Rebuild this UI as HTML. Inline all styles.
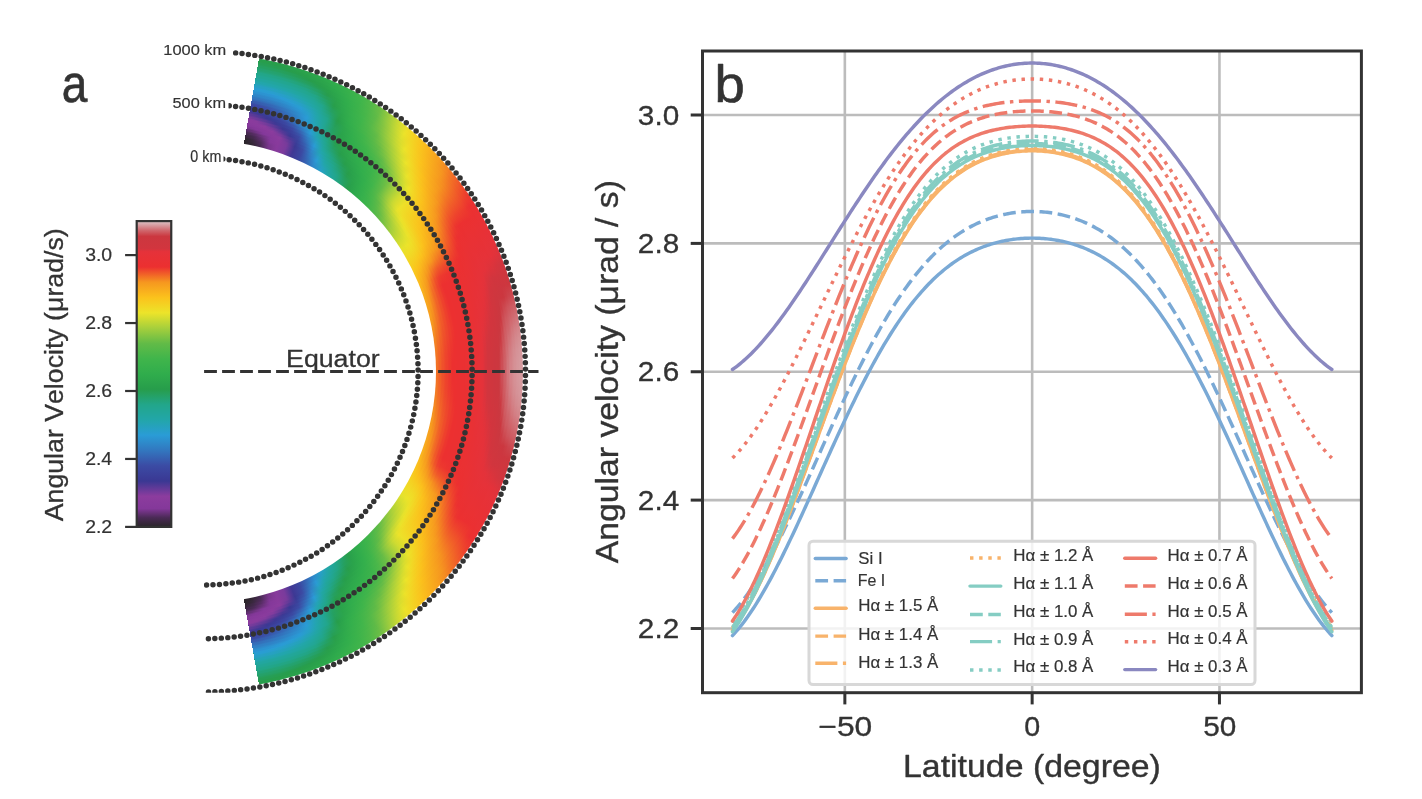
<!DOCTYPE html>
<html><head><meta charset="utf-8"><title>Figure</title>
<style>
html,body{margin:0;padding:0;background:#fff;}
body{width:1422px;height:799px;position:relative;overflow:hidden;font-family:"Liberation Sans", sans-serif;}
.r{position:absolute;border-radius:50%;}
svg text{font-family:"Liberation Sans", sans-serif;font-kerning:none;stroke:#333;stroke-width:0.012em;stroke-linejoin:round;}
</style></head><body>
<div style="position:absolute;left:0;top:0;width:1422px;height:799px;transform-origin:0 371.6px;transform:scaleY(0.9945)"><div class="r" style="left:-116.1px;top:52px;width:639.2px;height:639.2px;background:conic-gradient(#0000 10deg,#289e4b 10deg,#289f4b 12deg,#29a04b 14deg,#29a14b 16deg,#2aa34b 18deg,#2ca54c 20deg,#2da84c 22deg,#30ac4c 24deg,#34af4c 26deg,#3bb24b 28deg,#43b64b 30deg,#55b949 32deg,#73c044 34deg,#a2ce3d 36deg,#d2dc31 38deg,#efdd27 40deg,#f6cd20 42deg,#fabd1c 44deg,#f8ab1e 46deg,#f79c1f 48deg,#f48223 50deg,#f16627 52deg,#ef4e2b 54deg,#ed392f 56deg,#eb3031 58deg,#ea3134 60deg,#e83136 62deg,#e73238 64deg,#e5323a 66deg,#dc333c 68deg,#d2353e 70deg,#cf363e 72deg,#cc373f 74deg,#cd484f 76deg,#cf5f65 78deg,#d17278 80deg,#d48489 82deg,#d59094 84deg,#d6979b 86deg,#d69b9f 88deg,#d79ca0 90deg,#d69b9f 92deg,#d6979b 94deg,#d59094 96deg,#d48489 98deg,#d17278 100deg,#cf5f65 102deg,#cd484f 104deg,#cc373f 106deg,#cf363e 108deg,#d2353e 110deg,#dc333c 112deg,#e5323a 114deg,#e73238 116deg,#e83136 118deg,#ea3134 120deg,#eb3031 122deg,#ed392f 124deg,#ef4e2b 126deg,#f16627 128deg,#f48223 130deg,#f79c1f 132deg,#f8ab1e 134deg,#fabd1c 136deg,#f6cd20 138deg,#efdd27 140deg,#d2dc31 142deg,#a2ce3d 144deg,#73c044 146deg,#55b949 148deg,#43b64b 150deg,#3bb24b 152deg,#34af4c 154deg,#30ac4c 156deg,#2da84c 158deg,#2ca54c 160deg,#2aa34b 162deg,#29a14b 164deg,#29a04b 166deg,#289f4b 168deg,#289e4b 170deg,#0000 170deg)"></div>
<div class="r" style="left:-114.65px;top:53.45px;width:636.31px;height:636.31px;background:conic-gradient(#0000 10deg,#279d4b 10deg,#279e4b 12deg,#289e4b 14deg,#29a04b 16deg,#2aa14b 18deg,#2ba44b 20deg,#2ca74c 22deg,#2fab4c 24deg,#33af4c 26deg,#3ab24b 28deg,#41b54b 30deg,#53b849 32deg,#70bf45 34deg,#a0cd3d 36deg,#cfdb31 38deg,#eede28 40deg,#f6ce21 42deg,#fbbe1c 44deg,#f9ad1d 46deg,#f79d1f 48deg,#f48522 50deg,#f26927 52deg,#ef522a 54deg,#ed3c2e 56deg,#eb3031 58deg,#ea3133 60deg,#e83135 62deg,#e73137 64deg,#e63239 66deg,#dd333c 68deg,#d2353e 70deg,#cf363e 72deg,#cc373f 74deg,#cd474e 76deg,#cf5e64 78deg,#d17177 80deg,#d38388 82deg,#d58f93 84deg,#d6969b 86deg,#d69a9e 88deg,#d79ba0 90deg,#d69a9e 92deg,#d6969b 94deg,#d58f93 96deg,#d38388 98deg,#d17177 100deg,#cf5e64 102deg,#cd474e 104deg,#cc373f 106deg,#cf363e 108deg,#d2353e 110deg,#dd333c 112deg,#e63239 114deg,#e73137 116deg,#e83135 118deg,#ea3133 120deg,#eb3031 122deg,#ed3c2e 124deg,#ef522a 126deg,#f26927 128deg,#f48522 130deg,#f79d1f 132deg,#f9ad1d 134deg,#fbbe1c 136deg,#f6ce21 138deg,#eede28 140deg,#cfdb31 142deg,#a0cd3d 144deg,#70bf45 146deg,#53b849 148deg,#41b54b 150deg,#3ab24b 152deg,#33af4c 154deg,#2fab4c 156deg,#2ca74c 158deg,#2ba44b 160deg,#2aa14b 162deg,#29a04b 164deg,#289e4b 166deg,#279e4b 168deg,#279d4b 170deg,#0000 170deg)"></div>
<div class="r" style="left:-113.21px;top:54.89px;width:633.41px;height:633.41px;background:conic-gradient(#0000 10deg,#279e50 10deg,#279d4e 12deg,#279d4b 14deg,#289e4b 16deg,#29a04b 18deg,#2aa24b 20deg,#2ba54b 22deg,#2ea94c 24deg,#32ae4c 26deg,#39b14b 28deg,#40b54b 30deg,#52b849 32deg,#6dbe45 34deg,#9dcc3e 36deg,#ccda32 38deg,#eee028 40deg,#f5d022 42deg,#fbc01c 44deg,#f9ae1d 46deg,#f79f1e 48deg,#f58921 50deg,#f26d26 52deg,#f0552a 54deg,#ed3f2d 56deg,#ec3031 58deg,#ea3133 60deg,#e83135 62deg,#e73137 64deg,#e63239 66deg,#df333b 68deg,#d2353e 70deg,#cf363e 72deg,#cc373f 74deg,#cc454d 76deg,#cf5c63 78deg,#d16e74 80deg,#d38086 82deg,#d58d91 84deg,#d69499 86deg,#d6999d 88deg,#d69a9e 90deg,#d6999d 92deg,#d69499 94deg,#d58d91 96deg,#d38086 98deg,#d16e74 100deg,#cf5c63 102deg,#cc454d 104deg,#cc373f 106deg,#cf363e 108deg,#d2353e 110deg,#df333b 112deg,#e63239 114deg,#e73137 116deg,#e83135 118deg,#ea3133 120deg,#ec3031 122deg,#ed3f2d 124deg,#f0552a 126deg,#f26d26 128deg,#f58921 130deg,#f79f1e 132deg,#f9ae1d 134deg,#fbc01c 136deg,#f5d022 138deg,#eee028 140deg,#ccda32 142deg,#9dcc3e 144deg,#6dbe45 146deg,#52b849 148deg,#40b54b 150deg,#39b14b 152deg,#32ae4c 154deg,#2ea94c 156deg,#2ba54b 158deg,#2aa24b 160deg,#29a04b 162deg,#289e4b 164deg,#279d4b 166deg,#279d4e 168deg,#279e50 170deg,#0000 170deg)"></div>
<div class="r" style="left:-111.76px;top:56.34px;width:630.52px;height:630.52px;background:conic-gradient(#0000 10deg,#269e55 10deg,#269e54 12deg,#279e51 14deg,#279d4c 16deg,#289e4b 18deg,#29a04b 20deg,#2ba34b 22deg,#2da84c 24deg,#31ad4c 26deg,#38b14c 28deg,#3fb54b 30deg,#50b849 32deg,#6abd46 34deg,#9acb3e 36deg,#c9d933 38deg,#ede129 40deg,#f4d122 42deg,#fbc21c 44deg,#f9b01d 46deg,#f7a01e 48deg,#f58c21 50deg,#f27025 52deg,#f05829 54deg,#ee422d 56deg,#ec3030 58deg,#ea3133 60deg,#e93135 62deg,#e73137 64deg,#e63239 66deg,#e1333b 68deg,#d3353e 70deg,#d0363e 72deg,#cd373f 74deg,#cc434b 76deg,#cf5a61 78deg,#d06b71 80deg,#d37d83 82deg,#d48a8f 84deg,#d59297 86deg,#d6969b 88deg,#d6989c 90deg,#d6969b 92deg,#d59297 94deg,#d48a8f 96deg,#d37d83 98deg,#d06b71 100deg,#cf5a61 102deg,#cc434b 104deg,#cd373f 106deg,#d0363e 108deg,#d3353e 110deg,#e1333b 112deg,#e63239 114deg,#e73137 116deg,#e93135 118deg,#ea3133 120deg,#ec3030 122deg,#ee422d 124deg,#f05829 126deg,#f27025 128deg,#f58c21 130deg,#f7a01e 132deg,#f9b01d 134deg,#fbc21c 136deg,#f4d122 138deg,#ede129 140deg,#c9d933 142deg,#9acb3e 144deg,#6abd46 146deg,#50b849 148deg,#3fb54b 150deg,#38b14c 152deg,#31ad4c 154deg,#2da84c 156deg,#2ba34b 158deg,#29a04b 160deg,#289e4b 162deg,#279d4c 164deg,#279e51 166deg,#269e54 168deg,#269e55 170deg,#0000 170deg)"></div>
<div class="r" style="left:-110.31px;top:57.79px;width:627.63px;height:627.63px;background:conic-gradient(#0000 10deg,#269f5b 10deg,#269f5a 12deg,#269f57 14deg,#269e53 16deg,#279d4d 18deg,#289f4b 20deg,#2aa14b 22deg,#2ca64c 24deg,#30ac4c 26deg,#37b04c 28deg,#3eb44b 30deg,#4fb849 32deg,#68bd46 34deg,#97cb3e 36deg,#c5d834 38deg,#ece32a 40deg,#f4d323 42deg,#fac31d 44deg,#f9b21d 46deg,#f7a21e 48deg,#f59020 50deg,#f37425 52deg,#f05b29 54deg,#ee452c 56deg,#ec3030 58deg,#ea3032 60deg,#e93134 62deg,#e83136 64deg,#e63238 66deg,#e2323b 68deg,#d4353d 70deg,#d0363e 72deg,#cd363f 74deg,#cc4048 76deg,#ce575e 78deg,#d0676d 80deg,#d2797f 82deg,#d4868b 84deg,#d58f94 86deg,#d69398 88deg,#d6959a 90deg,#d69398 92deg,#d58f94 94deg,#d4868b 96deg,#d2797f 98deg,#d0676d 100deg,#ce575e 102deg,#cc4048 104deg,#cd363f 106deg,#d0363e 108deg,#d4353d 110deg,#e2323b 112deg,#e63238 114deg,#e83136 116deg,#e93134 118deg,#ea3032 120deg,#ec3030 122deg,#ee452c 124deg,#f05b29 126deg,#f37425 128deg,#f59020 130deg,#f7a21e 132deg,#f9b21d 134deg,#fac31d 136deg,#f4d323 138deg,#ece32a 140deg,#c5d834 142deg,#97cb3e 144deg,#68bd46 146deg,#4fb849 148deg,#3eb44b 150deg,#37b04c 152deg,#30ac4c 154deg,#2ca64c 156deg,#2aa14b 158deg,#289f4b 160deg,#279d4d 162deg,#269e53 164deg,#269f57 166deg,#269f5a 168deg,#269f5b 170deg,#0000 170deg)"></div>
<div class="r" style="left:-108.87px;top:59.23px;width:624.73px;height:624.73px;background:conic-gradient(#0000 10deg,#25a062 10deg,#25a061 12deg,#25a05e 14deg,#269f5a 16deg,#269e54 18deg,#279d4c 20deg,#29a04b 22deg,#2ba54b 24deg,#2fab4c 26deg,#36b04c 28deg,#3db44b 30deg,#4db749 32deg,#65bc47 34deg,#94ca3f 36deg,#c2d735 38deg,#eae32a 40deg,#f3d424 42deg,#fac51d 44deg,#f9b41d 46deg,#f7a41e 48deg,#f69420 50deg,#f37724 52deg,#f15e28 54deg,#ee482c 56deg,#ec3330 58deg,#eb3032 60deg,#e93134 62deg,#e83136 64deg,#e63238 66deg,#e4323a 68deg,#d6343d 70deg,#d0363e 72deg,#cd363f 74deg,#cc3d45 76deg,#ce545b 78deg,#d0646a 80deg,#d2757a 82deg,#d38287 84deg,#d48b90 86deg,#d59095 88deg,#d59296 90deg,#d59095 92deg,#d48b90 94deg,#d38287 96deg,#d2757a 98deg,#d0646a 100deg,#ce545b 102deg,#cc3d45 104deg,#cd363f 106deg,#d0363e 108deg,#d6343d 110deg,#e4323a 112deg,#e63238 114deg,#e83136 116deg,#e93134 118deg,#eb3032 120deg,#ec3330 122deg,#ee482c 124deg,#f15e28 126deg,#f37724 128deg,#f69420 130deg,#f7a41e 132deg,#f9b41d 134deg,#fac51d 136deg,#f3d424 138deg,#eae32a 140deg,#c2d735 142deg,#94ca3f 144deg,#65bc47 146deg,#4db749 148deg,#3db44b 150deg,#36b04c 152deg,#2fab4c 154deg,#2ba54b 156deg,#29a04b 158deg,#279d4c 160deg,#269e54 162deg,#269f5a 164deg,#25a05e 166deg,#25a061 168deg,#25a062 170deg,#0000 170deg)"></div>
<div class="r" style="left:-107.42px;top:60.68px;width:621.84px;height:621.84px;background:conic-gradient(#0000 10deg,#25a169 10deg,#25a168 12deg,#25a166 14deg,#25a061 16deg,#269f5b 18deg,#269e54 20deg,#289e4b 22deg,#2aa34b 24deg,#2eaa4c 26deg,#34af4c 28deg,#3db34b 30deg,#4cb74a 32deg,#62bb47 34deg,#90c940 36deg,#bed636 38deg,#e6e22b 40deg,#f2d624 42deg,#f9c61e 44deg,#fab61d 46deg,#f8a61e 48deg,#f6971f 50deg,#f37b24 52deg,#f16228 54deg,#ef4b2c 56deg,#ed352f 58deg,#eb3032 60deg,#e93134 62deg,#e83136 64deg,#e73238 66deg,#e5323a 68deg,#d8343d 70deg,#d0353e 72deg,#cd363f 74deg,#cb3941 76deg,#ce5158 78deg,#cf6167 80deg,#d16f75 82deg,#d37d83 84deg,#d4878c 86deg,#d58c91 88deg,#d58e93 90deg,#d58c91 92deg,#d4878c 94deg,#d37d83 96deg,#d16f75 98deg,#cf6167 100deg,#ce5158 102deg,#cb3941 104deg,#cd363f 106deg,#d0353e 108deg,#d8343d 110deg,#e5323a 112deg,#e73238 114deg,#e83136 116deg,#e93134 118deg,#eb3032 120deg,#ed352f 122deg,#ef4b2c 124deg,#f16228 126deg,#f37b24 128deg,#f6971f 130deg,#f8a61e 132deg,#fab61d 134deg,#f9c61e 136deg,#f2d624 138deg,#e6e22b 140deg,#bed636 142deg,#90c940 144deg,#62bb47 146deg,#4cb74a 148deg,#3db34b 150deg,#34af4c 152deg,#2eaa4c 154deg,#2aa34b 156deg,#289e4b 158deg,#269e54 160deg,#269f5b 162deg,#25a061 164deg,#25a166 166deg,#25a168 168deg,#25a169 170deg,#0000 170deg)"></div>
<div class="r" style="left:-105.97px;top:62.13px;width:618.95px;height:618.95px;background:conic-gradient(#0000 10deg,#24a270 10deg,#24a270 12deg,#24a26d 14deg,#25a169 16deg,#25a063 18deg,#269f5b 20deg,#279e4f 22deg,#29a14b 24deg,#2da84c 26deg,#33af4c 28deg,#3cb34b 30deg,#4ab74a 32deg,#60bb47 34deg,#8dc840 36deg,#bad537 38deg,#e3e12c 40deg,#f1d825 42deg,#f8c81f 44deg,#fab81d 46deg,#f8a71e 48deg,#f6991f 50deg,#f47e23 52deg,#f16527 54deg,#ef4e2b 56deg,#ed382f 58deg,#eb3032 60deg,#e93134 62deg,#e83136 64deg,#e73238 66deg,#e5323a 68deg,#d9343c 70deg,#d1353e 72deg,#ce363f 74deg,#cb373f 76deg,#cd4d54 78deg,#cf5d64 80deg,#d0696f 82deg,#d2787e 84deg,#d38287 86deg,#d4888d 88deg,#d48a8f 90deg,#d4888d 92deg,#d38287 94deg,#d2787e 96deg,#d0696f 98deg,#cf5d64 100deg,#cd4d54 102deg,#cb373f 104deg,#ce363f 106deg,#d1353e 108deg,#d9343c 110deg,#e5323a 112deg,#e73238 114deg,#e83136 116deg,#e93134 118deg,#eb3032 120deg,#ed382f 122deg,#ef4e2b 124deg,#f16527 126deg,#f47e23 128deg,#f6991f 130deg,#f8a71e 132deg,#fab81d 134deg,#f8c81f 136deg,#f1d825 138deg,#e3e12c 140deg,#bad537 142deg,#8dc840 144deg,#60bb47 146deg,#4ab74a 148deg,#3cb34b 150deg,#33af4c 152deg,#2da84c 154deg,#29a14b 156deg,#279e4f 158deg,#269f5b 160deg,#25a063 162deg,#25a169 164deg,#24a26d 166deg,#24a270 168deg,#24a270 170deg,#0000 170deg)"></div>
<div class="r" style="left:-104.53px;top:63.57px;width:616.05px;height:616.05px;background:conic-gradient(#0000 10deg,#23a378 10deg,#23a377 12deg,#24a375 14deg,#24a271 16deg,#24a26b 18deg,#25a063 20deg,#269f56 22deg,#29a04b 24deg,#2da74c 26deg,#32ae4c 28deg,#3bb34b 30deg,#49b74a 32deg,#5fba47 34deg,#89c741 36deg,#b6d438 38deg,#dfe02d 40deg,#f1da26 42deg,#f7ca1f 44deg,#faba1d 46deg,#f8a91e 48deg,#f69b1f 50deg,#f48222 52deg,#f16827 54deg,#ef502b 56deg,#ed3a2e 58deg,#eb3031 60deg,#ea3134 62deg,#e83135 64deg,#e73137 66deg,#e53239 68deg,#db343c 70deg,#d1353e 72deg,#ce363f 74deg,#cc373f 76deg,#cd4950 78deg,#cf5a60 80deg,#d0656b 82deg,#d17378 84deg,#d37d83 86deg,#d48389 88deg,#d4858b 90deg,#d48389 92deg,#d37d83 94deg,#d17378 96deg,#d0656b 98deg,#cf5a60 100deg,#cd4950 102deg,#cc373f 104deg,#ce363f 106deg,#d1353e 108deg,#db343c 110deg,#e53239 112deg,#e73137 114deg,#e83135 116deg,#ea3134 118deg,#eb3031 120deg,#ed3a2e 122deg,#ef502b 124deg,#f16827 126deg,#f48222 128deg,#f69b1f 130deg,#f8a91e 132deg,#faba1d 134deg,#f7ca1f 136deg,#f1da26 138deg,#dfe02d 140deg,#b6d438 142deg,#89c741 144deg,#5fba47 146deg,#49b74a 148deg,#3bb34b 150deg,#32ae4c 152deg,#2da74c 154deg,#29a04b 156deg,#269f56 158deg,#25a063 160deg,#24a26b 162deg,#24a271 164deg,#24a375 166deg,#23a377 168deg,#23a378 170deg,#0000 170deg)"></div>
<div class="r" style="left:-103.08px;top:65.02px;width:613.16px;height:613.16px;background:conic-gradient(#0000 10deg,#23a580 10deg,#23a580 12deg,#23a47d 14deg,#23a479 16deg,#24a373 18deg,#24a26b 20deg,#26a05e 22deg,#289e4b 24deg,#2ca64c 26deg,#31ae4c 28deg,#3ab24b 30deg,#47b64a 32deg,#5dba48 34deg,#86c641 36deg,#b2d339 38deg,#dadf2f 40deg,#f0dc27 42deg,#f7cc20 44deg,#fabc1c 46deg,#f8ab1e 48deg,#f79d1f 50deg,#f48622 52deg,#f26b26 54deg,#ef532a 56deg,#ed3c2e 58deg,#eb3031 60deg,#ea3133 62deg,#e83135 64deg,#e73137 66deg,#e63239 68deg,#dd333c 70deg,#d1353e 72deg,#ce363f 74deg,#cc373f 76deg,#cc444c 78deg,#ce555c 80deg,#cf6168 82deg,#d16c72 84deg,#d2777d 86deg,#d37e83 88deg,#d38085 90deg,#d37e83 92deg,#d2777d 94deg,#d16c72 96deg,#cf6168 98deg,#ce555c 100deg,#cc444c 102deg,#cc373f 104deg,#ce363f 106deg,#d1353e 108deg,#dd333c 110deg,#e63239 112deg,#e73137 114deg,#e83135 116deg,#ea3133 118deg,#eb3031 120deg,#ed3c2e 122deg,#ef532a 124deg,#f26b26 126deg,#f48622 128deg,#f79d1f 130deg,#f8ab1e 132deg,#fabc1c 134deg,#f7cc20 136deg,#f0dc27 138deg,#dadf2f 140deg,#b2d339 142deg,#86c641 144deg,#5dba48 146deg,#47b64a 148deg,#3ab24b 150deg,#31ae4c 152deg,#2ca64c 154deg,#289e4b 156deg,#26a05e 158deg,#24a26b 160deg,#24a373 162deg,#23a479 164deg,#23a47d 166deg,#23a580 168deg,#23a580 170deg,#0000 170deg)"></div>
<div class="r" style="left:-101.63px;top:66.47px;width:610.27px;height:610.27px;background:conic-gradient(#0000 10deg,#22a689 10deg,#22a689 12deg,#22a586 14deg,#23a582 16deg,#23a47c 18deg,#24a374 20deg,#25a166 22deg,#279d4e 24deg,#2ba44b 26deg,#30ad4c 28deg,#3ab24b 30deg,#46b64a 32deg,#5cba48 34deg,#82c442 36deg,#aed13a 38deg,#d6dd30 40deg,#efde27 42deg,#f6ce21 44deg,#fbbe1c 46deg,#f9ae1d 48deg,#f79f1e 50deg,#f58a21 52deg,#f26e26 54deg,#f0552a 56deg,#ed3d2e 58deg,#eb3031 60deg,#ea3133 62deg,#e83135 64deg,#e73137 66deg,#e63239 68deg,#de333b 70deg,#d1353e 72deg,#cf363e 74deg,#cd373f 76deg,#cc3d45 78deg,#cd4e55 80deg,#cf5b61 82deg,#d0646a 84deg,#d16d73 86deg,#d2757a 88deg,#d2777d 90deg,#d2757a 92deg,#d16d73 94deg,#d0646a 96deg,#cf5b61 98deg,#cd4e55 100deg,#cc3d45 102deg,#cd373f 104deg,#cf363e 106deg,#d1353e 108deg,#de333b 110deg,#e63239 112deg,#e73137 114deg,#e83135 116deg,#ea3133 118deg,#eb3031 120deg,#ed3d2e 122deg,#f0552a 124deg,#f26e26 126deg,#f58a21 128deg,#f79f1e 130deg,#f9ae1d 132deg,#fbbe1c 134deg,#f6ce21 136deg,#efde27 138deg,#d6dd30 140deg,#aed13a 142deg,#82c442 144deg,#5cba48 146deg,#46b64a 148deg,#3ab24b 150deg,#30ad4c 152deg,#2ba44b 154deg,#279d4e 156deg,#25a166 158deg,#24a374 160deg,#23a47c 162deg,#23a582 164deg,#22a586 166deg,#22a689 168deg,#22a689 170deg,#0000 170deg)"></div>
<div class="r" style="left:-100.19px;top:67.91px;width:607.37px;height:607.37px;background:conic-gradient(#0000 10deg,#22a68f 10deg,#22a68e 12deg,#22a68d 14deg,#22a68b 16deg,#22a585 18deg,#23a47d 20deg,#24a26e 22deg,#269e55 24deg,#2aa34b 26deg,#30ac4c 28deg,#39b14b 30deg,#44b64a 32deg,#5aba48 34deg,#7fc342 36deg,#aad03b 38deg,#d1dc31 40deg,#eee028 42deg,#f5d022 44deg,#fbc11c 46deg,#f9b01d 48deg,#f7a01e 50deg,#f58e21 52deg,#f27125 54deg,#f0572a 56deg,#ed3f2e 58deg,#eb3031 60deg,#ea3133 62deg,#e93135 64deg,#e73137 66deg,#e63239 68deg,#e0333b 70deg,#d2353e 72deg,#d0363e 74deg,#cd363f 76deg,#cb373f 78deg,#cc444b 80deg,#ce5158 82deg,#cf5c62 84deg,#d0646a 86deg,#d0686e 88deg,#d06b71 90deg,#d0686e 92deg,#d0646a 94deg,#cf5c62 96deg,#ce5158 98deg,#cc444b 100deg,#cb373f 102deg,#cd363f 104deg,#d0363e 106deg,#d2353e 108deg,#e0333b 110deg,#e63239 112deg,#e73137 114deg,#e93135 116deg,#ea3133 118deg,#eb3031 120deg,#ed3f2e 122deg,#f0572a 124deg,#f27125 126deg,#f58e21 128deg,#f7a01e 130deg,#f9b01d 132deg,#fbc11c 134deg,#f5d022 136deg,#eee028 138deg,#d1dc31 140deg,#aad03b 142deg,#7fc342 144deg,#5aba48 146deg,#44b64a 148deg,#39b14b 150deg,#30ac4c 152deg,#2aa34b 154deg,#269e55 156deg,#24a26e 158deg,#23a47d 160deg,#22a585 162deg,#22a68b 164deg,#22a68d 166deg,#22a68e 168deg,#22a68f 170deg,#0000 170deg)"></div>
<div class="r" style="left:-98.74px;top:69.36px;width:604.48px;height:604.48px;background:conic-gradient(#0000 10deg,#22a694 10deg,#22a694 12deg,#22a692 14deg,#22a690 16deg,#22a68c 18deg,#22a586 20deg,#24a376 22deg,#269f5c 24deg,#2aa14b 26deg,#2fab4c 28deg,#38b14b 30deg,#43b64b 32deg,#58b948 34deg,#7bc243 36deg,#a5cf3c 38deg,#ccda32 40deg,#ede229 42deg,#f4d223 44deg,#fbc31c 46deg,#f9b21d 48deg,#f7a21e 50deg,#f59120 52deg,#f37425 54deg,#f05929 56deg,#ee402d 58deg,#eb3031 60deg,#ea3133 62deg,#e93135 64deg,#e73137 66deg,#e63239 68deg,#e2333b 70deg,#d4353e 72deg,#d0363e 74deg,#ce363f 76deg,#cc373f 78deg,#cb3840 80deg,#cd464d 82deg,#ce5259 84deg,#cf5b61 86deg,#cf6066 88deg,#cf6168 90deg,#cf6066 92deg,#cf5b61 94deg,#ce5259 96deg,#cd464d 98deg,#cb3840 100deg,#cc373f 102deg,#ce363f 104deg,#d0363e 106deg,#d4353e 108deg,#e2333b 110deg,#e63239 112deg,#e73137 114deg,#e93135 116deg,#ea3133 118deg,#eb3031 120deg,#ee402d 122deg,#f05929 124deg,#f37425 126deg,#f59120 128deg,#f7a21e 130deg,#f9b21d 132deg,#fbc31c 134deg,#f4d223 136deg,#ede229 138deg,#ccda32 140deg,#a5cf3c 142deg,#7bc243 144deg,#58b948 146deg,#43b64b 148deg,#38b14b 150deg,#2fab4c 152deg,#2aa14b 154deg,#269f5c 156deg,#24a376 158deg,#22a586 160deg,#22a68c 162deg,#22a690 164deg,#22a692 166deg,#22a694 168deg,#22a694 170deg,#0000 170deg)"></div>
<div class="r" style="left:-97.29px;top:70.81px;width:601.59px;height:601.59px;background:conic-gradient(#0000 10deg,#22a69a 10deg,#22a699 12deg,#22a698 14deg,#22a695 16deg,#22a692 18deg,#22a68d 20deg,#23a47f 22deg,#25a063 24deg,#29a04b 26deg,#2faa4c 28deg,#37b14c 30deg,#42b54b 32deg,#57b948 34deg,#77c144 36deg,#a0cd3d 38deg,#c7d933 40deg,#ebe42a 42deg,#f3d424 44deg,#fac51d 46deg,#f9b41d 48deg,#f8a51e 50deg,#f6951f 52deg,#f37724 54deg,#f05b29 56deg,#ee412d 58deg,#ec3031 60deg,#ea3133 62deg,#e93135 64deg,#e73136 66deg,#e63238 68deg,#e4323a 70deg,#d7343d 72deg,#d1353e 74deg,#cf363e 76deg,#cd363f 78deg,#cc373f 80deg,#cb3a42 82deg,#cd474e 84deg,#ce5158 86deg,#ce565d 88deg,#ce585f 90deg,#ce565d 92deg,#ce5158 94deg,#cd474e 96deg,#cb3a42 98deg,#cc373f 100deg,#cd363f 102deg,#cf363e 104deg,#d1353e 106deg,#d7343d 108deg,#e4323a 110deg,#e63238 112deg,#e73136 114deg,#e93135 116deg,#ea3133 118deg,#ec3031 120deg,#ee412d 122deg,#f05b29 124deg,#f37724 126deg,#f6951f 128deg,#f8a51e 130deg,#f9b41d 132deg,#fac51d 134deg,#f3d424 136deg,#ebe42a 138deg,#c7d933 140deg,#a0cd3d 142deg,#77c144 144deg,#57b948 146deg,#42b54b 148deg,#37b14c 150deg,#2faa4c 152deg,#29a04b 154deg,#25a063 156deg,#23a47f 158deg,#22a68d 160deg,#22a692 162deg,#22a695 164deg,#22a698 166deg,#22a699 168deg,#22a69a 170deg,#0000 170deg)"></div>
<div class="r" style="left:-95.85px;top:72.25px;width:598.69px;height:598.69px;background:conic-gradient(#0000 10deg,#22a69f 10deg,#22a69f 12deg,#22a69e 14deg,#22a69b 16deg,#22a697 18deg,#22a691 20deg,#22a688 22deg,#24a26b 24deg,#289f4b 26deg,#2ea94c 28deg,#37b04c 30deg,#40b54b 32deg,#55b949 34deg,#72c044 36deg,#9bcc3e 38deg,#c2d735 40deg,#e5e22c 42deg,#f2d725 44deg,#f9c71e 46deg,#fab71d 48deg,#f8a71e 50deg,#f6981f 52deg,#f37a24 54deg,#f05d29 56deg,#ee432d 58deg,#ec3031 60deg,#ea3133 62deg,#e93135 64deg,#e83136 66deg,#e63238 68deg,#e5323a 70deg,#da343c 72deg,#d2353e 74deg,#d0363e 76deg,#cf363e 78deg,#cd363f 80deg,#cc373f 82deg,#cb3b43 84deg,#cd464d 86deg,#cd4c54 88deg,#cd4f56 90deg,#cd4c54 92deg,#cd464d 94deg,#cb3b43 96deg,#cc373f 98deg,#cd363f 100deg,#cf363e 102deg,#d0363e 104deg,#d2353e 106deg,#da343c 108deg,#e5323a 110deg,#e63238 112deg,#e83136 114deg,#e93135 116deg,#ea3133 118deg,#ec3031 120deg,#ee432d 122deg,#f05d29 124deg,#f37a24 126deg,#f6981f 128deg,#f8a71e 130deg,#fab71d 132deg,#f9c71e 134deg,#f2d725 136deg,#e5e22c 138deg,#c2d735 140deg,#9bcc3e 142deg,#72c044 144deg,#55b949 146deg,#40b54b 148deg,#37b04c 150deg,#2ea94c 152deg,#289f4b 154deg,#24a26b 156deg,#22a688 158deg,#22a691 160deg,#22a697 162deg,#22a69b 164deg,#22a69e 166deg,#22a69f 168deg,#22a69f 170deg,#0000 170deg)"></div>
<div class="r" style="left:-94.4px;top:73.7px;width:595.8px;height:595.8px;background:conic-gradient(#0000 10deg,#22a6a5 10deg,#22a6a5 12deg,#22a6a3 14deg,#22a6a0 16deg,#22a69c 18deg,#22a696 20deg,#22a68d 22deg,#24a372 24deg,#279d4b 26deg,#2da84c 28deg,#36b04c 30deg,#3fb54b 32deg,#53b849 34deg,#6ebf45 36deg,#96ca3f 38deg,#bcd636 40deg,#e0e02d 42deg,#f1d926 44deg,#f8ca1f 46deg,#fab91d 48deg,#f8a91e 50deg,#f69a1f 52deg,#f37d23 54deg,#f15f28 56deg,#ee442d 58deg,#ec3030 60deg,#ea3133 62deg,#e93134 64deg,#e83136 66deg,#e73238 68deg,#e5323a 70deg,#dd333c 72deg,#d4353e 74deg,#d1353e 76deg,#d0363e 78deg,#ce363f 80deg,#cd363f 82deg,#cc373f 84deg,#cb3b43 86deg,#cc424a 88deg,#cc444c 90deg,#cc424a 92deg,#cb3b43 94deg,#cc373f 96deg,#cd363f 98deg,#ce363f 100deg,#d0363e 102deg,#d1353e 104deg,#d4353e 106deg,#dd333c 108deg,#e5323a 110deg,#e73238 112deg,#e83136 114deg,#e93134 116deg,#ea3133 118deg,#ec3030 120deg,#ee442d 122deg,#f15f28 124deg,#f37d23 126deg,#f69a1f 128deg,#f8a91e 130deg,#fab91d 132deg,#f8ca1f 134deg,#f1d926 136deg,#e0e02d 138deg,#bcd636 140deg,#96ca3f 142deg,#6ebf45 144deg,#53b849 146deg,#3fb54b 148deg,#36b04c 150deg,#2da84c 152deg,#279d4b 154deg,#24a372 156deg,#22a68d 158deg,#22a696 160deg,#22a69c 162deg,#22a6a0 164deg,#22a6a3 166deg,#22a6a5 168deg,#22a6a5 170deg,#0000 170deg)"></div>
<div class="r" style="left:-92.95px;top:75.15px;width:592.91px;height:592.91px;background:conic-gradient(#0000 10deg,#23a5ac 10deg,#22a6ab 12deg,#22a6a9 14deg,#22a6a6 16deg,#22a6a1 18deg,#22a69b 20deg,#22a692 22deg,#23a479 24deg,#279e50 26deg,#2da74c 28deg,#35af4c 30deg,#3eb44b 32deg,#51b849 34deg,#69bd46 36deg,#91c93f 38deg,#b7d438 40deg,#dbdf2e 42deg,#f0dc27 44deg,#f7cc20 46deg,#fabc1c 48deg,#f8ab1e 50deg,#f79c1f 52deg,#f48023 54deg,#f16128 56deg,#ee462c 58deg,#ec3030 60deg,#ea3032 62deg,#e93134 64deg,#e83136 66deg,#e73238 68deg,#e63239 70deg,#e1333b 72deg,#d9343d 74deg,#d2353e 76deg,#d1353e 78deg,#d0363e 80deg,#ce363f 82deg,#cd373f 84deg,#cc373f 86deg,#cb3840 88deg,#cb3a42 90deg,#cb3840 92deg,#cc373f 94deg,#cd373f 96deg,#ce363f 98deg,#d0363e 100deg,#d1353e 102deg,#d2353e 104deg,#d9343d 106deg,#e1333b 108deg,#e63239 110deg,#e73238 112deg,#e83136 114deg,#e93134 116deg,#ea3032 118deg,#ec3030 120deg,#ee462c 122deg,#f16128 124deg,#f48023 126deg,#f79c1f 128deg,#f8ab1e 130deg,#fabc1c 132deg,#f7cc20 134deg,#f0dc27 136deg,#dbdf2e 138deg,#b7d438 140deg,#91c93f 142deg,#69bd46 144deg,#51b849 146deg,#3eb44b 148deg,#35af4c 150deg,#2da74c 152deg,#279e50 154deg,#23a479 156deg,#22a692 158deg,#22a69b 160deg,#22a6a1 162deg,#22a6a6 164deg,#22a6a9 166deg,#22a6ab 168deg,#23a5ac 170deg,#0000 170deg)"></div>
<div class="r" style="left:-91.51px;top:76.59px;width:590.01px;height:590.01px;background:conic-gradient(#0000 10deg,#24a4b4 10deg,#24a4b3 12deg,#23a4b1 14deg,#22a5ac 16deg,#22a6a6 18deg,#22a6a0 20deg,#22a696 22deg,#23a581 24deg,#269f56 26deg,#2ca64c 28deg,#34af4c 30deg,#3eb44b 32deg,#4fb849 34deg,#65bc47 36deg,#8cc740 38deg,#b1d239 40deg,#d5dd30 42deg,#efde28 44deg,#f6ce21 46deg,#fbbf1c 48deg,#f9ae1d 50deg,#f79e1f 52deg,#f48422 54deg,#f16427 56deg,#ee472c 58deg,#ec3030 60deg,#ea3032 62deg,#e93134 64deg,#e83136 66deg,#e73137 68deg,#e63239 70deg,#e4323a 72deg,#dd333c 74deg,#d6343d 76deg,#d2353e 78deg,#d0353e 80deg,#cf363e 82deg,#ce363f 84deg,#cc373f 86deg,#cc373f 88deg,#cc373f 90deg,#cc373f 92deg,#cc373f 94deg,#ce363f 96deg,#cf363e 98deg,#d0353e 100deg,#d2353e 102deg,#d6343d 104deg,#dd333c 106deg,#e4323a 108deg,#e63239 110deg,#e73137 112deg,#e83136 114deg,#e93134 116deg,#ea3032 118deg,#ec3030 120deg,#ee472c 122deg,#f16427 124deg,#f48422 126deg,#f79e1f 128deg,#f9ae1d 130deg,#fbbf1c 132deg,#f6ce21 134deg,#efde28 136deg,#d5dd30 138deg,#b1d239 140deg,#8cc740 142deg,#65bc47 144deg,#4fb849 146deg,#3eb44b 148deg,#34af4c 150deg,#2ca64c 152deg,#269f56 154deg,#23a581 156deg,#22a696 158deg,#22a6a0 160deg,#22a6a6 162deg,#22a5ac 164deg,#23a4b1 166deg,#24a4b3 168deg,#24a4b4 170deg,#0000 170deg)"></div>
<div class="r" style="left:-90.06px;top:78.04px;width:587.12px;height:587.12px;background:conic-gradient(#0000 10deg,#25a2bc 10deg,#25a2bb 12deg,#25a3b8 14deg,#24a4b3 16deg,#22a5ac 18deg,#22a6a4 20deg,#22a69a 22deg,#22a688 24deg,#269f5c 26deg,#2ba54b 28deg,#33af4c 30deg,#3db34b 32deg,#4db749 34deg,#61bb47 36deg,#86c641 38deg,#abd03b 40deg,#cfdb31 42deg,#ede129 44deg,#f4d122 46deg,#fbc21c 48deg,#f9b01d 50deg,#f7a01e 52deg,#f58821 54deg,#f16727 56deg,#ef4a2c 58deg,#ec3130 60deg,#eb3032 62deg,#e93134 64deg,#e83135 66deg,#e73137 68deg,#e63238 70deg,#e5323a 72deg,#e1333b 74deg,#da343c 76deg,#d3353e 78deg,#d1353e 80deg,#d0363e 82deg,#ce363f 84deg,#cd363f 86deg,#cd373f 88deg,#cc373f 90deg,#cd373f 92deg,#cd363f 94deg,#ce363f 96deg,#d0363e 98deg,#d1353e 100deg,#d3353e 102deg,#da343c 104deg,#e1333b 106deg,#e5323a 108deg,#e63238 110deg,#e73137 112deg,#e83135 114deg,#e93134 116deg,#eb3032 118deg,#ec3130 120deg,#ef4a2c 122deg,#f16727 124deg,#f58821 126deg,#f7a01e 128deg,#f9b01d 130deg,#fbc21c 132deg,#f4d122 134deg,#ede129 136deg,#cfdb31 138deg,#abd03b 140deg,#86c641 142deg,#61bb47 144deg,#4db749 146deg,#3db34b 148deg,#33af4c 150deg,#2ba54b 152deg,#269f5c 154deg,#22a688 156deg,#22a69a 158deg,#22a6a4 160deg,#22a5ac 162deg,#24a4b3 164deg,#25a3b8 166deg,#25a2bb 168deg,#25a2bc 170deg,#0000 170deg)"></div>
<div class="r" style="left:-88.61px;top:79.49px;width:584.23px;height:584.23px;background:conic-gradient(#0000 10deg,#27a0c3 10deg,#27a0c3 12deg,#26a1c0 14deg,#25a2ba 16deg,#24a4b3 18deg,#22a6a9 20deg,#22a69e 22deg,#22a68d 24deg,#25a062 26deg,#2ba44b 28deg,#32ae4c 30deg,#3cb34b 32deg,#4bb74a 34deg,#5eba47 36deg,#80c442 38deg,#a5cf3c 40deg,#c9da33 42deg,#ece42a 44deg,#f3d323 46deg,#fac41d 48deg,#f9b31d 50deg,#f7a31e 52deg,#f58d21 54deg,#f26b26 56deg,#ef4d2b 58deg,#ec342f 60deg,#eb3032 62deg,#ea3133 64deg,#e83135 66deg,#e73136 68deg,#e63238 70deg,#e63239 72deg,#e4323a 74deg,#de333b 76deg,#d8343d 78deg,#d2353e 80deg,#d1353e 82deg,#cf363e 84deg,#ce363f 86deg,#cd363f 88deg,#cd363f 90deg,#cd363f 92deg,#ce363f 94deg,#cf363e 96deg,#d1353e 98deg,#d2353e 100deg,#d8343d 102deg,#de333b 104deg,#e4323a 106deg,#e63239 108deg,#e63238 110deg,#e73136 112deg,#e83135 114deg,#ea3133 116deg,#eb3032 118deg,#ec342f 120deg,#ef4d2b 122deg,#f26b26 124deg,#f58d21 126deg,#f7a31e 128deg,#f9b31d 130deg,#fac41d 132deg,#f3d323 134deg,#ece42a 136deg,#c9da33 138deg,#a5cf3c 140deg,#80c442 142deg,#5eba47 144deg,#4bb74a 146deg,#3cb34b 148deg,#32ae4c 150deg,#2ba44b 152deg,#25a062 154deg,#22a68d 156deg,#22a69e 158deg,#22a6a9 160deg,#24a4b3 162deg,#25a2ba 164deg,#26a1c0 166deg,#27a0c3 168deg,#27a0c3 170deg,#0000 170deg)"></div>
<div class="r" style="left:-87.17px;top:80.93px;width:581.33px;height:581.33px;background:conic-gradient(#0000 10deg,#289ecb 10deg,#289fca 12deg,#279fc7 14deg,#26a1c2 16deg,#25a2ba 18deg,#23a4b0 20deg,#22a6a3 22deg,#22a691 24deg,#25a169 26deg,#2aa24b 28deg,#31ad4c 30deg,#3bb24b 32deg,#48b64a 34deg,#5bba48 36deg,#7ac243 38deg,#9ecd3d 40deg,#c3d835 42deg,#e6e22b 44deg,#f2d624 46deg,#f9c71e 48deg,#fab61d 50deg,#f8a51e 52deg,#f69320 54deg,#f27025 56deg,#ef522a 58deg,#ed382f 60deg,#eb3031 62deg,#ea3133 64deg,#e93135 66deg,#e83136 68deg,#e73137 70deg,#e63239 72deg,#e5323a 74deg,#e2323b 76deg,#dc333c 78deg,#d5353d 80deg,#d1353e 82deg,#d0363e 84deg,#cf363e 86deg,#ce363f 88deg,#ce363f 90deg,#ce363f 92deg,#cf363e 94deg,#d0363e 96deg,#d1353e 98deg,#d5353d 100deg,#dc333c 102deg,#e2323b 104deg,#e5323a 106deg,#e63239 108deg,#e73137 110deg,#e83136 112deg,#e93135 114deg,#ea3133 116deg,#eb3031 118deg,#ed382f 120deg,#ef522a 122deg,#f27025 124deg,#f69320 126deg,#f8a51e 128deg,#fab61d 130deg,#f9c71e 132deg,#f2d624 134deg,#e6e22b 136deg,#c3d835 138deg,#9ecd3d 140deg,#7ac243 142deg,#5bba48 144deg,#48b64a 146deg,#3bb24b 148deg,#31ad4c 150deg,#2aa24b 152deg,#25a169 154deg,#22a691 156deg,#22a6a3 158deg,#23a4b0 160deg,#25a2ba 162deg,#26a1c2 164deg,#279fc7 166deg,#289fca 168deg,#289ecb 170deg,#0000 170deg)"></div>
<div class="r" style="left:-85.72px;top:82.38px;width:578.44px;height:578.44px;background:conic-gradient(#0000 10deg,#299dd2 10deg,#299dd2 12deg,#299ece 14deg,#289fc9 16deg,#26a1c1 18deg,#25a3b7 20deg,#22a6a7 22deg,#22a695 24deg,#24a270 26deg,#29a14b 28deg,#30ad4c 30deg,#39b24b 32deg,#46b64a 34deg,#58b948 36deg,#74c044 38deg,#98cb3e 40deg,#bcd636 42deg,#e0e02d 44deg,#f1d926 46deg,#f8ca1f 48deg,#fab91d 50deg,#f8a81e 52deg,#f6981f 54deg,#f37625 56deg,#f0562a 58deg,#ed3d2e 60deg,#eb3031 62deg,#ea3133 64deg,#e93134 66deg,#e83135 68deg,#e73137 70deg,#e63238 72deg,#e63239 74deg,#e5323a 76deg,#df333b 78deg,#d9343d 80deg,#d2353e 82deg,#d1353e 84deg,#d0363e 86deg,#cf363e 88deg,#cf363e 90deg,#cf363e 92deg,#d0363e 94deg,#d1353e 96deg,#d2353e 98deg,#d9343d 100deg,#df333b 102deg,#e5323a 104deg,#e63239 106deg,#e63238 108deg,#e73137 110deg,#e83135 112deg,#e93134 114deg,#ea3133 116deg,#eb3031 118deg,#ed3d2e 120deg,#f0562a 122deg,#f37625 124deg,#f6981f 126deg,#f8a81e 128deg,#fab91d 130deg,#f8ca1f 132deg,#f1d926 134deg,#e0e02d 136deg,#bcd636 138deg,#98cb3e 140deg,#74c044 142deg,#58b948 144deg,#46b64a 146deg,#39b24b 148deg,#30ad4c 150deg,#29a14b 152deg,#24a270 154deg,#22a695 156deg,#22a6a7 158deg,#25a3b7 160deg,#26a1c1 162deg,#289fc9 164deg,#299ece 166deg,#299dd2 168deg,#299dd2 170deg,#0000 170deg)"></div>
<div class="r" style="left:-84.27px;top:83.83px;width:575.55px;height:575.55px;background:conic-gradient(#0000 10deg,#2b99d4 10deg,#2b9ad4 12deg,#2a9cd6 14deg,#299dd0 16deg,#289fc8 18deg,#26a1be 20deg,#23a5ad 22deg,#22a699 24deg,#24a377 26deg,#289f4b 28deg,#2fab4c 30deg,#38b14c 32deg,#43b54b 34deg,#55b948 36deg,#6dbe45 38deg,#91c93f 40deg,#b6d438 42deg,#dade2f 44deg,#efdc27 46deg,#f6cc20 48deg,#fabd1c 50deg,#f8ab1e 52deg,#f69b1f 54deg,#f37c24 56deg,#f05c29 58deg,#ee422d 60deg,#ec3030 62deg,#eb3032 64deg,#ea3133 66deg,#e93135 68deg,#e83136 70deg,#e73137 72deg,#e63238 74deg,#e53239 76deg,#e3323a 78deg,#dc333c 80deg,#d5353d 82deg,#d1353e 84deg,#d1353e 86deg,#d0363e 88deg,#d0363e 90deg,#d0363e 92deg,#d1353e 94deg,#d1353e 96deg,#d5353d 98deg,#dc333c 100deg,#e3323a 102deg,#e53239 104deg,#e63238 106deg,#e73137 108deg,#e83136 110deg,#e93135 112deg,#ea3133 114deg,#eb3032 116deg,#ec3030 118deg,#ee422d 120deg,#f05c29 122deg,#f37c24 124deg,#f69b1f 126deg,#f8ab1e 128deg,#fabd1c 130deg,#f6cc20 132deg,#efdc27 134deg,#dade2f 136deg,#b6d438 138deg,#91c93f 140deg,#6dbe45 142deg,#55b948 144deg,#43b54b 146deg,#38b14c 148deg,#2fab4c 150deg,#289f4b 152deg,#24a377 154deg,#22a699 156deg,#23a5ad 158deg,#26a1be 160deg,#289fc8 162deg,#299dd0 164deg,#2a9cd6 166deg,#2b9ad4 168deg,#2b99d4 170deg,#0000 170deg)"></div>
<div class="r" style="left:-82.83px;top:85.27px;width:572.65px;height:572.65px;background:conic-gradient(#0000 10deg,#2c93d0 10deg,#2c93d1 12deg,#2b96d2 14deg,#2a9bd5 16deg,#299dcf 18deg,#27a0c5 20deg,#24a4b4 22deg,#22a69d 24deg,#23a47e 26deg,#279e4b 28deg,#2eaa4c 30deg,#37b04c 32deg,#40b54b 34deg,#52b849 36deg,#66bc46 38deg,#8ac740 40deg,#afd23a 42deg,#d3dc30 44deg,#eedf28 46deg,#f5cf22 48deg,#fbc01c 50deg,#f9af1d 52deg,#f79e1f 54deg,#f48222 56deg,#f16228 58deg,#ee482c 60deg,#ec342f 62deg,#eb3031 64deg,#ea3133 66deg,#e93134 68deg,#e83135 70deg,#e73137 72deg,#e73238 74deg,#e63239 76deg,#e5323a 78deg,#e0333b 80deg,#d9343c 82deg,#d3353e 84deg,#d1353e 86deg,#d1353e 88deg,#d1353e 90deg,#d1353e 92deg,#d1353e 94deg,#d3353e 96deg,#d9343c 98deg,#e0333b 100deg,#e5323a 102deg,#e63239 104deg,#e73238 106deg,#e73137 108deg,#e83135 110deg,#e93134 112deg,#ea3133 114deg,#eb3031 116deg,#ec342f 118deg,#ee482c 120deg,#f16228 122deg,#f48222 124deg,#f79e1f 126deg,#f9af1d 128deg,#fbc01c 130deg,#f5cf22 132deg,#eedf28 134deg,#d3dc30 136deg,#afd23a 138deg,#8ac740 140deg,#66bc46 142deg,#52b849 144deg,#40b54b 146deg,#37b04c 148deg,#2eaa4c 150deg,#279e4b 152deg,#23a47e 154deg,#22a69d 156deg,#24a4b4 158deg,#27a0c5 160deg,#299dcf 162deg,#2a9bd5 164deg,#2b96d2 166deg,#2c93d1 168deg,#2c93d0 170deg,#0000 170deg)"></div>
<div class="r" style="left:-81.38px;top:86.72px;width:569.76px;height:569.76px;background:conic-gradient(#0000 10deg,#2d8ccc 10deg,#2d8dcd 12deg,#2d90ce 14deg,#2c95d1 16deg,#2a9cd6 18deg,#289ecc 20deg,#25a2ba 22deg,#22a6a1 24deg,#22a584 26deg,#279d4d 28deg,#2ea94c 30deg,#35b04c 32deg,#3eb44b 34deg,#4fb849 36deg,#61bb47 38deg,#83c542 40deg,#a8cf3c 42deg,#ccda32 44deg,#ede229 46deg,#f4d223 48deg,#fac31d 50deg,#f9b21d 52deg,#f7a11e 54deg,#f58921 56deg,#f16827 58deg,#ef4e2b 60deg,#ed3a2e 62deg,#ec3031 64deg,#ea3032 66deg,#ea3134 68deg,#e93135 70deg,#e83136 72deg,#e73137 74deg,#e63238 76deg,#e63239 78deg,#e4323a 80deg,#de333c 82deg,#d8343d 84deg,#d4353e 86deg,#d2353e 88deg,#d2353e 90deg,#d2353e 92deg,#d4353e 94deg,#d8343d 96deg,#de333c 98deg,#e4323a 100deg,#e63239 102deg,#e63238 104deg,#e73137 106deg,#e83136 108deg,#e93135 110deg,#ea3134 112deg,#ea3032 114deg,#ec3031 116deg,#ed3a2e 118deg,#ef4e2b 120deg,#f16827 122deg,#f58921 124deg,#f7a11e 126deg,#f9b21d 128deg,#fac31d 130deg,#f4d223 132deg,#ede229 134deg,#ccda32 136deg,#a8cf3c 138deg,#83c542 140deg,#61bb47 142deg,#4fb849 144deg,#3eb44b 146deg,#35b04c 148deg,#2ea94c 150deg,#279d4d 152deg,#22a584 154deg,#22a6a1 156deg,#25a2ba 158deg,#289ecc 160deg,#2a9cd6 162deg,#2c95d1 164deg,#2d90ce 166deg,#2d8dcd 168deg,#2d8ccc 170deg,#0000 170deg)"></div>
<div class="r" style="left:-79.93px;top:88.17px;width:566.87px;height:566.87px;background:conic-gradient(#0000 10deg,#2f86c8 10deg,#2f87c9 12deg,#2e8acb 14deg,#2d8fce 16deg,#2b96d2 18deg,#299dd2 20deg,#26a1c0 22deg,#22a6a4 24deg,#22a68a 26deg,#269e52 28deg,#2da74c 30deg,#34af4c 32deg,#3db44b 34deg,#4cb74a 36deg,#5dba48 38deg,#7cc343 40deg,#a0cd3d 42deg,#c5d834 44deg,#e9e32b 46deg,#f3d524 48deg,#f9c61e 50deg,#f9b51d 52deg,#f7a41e 54deg,#f58f20 56deg,#f26f26 58deg,#f0542a 60deg,#ee402d 62deg,#ec3030 64deg,#eb3032 66deg,#ea3133 68deg,#e93134 70deg,#e83136 72deg,#e73137 74deg,#e73238 76deg,#e63239 78deg,#e5323a 80deg,#e2333b 82deg,#dd333c 84deg,#d9343c 86deg,#d7343d 88deg,#d6343d 90deg,#d7343d 92deg,#d9343c 94deg,#dd333c 96deg,#e2333b 98deg,#e5323a 100deg,#e63239 102deg,#e73238 104deg,#e73137 106deg,#e83136 108deg,#e93134 110deg,#ea3133 112deg,#eb3032 114deg,#ec3030 116deg,#ee402d 118deg,#f0542a 120deg,#f26f26 122deg,#f58f20 124deg,#f7a41e 126deg,#f9b51d 128deg,#f9c61e 130deg,#f3d524 132deg,#e9e32b 134deg,#c5d834 136deg,#a0cd3d 138deg,#7cc343 140deg,#5dba48 142deg,#4cb74a 144deg,#3db44b 146deg,#34af4c 148deg,#2da74c 150deg,#269e52 152deg,#22a68a 154deg,#22a6a4 156deg,#26a1c0 158deg,#299dd2 160deg,#2b96d2 162deg,#2d8fce 164deg,#2e8acb 166deg,#2f87c9 168deg,#2f86c8 170deg,#0000 170deg)"></div>
<div class="r" style="left:-78.49px;top:89.61px;width:563.97px;height:563.97px;background:conic-gradient(#0000 10deg,#307fc4 10deg,#3080c5 12deg,#2f83c7 14deg,#2e89ca 16deg,#2c91cf 18deg,#2a9ad5 20deg,#27a0c5 22deg,#22a6a7 24deg,#22a68d 26deg,#269f56 28deg,#2ca64c 30deg,#33ae4c 32deg,#3cb34b 34deg,#49b74a 36deg,#5aba48 38deg,#75c144 40deg,#99cb3e 42deg,#bed636 44deg,#e3e12c 46deg,#f1d825 48deg,#f8c81f 50deg,#fab81d 52deg,#f8a61e 54deg,#f6961f 56deg,#f37525 58deg,#f05b29 60deg,#ee462c 62deg,#ec352f 64deg,#eb3031 66deg,#ea3133 68deg,#e93134 70deg,#e83135 72deg,#e83136 74deg,#e73137 76deg,#e63238 78deg,#e63239 80deg,#e5323a 82deg,#e2333b 84deg,#df333b 86deg,#dd333c 88deg,#dc333c 90deg,#dd333c 92deg,#df333b 94deg,#e2333b 96deg,#e5323a 98deg,#e63239 100deg,#e63238 102deg,#e73137 104deg,#e83136 106deg,#e83135 108deg,#e93134 110deg,#ea3133 112deg,#eb3031 114deg,#ec352f 116deg,#ee462c 118deg,#f05b29 120deg,#f37525 122deg,#f6961f 124deg,#f8a61e 126deg,#fab81d 128deg,#f8c81f 130deg,#f1d825 132deg,#e3e12c 134deg,#bed636 136deg,#99cb3e 138deg,#75c144 140deg,#5aba48 142deg,#49b74a 144deg,#3cb34b 146deg,#33ae4c 148deg,#2ca64c 150deg,#269f56 152deg,#22a68d 154deg,#22a6a7 156deg,#27a0c5 158deg,#2a9ad5 160deg,#2c91cf 162deg,#2e89ca 164deg,#2f83c7 166deg,#3080c5 168deg,#307fc4 170deg,#0000 170deg)"></div>
<div class="r" style="left:-77.04px;top:91.06px;width:561.08px;height:561.08px;background:conic-gradient(#0000 10deg,#3277bf 10deg,#3279c0 12deg,#317dc3 14deg,#2f83c6 16deg,#2e8bcc 18deg,#2b96d2 20deg,#289fca 22deg,#22a6aa 24deg,#22a68f 26deg,#269f5a 28deg,#2ca54c 30deg,#32ae4c 32deg,#3bb24b 34deg,#45b64a 36deg,#56b948 38deg,#6dbe45 40deg,#92c93f 42deg,#b7d438 44deg,#dddf2e 46deg,#f0da26 48deg,#f7cb20 50deg,#fabb1d 52deg,#f8a91e 54deg,#f6991f 56deg,#f37c23 58deg,#f16128 60deg,#ef4b2b 62deg,#ed392e 64deg,#ec3031 66deg,#ea3032 68deg,#ea3134 70deg,#e93135 72deg,#e83136 74deg,#e73137 76deg,#e73137 78deg,#e63238 80deg,#e63239 82deg,#e5323a 84deg,#e4323a 86deg,#e2323b 88deg,#e1333b 90deg,#e2323b 92deg,#e4323a 94deg,#e5323a 96deg,#e63239 98deg,#e63238 100deg,#e73137 102deg,#e73137 104deg,#e83136 106deg,#e93135 108deg,#ea3134 110deg,#ea3032 112deg,#ec3031 114deg,#ed392e 116deg,#ef4b2b 118deg,#f16128 120deg,#f37c23 122deg,#f6991f 124deg,#f8a91e 126deg,#fabb1d 128deg,#f7cb20 130deg,#f0da26 132deg,#dddf2e 134deg,#b7d438 136deg,#92c93f 138deg,#6dbe45 140deg,#56b948 142deg,#45b64a 144deg,#3bb24b 146deg,#32ae4c 148deg,#2ca54c 150deg,#269f5a 152deg,#22a68f 154deg,#22a6aa 156deg,#289fca 158deg,#2b96d2 160deg,#2e8bcc 162deg,#2f83c6 164deg,#317dc3 166deg,#3279c0 168deg,#3277bf 170deg,#0000 170deg)"></div>
<div class="r" style="left:-75.59px;top:92.51px;width:558.19px;height:558.19px;background:conic-gradient(#0000 10deg,#346eba 10deg,#3371bb 12deg,#3276be 14deg,#317dc3 16deg,#2f86c8 18deg,#2c91cf 20deg,#299ece 22deg,#23a5ad 24deg,#22a690 26deg,#26a05d 28deg,#2ba54b 30deg,#31ad4c 32deg,#39b24b 34deg,#42b54b 36deg,#52b849 38deg,#65bc47 40deg,#8ac741 42deg,#b0d239 44deg,#d6dd30 46deg,#efdd27 48deg,#f6cd21 50deg,#fabe1c 52deg,#f8ac1e 54deg,#f79c1f 56deg,#f48322 58deg,#f16827 60deg,#ef512b 62deg,#ed3e2e 64deg,#ec3030 66deg,#eb3032 68deg,#ea3133 70deg,#e93134 72deg,#e83135 74deg,#e83136 76deg,#e73137 78deg,#e73238 80deg,#e63238 82deg,#e63239 84deg,#e53239 86deg,#e5323a 88deg,#e5323a 90deg,#e5323a 92deg,#e53239 94deg,#e63239 96deg,#e63238 98deg,#e73238 100deg,#e73137 102deg,#e83136 104deg,#e83135 106deg,#e93134 108deg,#ea3133 110deg,#eb3032 112deg,#ec3030 114deg,#ed3e2e 116deg,#ef512b 118deg,#f16827 120deg,#f48322 122deg,#f79c1f 124deg,#f8ac1e 126deg,#fabe1c 128deg,#f6cd21 130deg,#efdd27 132deg,#d6dd30 134deg,#b0d239 136deg,#8ac741 138deg,#65bc47 140deg,#52b849 142deg,#42b54b 144deg,#39b24b 146deg,#31ad4c 148deg,#2ba54b 150deg,#26a05d 152deg,#22a690 154deg,#23a5ad 156deg,#299ece 158deg,#2c91cf 160deg,#2f86c8 162deg,#317dc3 164deg,#3276be 166deg,#3371bb 168deg,#346eba 170deg,#0000 170deg)"></div>
<div class="r" style="left:-74.15px;top:93.95px;width:555.29px;height:555.29px;background:conic-gradient(#0000 10deg,#3664b3 10deg,#3568b6 12deg,#346eba 14deg,#3277bf 16deg,#3081c5 18deg,#2d8dcd 20deg,#299dd1 22deg,#23a4b0 24deg,#22a692 26deg,#25a060 28deg,#2ba44b 30deg,#30ad4c 32deg,#38b14c 34deg,#3fb54b 36deg,#4eb849 38deg,#5fba47 40deg,#81c442 42deg,#a8d03c 44deg,#cfdb31 46deg,#eee028 48deg,#f5d022 50deg,#fbc11c 52deg,#f9af1d 54deg,#f7a01e 56deg,#f58a21 58deg,#f26f26 60deg,#f0572a 62deg,#ee432d 64deg,#ec3130 66deg,#eb3032 68deg,#ea3133 70deg,#e93134 72deg,#e93135 74deg,#e83135 76deg,#e83136 78deg,#e73137 80deg,#e73137 82deg,#e63238 84deg,#e63238 86deg,#e63239 88deg,#e63239 90deg,#e63239 92deg,#e63238 94deg,#e63238 96deg,#e73137 98deg,#e73137 100deg,#e83136 102deg,#e83135 104deg,#e93135 106deg,#e93134 108deg,#ea3133 110deg,#eb3032 112deg,#ec3130 114deg,#ee432d 116deg,#f0572a 118deg,#f26f26 120deg,#f58a21 122deg,#f7a01e 124deg,#f9af1d 126deg,#fbc11c 128deg,#f5d022 130deg,#eee028 132deg,#cfdb31 134deg,#a8d03c 136deg,#81c442 138deg,#5fba47 140deg,#4eb849 142deg,#3fb54b 144deg,#38b14c 146deg,#30ad4c 148deg,#2ba44b 150deg,#25a060 152deg,#22a692 154deg,#23a4b0 156deg,#299dd1 158deg,#2d8dcd 160deg,#3081c5 162deg,#3277bf 164deg,#346eba 166deg,#3568b6 168deg,#3664b3 170deg,#0000 170deg)"></div>
<div class="r" style="left:-72.7px;top:95.4px;width:552.4px;height:552.4px;background:conic-gradient(#0000 10deg,#385aad 10deg,#375fb0 12deg,#3566b5 14deg,#3370bb 16deg,#317cc2 18deg,#2e8acb 20deg,#2a9cd5 22deg,#24a4b2 24deg,#22a693 26deg,#25a062 28deg,#2aa34b 30deg,#2fac4c 32deg,#37b04c 34deg,#3eb44b 36deg,#4ab74a 38deg,#5bba48 40deg,#78c243 42deg,#a0cd3d 44deg,#c8d933 46deg,#ede329 48deg,#f4d223 50deg,#fac31c 52deg,#f9b21d 54deg,#f7a31e 56deg,#f69220 58deg,#f37624 60deg,#f05d29 62deg,#ee472c 64deg,#ec342f 66deg,#eb3031 68deg,#ea3133 70deg,#ea3133 72deg,#e93134 74deg,#e93135 76deg,#e83135 78deg,#e83136 80deg,#e73137 82deg,#e73137 84deg,#e73137 86deg,#e73238 88deg,#e73238 90deg,#e73238 92deg,#e73137 94deg,#e73137 96deg,#e73137 98deg,#e83136 100deg,#e83135 102deg,#e93135 104deg,#e93134 106deg,#ea3133 108deg,#ea3133 110deg,#eb3031 112deg,#ec342f 114deg,#ee472c 116deg,#f05d29 118deg,#f37624 120deg,#f69220 122deg,#f7a31e 124deg,#f9b21d 126deg,#fac31c 128deg,#f4d223 130deg,#ede329 132deg,#c8d933 134deg,#a0cd3d 136deg,#78c243 138deg,#5bba48 140deg,#4ab74a 142deg,#3eb44b 144deg,#37b04c 146deg,#2fac4c 148deg,#2aa34b 150deg,#25a062 152deg,#22a693 154deg,#24a4b2 156deg,#2a9cd5 158deg,#2e8acb 160deg,#317cc2 162deg,#3370bb 164deg,#3566b5 166deg,#375fb0 168deg,#385aad 170deg,#0000 170deg)"></div>
<div class="r" style="left:-71.25px;top:96.85px;width:549.51px;height:549.51px;background:conic-gradient(#0000 10deg,#3a4fa7 10deg,#3956aa 12deg,#375eb0 14deg,#3569b7 16deg,#3277bf 18deg,#2f86c8 20deg,#2a9ad5 22deg,#24a3b5 24deg,#22a694 26deg,#25a165 28deg,#2aa24b 30deg,#2fab4c 32deg,#35b04c 34deg,#3cb34b 36deg,#46b64a 38deg,#56b948 40deg,#6fbf45 42deg,#98cb3e 44deg,#c1d735 46deg,#e9e32b 48deg,#f3d424 50deg,#f9c51d 52deg,#fab51d 54deg,#f8a61e 56deg,#f6981f 58deg,#f47e23 60deg,#f16427 62deg,#ef4b2b 64deg,#ed372f 66deg,#eb3031 68deg,#ea3032 70deg,#ea3133 72deg,#e93134 74deg,#e93134 76deg,#e93135 78deg,#e83135 80deg,#e83136 82deg,#e83136 84deg,#e73137 86deg,#e73137 88deg,#e73137 90deg,#e73137 92deg,#e73137 94deg,#e83136 96deg,#e83136 98deg,#e83135 100deg,#e93135 102deg,#e93134 104deg,#e93134 106deg,#ea3133 108deg,#ea3032 110deg,#eb3031 112deg,#ed372f 114deg,#ef4b2b 116deg,#f16427 118deg,#f47e23 120deg,#f6981f 122deg,#f8a61e 124deg,#fab51d 126deg,#f9c51d 128deg,#f3d424 130deg,#e9e32b 132deg,#c1d735 134deg,#98cb3e 136deg,#6fbf45 138deg,#56b948 140deg,#46b64a 142deg,#3cb34b 144deg,#35b04c 146deg,#2fab4c 148deg,#2aa24b 150deg,#25a165 152deg,#22a694 154deg,#24a3b5 156deg,#2a9ad5 158deg,#2f86c8 160deg,#3277bf 162deg,#3569b7 164deg,#375eb0 166deg,#3956aa 168deg,#3a4fa7 170deg,#0000 170deg)"></div>
<div class="r" style="left:-69.81px;top:98.29px;width:546.61px;height:546.61px;background:conic-gradient(#0000 10deg,#3b48a2 10deg,#3b4ca5 12deg,#3956ab 14deg,#3662b2 16deg,#3372bc 18deg,#3082c6 20deg,#2b98d3 22deg,#25a3b7 24deg,#22a696 26deg,#25a167 28deg,#2aa24b 30deg,#2eaa4c 32deg,#34af4c 34deg,#3bb24b 36deg,#42b54b 38deg,#51b849 40deg,#66bc46 42deg,#90c840 44deg,#bbd537 46deg,#e4e22c 48deg,#f2d624 50deg,#f8c81e 52deg,#fab91d 54deg,#f8a91e 56deg,#f79c1f 58deg,#f48622 60deg,#f26a26 62deg,#ef502b 64deg,#ed392e 66deg,#eb3031 68deg,#eb3032 70deg,#ea3133 72deg,#ea3133 74deg,#e93134 76deg,#e93134 78deg,#e93134 80deg,#e93135 82deg,#e83135 84deg,#e83136 86deg,#e83136 88deg,#e83136 90deg,#e83136 92deg,#e83136 94deg,#e83135 96deg,#e93135 98deg,#e93134 100deg,#e93134 102deg,#e93134 104deg,#ea3133 106deg,#ea3133 108deg,#eb3032 110deg,#eb3031 112deg,#ed392e 114deg,#ef502b 116deg,#f26a26 118deg,#f48622 120deg,#f79c1f 122deg,#f8a91e 124deg,#fab91d 126deg,#f8c81e 128deg,#f2d624 130deg,#e4e22c 132deg,#bbd537 134deg,#90c840 136deg,#66bc46 138deg,#51b849 140deg,#42b54b 142deg,#3bb24b 144deg,#34af4c 146deg,#2eaa4c 148deg,#2aa24b 150deg,#25a167 152deg,#22a696 154deg,#25a3b7 156deg,#2b98d3 158deg,#3082c6 160deg,#3372bc 162deg,#3662b2 164deg,#3956ab 166deg,#3b4ca5 168deg,#3b48a2 170deg,#0000 170deg)"></div>
<div class="r" style="left:-68.36px;top:99.74px;width:543.72px;height:543.72px;background:conic-gradient(#0000 10deg,#3b449e 10deg,#3b48a1 12deg,#3a4ea6 14deg,#385bae 16deg,#346cb8 18deg,#307ec3 20deg,#2c95d1 22deg,#25a2ba 24deg,#22a697 26deg,#25a16a 28deg,#29a14b 30deg,#2ea94c 32deg,#33ae4c 34deg,#39b14b 36deg,#3fb54b 38deg,#4db749 40deg,#60bb47 42deg,#88c641 44deg,#b5d338 46deg,#dfe02d 48deg,#f1d825 50deg,#f8ca1f 52deg,#fabc1c 54deg,#f9ad1d 56deg,#f79f1e 58deg,#f58e21 60deg,#f27125 62deg,#f0552a 64deg,#ed3c2e 66deg,#ec3031 68deg,#eb3032 70deg,#ea3032 72deg,#ea3133 74deg,#ea3133 76deg,#ea3133 78deg,#e93134 80deg,#e93134 82deg,#e93135 84deg,#e93135 86deg,#e83135 88deg,#e83135 90deg,#e83135 92deg,#e93135 94deg,#e93135 96deg,#e93134 98deg,#e93134 100deg,#ea3133 102deg,#ea3133 104deg,#ea3133 106deg,#ea3032 108deg,#eb3032 110deg,#ec3031 112deg,#ed3c2e 114deg,#f0552a 116deg,#f27125 118deg,#f58e21 120deg,#f79f1e 122deg,#f9ad1d 124deg,#fabc1c 126deg,#f8ca1f 128deg,#f1d825 130deg,#dfe02d 132deg,#b5d338 134deg,#88c641 136deg,#60bb47 138deg,#4db749 140deg,#3fb54b 142deg,#39b14b 144deg,#33ae4c 146deg,#2ea94c 148deg,#29a14b 150deg,#25a16a 152deg,#22a697 154deg,#25a2ba 156deg,#2c95d1 158deg,#307ec3 160deg,#346cb8 162deg,#385bae 164deg,#3a4ea6 166deg,#3b48a1 168deg,#3b449e 170deg,#0000 170deg)"></div>
<div class="r" style="left:-66.91px;top:101.19px;width:540.83px;height:540.83px;background:conic-gradient(#0000 10deg,#3a409a 10deg,#3b449e 12deg,#3b49a2 14deg,#3954aa 16deg,#3666b4 18deg,#317ac1 20deg,#2c92cf 22deg,#26a2bd 24deg,#22a699 26deg,#24a26d 28deg,#29a04b 30deg,#2da84c 32deg,#32ae4c 34deg,#37b14c 36deg,#3db44b 38deg,#49b74a 40deg,#5cba48 42deg,#82c442 44deg,#afd23a 46deg,#dbdf2e 48deg,#f0da26 50deg,#f7cc20 52deg,#fbbe1c 54deg,#f9b01d 56deg,#f7a31e 58deg,#f6961f 60deg,#f37724 62deg,#f05929 64deg,#ed3f2d 66deg,#ec3030 68deg,#eb3032 70deg,#eb3032 72deg,#ea3032 74deg,#ea3133 76deg,#ea3133 78deg,#ea3133 80deg,#e93134 82deg,#e93134 84deg,#e93134 86deg,#e93134 88deg,#e93134 90deg,#e93134 92deg,#e93134 94deg,#e93134 96deg,#e93134 98deg,#ea3133 100deg,#ea3133 102deg,#ea3133 104deg,#ea3032 106deg,#eb3032 108deg,#eb3032 110deg,#ec3030 112deg,#ed3f2d 114deg,#f05929 116deg,#f37724 118deg,#f6961f 120deg,#f7a31e 122deg,#f9b01d 124deg,#fbbe1c 126deg,#f7cc20 128deg,#f0da26 130deg,#dbdf2e 132deg,#afd23a 134deg,#82c442 136deg,#5cba48 138deg,#49b74a 140deg,#3db44b 142deg,#37b14c 144deg,#32ae4c 146deg,#2da84c 148deg,#29a04b 150deg,#24a26d 152deg,#22a699 154deg,#26a2bd 156deg,#2c92cf 158deg,#317ac1 160deg,#3666b4 162deg,#3954aa 164deg,#3b49a2 166deg,#3b449e 168deg,#3a409a 170deg,#0000 170deg)"></div>
<div class="r" style="left:-65.47px;top:102.63px;width:537.93px;height:537.93px;background:conic-gradient(#0000 10deg,#3a3c97 10deg,#3a409a 12deg,#3b459f 14deg,#3b4da5 16deg,#375fb0 18deg,#3275be 20deg,#2d8ecd 22deg,#26a1c0 24deg,#22a69b 26deg,#24a270 28deg,#289f4b 30deg,#2da74c 32deg,#30ad4c 34deg,#36b04c 36deg,#3cb34b 38deg,#45b64a 40deg,#59b948 42deg,#7cc343 44deg,#abd13b 46deg,#d8de2f 48deg,#f0dc27 50deg,#f6ce21 52deg,#fbc11c 54deg,#f9b31d 56deg,#f8a71e 58deg,#f69a1f 60deg,#f47e23 62deg,#f05e28 64deg,#ee422d 66deg,#ec3030 68deg,#eb3031 70deg,#eb3032 72deg,#eb3032 74deg,#ea3032 76deg,#ea3032 78deg,#ea3133 80deg,#ea3133 82deg,#ea3133 84deg,#e93134 86deg,#e93134 88deg,#e93134 90deg,#e93134 92deg,#e93134 94deg,#ea3133 96deg,#ea3133 98deg,#ea3133 100deg,#ea3032 102deg,#ea3032 104deg,#eb3032 106deg,#eb3032 108deg,#eb3031 110deg,#ec3030 112deg,#ee422d 114deg,#f05e28 116deg,#f47e23 118deg,#f69a1f 120deg,#f8a71e 122deg,#f9b31d 124deg,#fbc11c 126deg,#f6ce21 128deg,#f0dc27 130deg,#d8de2f 132deg,#abd13b 134deg,#7cc343 136deg,#59b948 138deg,#45b64a 140deg,#3cb34b 142deg,#36b04c 144deg,#30ad4c 146deg,#2da74c 148deg,#289f4b 150deg,#24a270 152deg,#22a69b 154deg,#26a1c0 156deg,#2d8ecd 158deg,#3275be 160deg,#375fb0 162deg,#3b4da5 164deg,#3b459f 166deg,#3a409a 168deg,#3a3c97 170deg,#0000 170deg)"></div>
<div class="r" style="left:-64.02px;top:104.08px;width:535.04px;height:535.04px;background:conic-gradient(#0000 10deg,#3a3893 10deg,#3a3d97 12deg,#3b429c 14deg,#3b49a2 16deg,#3858ac 18deg,#346fba 20deg,#2e89ca 22deg,#27a0c4 24deg,#22a69d 26deg,#24a374 28deg,#289e4b 30deg,#2ca64c 32deg,#2fac4c 34deg,#34af4c 36deg,#3ab24b 38deg,#42b54b 40deg,#56b948 42deg,#78c143 44deg,#a8d03c 46deg,#d5dd30 48deg,#efdd27 50deg,#f5cf21 52deg,#fac31d 54deg,#fab71d 56deg,#f8aa1e 58deg,#f79e1f 60deg,#f48522 62deg,#f16328 64deg,#ee452d 66deg,#ec3030 68deg,#eb3031 70deg,#eb3032 72deg,#eb3032 74deg,#eb3032 76deg,#eb3032 78deg,#ea3032 80deg,#ea3133 82deg,#ea3133 84deg,#ea3133 86deg,#ea3133 88deg,#ea3134 90deg,#ea3133 92deg,#ea3133 94deg,#ea3133 96deg,#ea3133 98deg,#ea3032 100deg,#eb3032 102deg,#eb3032 104deg,#eb3032 106deg,#eb3032 108deg,#eb3031 110deg,#ec3030 112deg,#ee452d 114deg,#f16328 116deg,#f48522 118deg,#f79e1f 120deg,#f8aa1e 122deg,#fab71d 124deg,#fac31d 126deg,#f5cf21 128deg,#efdd27 130deg,#d5dd30 132deg,#a8d03c 134deg,#78c143 136deg,#56b948 138deg,#42b54b 140deg,#3ab24b 142deg,#34af4c 144deg,#2fac4c 146deg,#2ca64c 148deg,#289e4b 150deg,#24a374 152deg,#22a69d 154deg,#27a0c4 156deg,#2e89ca 158deg,#346fba 160deg,#3858ac 162deg,#3b49a2 164deg,#3b429c 166deg,#3a3d97 168deg,#3a3893 170deg,#0000 170deg)"></div>
<div class="r" style="left:-62.57px;top:105.53px;width:532.15px;height:532.15px;background:conic-gradient(#0000 10deg,#473995 10deg,#3a3994 12deg,#3a3e99 14deg,#3b459f 16deg,#3a51a7 18deg,#3568b6 20deg,#2f84c7 22deg,#289fca 24deg,#22a6a0 26deg,#23a479 28deg,#279d4b 30deg,#2ba54b 32deg,#2fab4c 34deg,#33af4c 36deg,#39b14b 38deg,#40b54b 40deg,#53b849 42deg,#74c044 44deg,#a5cf3c 46deg,#d4dd30 48deg,#efde28 50deg,#f5d122 52deg,#fac51d 54deg,#fab91d 56deg,#f9ad1d 58deg,#f7a11e 60deg,#f58d21 62deg,#f16827 64deg,#ee482c 66deg,#ec3130 68deg,#eb3031 70deg,#eb3031 72deg,#eb3031 74deg,#eb3032 76deg,#eb3032 78deg,#eb3032 80deg,#ea3032 82deg,#ea3133 84deg,#ea3133 86deg,#ea3133 88deg,#ea3133 90deg,#ea3133 92deg,#ea3133 94deg,#ea3133 96deg,#ea3032 98deg,#eb3032 100deg,#eb3032 102deg,#eb3032 104deg,#eb3031 106deg,#eb3031 108deg,#eb3031 110deg,#ec3130 112deg,#ee482c 114deg,#f16827 116deg,#f58d21 118deg,#f7a11e 120deg,#f9ad1d 122deg,#fab91d 124deg,#fac51d 126deg,#f5d122 128deg,#efde28 130deg,#d4dd30 132deg,#a5cf3c 134deg,#74c044 136deg,#53b849 138deg,#40b54b 140deg,#39b14b 142deg,#33af4c 144deg,#2fab4c 146deg,#2ba54b 148deg,#279d4b 150deg,#23a479 152deg,#22a6a0 154deg,#289fca 156deg,#2f84c7 158deg,#3568b6 160deg,#3a51a7 162deg,#3b459f 164deg,#3a3e99 166deg,#3a3994 168deg,#473995 170deg,#0000 170deg)"></div>
<div class="r" style="left:-61.13px;top:106.97px;width:529.25px;height:529.25px;background:conic-gradient(#0000 10deg,#553997 10deg,#443894 12deg,#3a3b96 14deg,#3b429c 16deg,#3b4aa3 18deg,#375fb1 20deg,#317dc3 22deg,#299dd1 24deg,#22a6a4 26deg,#23a580 28deg,#279e50 30deg,#2ba34b 32deg,#2ea94c 34deg,#32ae4c 36deg,#37b14c 38deg,#3eb44b 40deg,#51b849 42deg,#71bf45 44deg,#a3ce3c 46deg,#d2dc31 48deg,#eedf28 50deg,#f4d223 52deg,#f9c71e 54deg,#fabc1c 56deg,#f9b11d 58deg,#f8a51e 60deg,#f6941f 62deg,#f26d26 64deg,#ef4b2c 66deg,#ec3330 68deg,#eb3031 70deg,#eb3031 72deg,#eb3031 74deg,#eb3031 76deg,#eb3032 78deg,#eb3032 80deg,#eb3032 82deg,#ea3032 84deg,#ea3133 86deg,#ea3133 88deg,#ea3133 90deg,#ea3133 92deg,#ea3133 94deg,#ea3032 96deg,#eb3032 98deg,#eb3032 100deg,#eb3032 102deg,#eb3031 104deg,#eb3031 106deg,#eb3031 108deg,#eb3031 110deg,#ec3330 112deg,#ef4b2c 114deg,#f26d26 116deg,#f6941f 118deg,#f8a51e 120deg,#f9b11d 122deg,#fabc1c 124deg,#f9c71e 126deg,#f4d223 128deg,#eedf28 130deg,#d2dc31 132deg,#a3ce3c 134deg,#71bf45 136deg,#51b849 138deg,#3eb44b 140deg,#37b14c 142deg,#32ae4c 144deg,#2ea94c 146deg,#2ba34b 148deg,#279e50 150deg,#23a580 152deg,#22a6a4 154deg,#299dd1 156deg,#317dc3 158deg,#375fb1 160deg,#3b4aa3 162deg,#3b429c 164deg,#3a3b96 166deg,#443894 168deg,#553997 170deg,#0000 170deg)"></div>
<div class="r" style="left:-59.68px;top:108.42px;width:526.36px;height:526.36px;background:conic-gradient(#0000 10deg,#623a98 10deg,#523996 12deg,#3c3893 14deg,#3a3e98 16deg,#3b46a0 18deg,#3957ab 20deg,#3276be 22deg,#2b9ad5 24deg,#22a6a8 26deg,#22a687 28deg,#269f56 30deg,#2aa24b 32deg,#2da84c 34deg,#30ad4c 36deg,#36b04c 38deg,#3db44b 40deg,#4fb849 42deg,#6ebf45 44deg,#a1ce3d 46deg,#d1dc31 48deg,#eedf28 50deg,#f4d323 52deg,#f8c91f 54deg,#fbbf1c 56deg,#f9b41d 58deg,#f8a81e 60deg,#f6991f 62deg,#f27225 64deg,#ef4d2b 66deg,#ec342f 68deg,#eb3031 70deg,#eb3031 72deg,#eb3031 74deg,#eb3031 76deg,#eb3031 78deg,#eb3031 80deg,#eb3032 82deg,#eb3032 84deg,#ea3032 86deg,#ea3133 88deg,#ea3133 90deg,#ea3133 92deg,#ea3032 94deg,#eb3032 96deg,#eb3032 98deg,#eb3031 100deg,#eb3031 102deg,#eb3031 104deg,#eb3031 106deg,#eb3031 108deg,#eb3031 110deg,#ec342f 112deg,#ef4d2b 114deg,#f27225 116deg,#f6991f 118deg,#f8a81e 120deg,#f9b41d 122deg,#fbbf1c 124deg,#f8c91f 126deg,#f4d323 128deg,#eedf28 130deg,#d1dc31 132deg,#a1ce3d 134deg,#6ebf45 136deg,#4fb849 138deg,#3db44b 140deg,#36b04c 142deg,#30ad4c 144deg,#2da84c 146deg,#2aa24b 148deg,#269f56 150deg,#22a687 152deg,#22a6a8 154deg,#2b9ad5 156deg,#3276be 158deg,#3957ab 160deg,#3b46a0 162deg,#3a3e98 164deg,#3c3893 166deg,#523996 168deg,#623a98 170deg,#0000 170deg)"></div>
<div class="r" style="left:-58.23px;top:109.87px;width:523.47px;height:523.47px;background:conic-gradient(#0000 10deg,#6f3b9a 10deg,#603a98 12deg,#4b3995 14deg,#3a3a95 16deg,#3b429c 18deg,#3a4da6 20deg,#346db9 22deg,#2c93d0 24deg,#23a5af 26deg,#22a68c 28deg,#26a05d 30deg,#29a04b 32deg,#2ca74c 34deg,#2fac4c 36deg,#35af4c 38deg,#3cb34b 40deg,#4db749 42deg,#6bbe45 44deg,#a0cd3d 46deg,#d0dc31 48deg,#eee028 50deg,#f3d423 52deg,#f7ca1f 54deg,#fbc21c 56deg,#fab81d 58deg,#f8ac1e 60deg,#f79c1f 62deg,#f37724 64deg,#ef502b 66deg,#ec352f 68deg,#ec3031 70deg,#eb3031 72deg,#eb3031 74deg,#eb3031 76deg,#eb3031 78deg,#eb3031 80deg,#eb3031 82deg,#eb3032 84deg,#eb3032 86deg,#ea3032 88deg,#ea3032 90deg,#ea3032 92deg,#eb3032 94deg,#eb3032 96deg,#eb3031 98deg,#eb3031 100deg,#eb3031 102deg,#eb3031 104deg,#eb3031 106deg,#eb3031 108deg,#ec3031 110deg,#ec352f 112deg,#ef502b 114deg,#f37724 116deg,#f79c1f 118deg,#f8ac1e 120deg,#fab81d 122deg,#fbc21c 124deg,#f7ca1f 126deg,#f3d423 128deg,#eee028 130deg,#d0dc31 132deg,#a0cd3d 134deg,#6bbe45 136deg,#4db749 138deg,#3cb34b 140deg,#35af4c 142deg,#2fac4c 144deg,#2ca74c 146deg,#29a04b 148deg,#26a05d 150deg,#22a68c 152deg,#23a5af 154deg,#2c93d0 156deg,#346db9 158deg,#3a4da6 160deg,#3b429c 162deg,#3a3a95 164deg,#4b3995 166deg,#603a98 168deg,#6f3b9a 170deg,#0000 170deg)"></div>
<div class="r" style="left:-56.79px;top:111.31px;width:520.57px;height:520.57px;background:conic-gradient(#0000 10deg,#7c3b9c 10deg,#6d3b9a 12deg,#5a3a97 14deg,#3f3894 16deg,#3a3f99 18deg,#3b48a1 20deg,#3664b3 22deg,#2e8ccc 24deg,#24a3b6 26deg,#22a690 28deg,#25a063 30deg,#289f4b 32deg,#2ca54c 34deg,#2fab4c 36deg,#34af4c 38deg,#3bb24b 40deg,#4bb74a 42deg,#69bd46 44deg,#9ecd3d 46deg,#cfdb31 48deg,#ede129 50deg,#f3d524 52deg,#f7cc20 54deg,#fac41d 56deg,#fabb1c 58deg,#f9b01d 60deg,#f7a01e 62deg,#f37d23 64deg,#ef532a 66deg,#ed362f 68deg,#ec3031 70deg,#eb3031 72deg,#eb3031 74deg,#eb3031 76deg,#eb3031 78deg,#eb3031 80deg,#eb3031 82deg,#eb3032 84deg,#eb3032 86deg,#eb3032 88deg,#ea3032 90deg,#eb3032 92deg,#eb3032 94deg,#eb3032 96deg,#eb3031 98deg,#eb3031 100deg,#eb3031 102deg,#eb3031 104deg,#eb3031 106deg,#eb3031 108deg,#ec3031 110deg,#ed362f 112deg,#ef532a 114deg,#f37d23 116deg,#f7a01e 118deg,#f9b01d 120deg,#fabb1c 122deg,#fac41d 124deg,#f7cc20 126deg,#f3d524 128deg,#ede129 130deg,#cfdb31 132deg,#9ecd3d 134deg,#69bd46 136deg,#4bb74a 138deg,#3bb24b 140deg,#34af4c 142deg,#2fab4c 144deg,#2ca54c 146deg,#289f4b 148deg,#25a063 150deg,#22a690 152deg,#24a3b6 154deg,#2e8ccc 156deg,#3664b3 158deg,#3b48a1 160deg,#3a3f99 162deg,#3f3894 164deg,#5a3a97 166deg,#6d3b9a 168deg,#7c3b9c 170deg,#0000 170deg)"></div>
<div class="r" style="left:-55.34px;top:112.76px;width:517.68px;height:517.68px;background:conic-gradient(#0000 10deg,#883c9d 10deg,#7b3b9c 12deg,#683a99 14deg,#4e3996 16deg,#3a3b96 18deg,#3b449e 20deg,#385bae 22deg,#2f85c8 24deg,#26a1bd 26deg,#22a694 28deg,#25a16a 30deg,#279d4b 32deg,#2ba44b 34deg,#2ea94c 36deg,#32ae4c 38deg,#3ab24b 40deg,#49b74a 42deg,#66bc46 44deg,#9ccc3e 46deg,#cedb32 48deg,#ede129 50deg,#f2d624 52deg,#f6ce21 54deg,#f9c71e 56deg,#fbbf1c 58deg,#f9b41d 60deg,#f7a31e 62deg,#f48222 64deg,#f0562a 66deg,#ed382f 68deg,#ec3030 70deg,#ec3031 72deg,#ec3031 74deg,#ec3031 76deg,#ec3031 78deg,#eb3031 80deg,#eb3031 82deg,#eb3031 84deg,#eb3032 86deg,#eb3032 88deg,#eb3032 90deg,#eb3032 92deg,#eb3032 94deg,#eb3031 96deg,#eb3031 98deg,#eb3031 100deg,#ec3031 102deg,#ec3031 104deg,#ec3031 106deg,#ec3031 108deg,#ec3030 110deg,#ed382f 112deg,#f0562a 114deg,#f48222 116deg,#f7a31e 118deg,#f9b41d 120deg,#fbbf1c 122deg,#f9c71e 124deg,#f6ce21 126deg,#f2d624 128deg,#ede129 130deg,#cedb32 132deg,#9ccc3e 134deg,#66bc46 136deg,#49b74a 138deg,#3ab24b 140deg,#32ae4c 142deg,#2ea94c 144deg,#2ba44b 146deg,#279d4b 148deg,#25a16a 150deg,#22a694 152deg,#26a1bd 154deg,#2f85c8 156deg,#385bae 158deg,#3b449e 160deg,#3a3b96 162deg,#4e3996 164deg,#683a99 166deg,#7b3b9c 168deg,#883c9d 170deg,#0000 170deg)"></div>
<div class="r" style="left:-53.89px;top:114.21px;width:514.79px;height:514.79px;background:conic-gradient(#0000 10deg,#8b3b9d 10deg,#883c9d 12deg,#753b9b 14deg,#5c3a98 16deg,#3c3893 18deg,#3a419b 20deg,#3953a9 22deg,#307ec4 24deg,#27a0c5 26deg,#22a698 28deg,#24a271 30deg,#279e50 32deg,#2aa24b 34deg,#2da84c 36deg,#31ae4c 38deg,#39b14b 40deg,#47b64a 42deg,#63bb47 44deg,#9acc3e 46deg,#ccda32 48deg,#ede229 50deg,#f1d825 52deg,#f5d022 54deg,#f8c91f 56deg,#fbc21c 58deg,#fab81d 60deg,#f8a71e 62deg,#f58921 64deg,#f05929 66deg,#ed392e 68deg,#ec3030 70deg,#ec3030 72deg,#ec3030 74deg,#ec3030 76deg,#ec3030 78deg,#ec3030 80deg,#eb3031 82deg,#eb3031 84deg,#eb3031 86deg,#eb3032 88deg,#eb3032 90deg,#eb3032 92deg,#eb3031 94deg,#eb3031 96deg,#eb3031 98deg,#ec3030 100deg,#ec3030 102deg,#ec3030 104deg,#ec3030 106deg,#ec3030 108deg,#ec3030 110deg,#ed392e 112deg,#f05929 114deg,#f58921 116deg,#f8a71e 118deg,#fab81d 120deg,#fbc21c 122deg,#f8c91f 124deg,#f5d022 126deg,#f1d825 128deg,#ede229 130deg,#ccda32 132deg,#9acc3e 134deg,#63bb47 136deg,#47b64a 138deg,#39b14b 140deg,#31ae4c 142deg,#2da84c 144deg,#2aa24b 146deg,#279e50 148deg,#24a271 150deg,#22a698 152deg,#27a0c5 154deg,#307ec4 156deg,#3953a9 158deg,#3a419b 160deg,#3c3893 162deg,#5c3a98 164deg,#753b9b 166deg,#883c9d 168deg,#8b3b9d 170deg,#0000 170deg)"></div>
<div class="r" style="left:-52.45px;top:115.65px;width:511.89px;height:511.89px;background:conic-gradient(#0000 10deg,#893b9d 10deg,#8b3b9d 12deg,#833c9d 14deg,#6a3a99 16deg,#4a3995 18deg,#3a3e98 20deg,#3b4ba4 22deg,#3278c0 24deg,#289ecb 26deg,#22a69c 28deg,#23a378 30deg,#269f57 32deg,#29a14b 34deg,#2da74c 36deg,#30ad4c 38deg,#38b14c 40deg,#45b64a 42deg,#61bb47 44deg,#98cb3e 46deg,#cada33 48deg,#ece32a 50deg,#f1d926 52deg,#f4d223 54deg,#f7cc20 56deg,#fac51d 58deg,#fabb1c 60deg,#f8aa1e 62deg,#f58f20 64deg,#f05e28 66deg,#ed3b2e 68deg,#ec3030 70deg,#ec3030 72deg,#ec3030 74deg,#ec3030 76deg,#ec3030 78deg,#ec3030 80deg,#ec3030 82deg,#eb3031 84deg,#eb3031 86deg,#eb3031 88deg,#eb3031 90deg,#eb3031 92deg,#eb3031 94deg,#eb3031 96deg,#ec3030 98deg,#ec3030 100deg,#ec3030 102deg,#ec3030 104deg,#ec3030 106deg,#ec3030 108deg,#ec3030 110deg,#ed3b2e 112deg,#f05e28 114deg,#f58f20 116deg,#f8aa1e 118deg,#fabb1c 120deg,#fac51d 122deg,#f7cc20 124deg,#f4d223 126deg,#f1d926 128deg,#ece32a 130deg,#cada33 132deg,#98cb3e 134deg,#61bb47 136deg,#45b64a 138deg,#38b14c 140deg,#30ad4c 142deg,#2da74c 144deg,#29a14b 146deg,#269f57 148deg,#23a378 150deg,#22a69c 152deg,#289ecb 154deg,#3278c0 156deg,#3b4ba4 158deg,#3a3e98 160deg,#4a3995 162deg,#6a3a99 164deg,#833c9d 166deg,#8b3b9d 168deg,#893b9d 170deg,#0000 170deg)"></div>
<div class="r" style="left:-51px;top:117.1px;width:509px;height:509px;background:conic-gradient(#0000 10deg,#883a9c 10deg,#893b9d 12deg,#8c3c9e 14deg,#763b9b 16deg,#563997 18deg,#3a3b96 20deg,#3b48a2 22deg,#3372bc 24deg,#299dd1 26deg,#22a6a0 28deg,#23a580 30deg,#26a05d 32deg,#289f4b 34deg,#2ca54c 36deg,#2fac4c 38deg,#37b04c 40deg,#43b64b 42deg,#5fba47 44deg,#94ca3f 46deg,#c7d933 48deg,#eae32a 50deg,#f0db26 52deg,#f3d424 54deg,#f5cf21 56deg,#f8c81f 58deg,#fbbf1c 60deg,#f9ae1d 62deg,#f6961f 64deg,#f16328 66deg,#ed3e2e 68deg,#ec3130 70deg,#ec3230 72deg,#ec3230 74deg,#ec3230 76deg,#ec3230 78deg,#ec3230 80deg,#ec3030 82deg,#ec3030 84deg,#eb3031 86deg,#eb3031 88deg,#eb3031 90deg,#eb3031 92deg,#eb3031 94deg,#ec3030 96deg,#ec3030 98deg,#ec3230 100deg,#ec3230 102deg,#ec3230 104deg,#ec3230 106deg,#ec3230 108deg,#ec3130 110deg,#ed3e2e 112deg,#f16328 114deg,#f6961f 116deg,#f9ae1d 118deg,#fbbf1c 120deg,#f8c81f 122deg,#f5cf21 124deg,#f3d424 126deg,#f0db26 128deg,#eae32a 130deg,#c7d933 132deg,#94ca3f 134deg,#5fba47 136deg,#43b64b 138deg,#37b04c 140deg,#2fac4c 142deg,#2ca54c 144deg,#289f4b 146deg,#26a05d 148deg,#23a580 150deg,#22a6a0 152deg,#299dd1 154deg,#3372bc 156deg,#3b48a2 158deg,#3a3b96 160deg,#563997 162deg,#763b9b 164deg,#8c3c9e 166deg,#893b9d 168deg,#883a9c 170deg,#0000 170deg)"></div>
<div class="r" style="left:-49.55px;top:118.55px;width:506.11px;height:506.11px;background:conic-gradient(#0000 10deg,#86399b 10deg,#883a9c 12deg,#8a3b9d 14deg,#833c9d 16deg,#623a98 18deg,#3a3893 20deg,#3b469f 22deg,#346cb8 24deg,#2a9bd5 26deg,#22a6a4 28deg,#22a687 30deg,#25a164 32deg,#279e4b 34deg,#2ba44b 36deg,#2fab4c 38deg,#35b04c 40deg,#41b54b 42deg,#5cba48 44deg,#90c840 46deg,#c2d735 48deg,#e5e22c 50deg,#efde28 52deg,#f1d825 54deg,#f4d223 56deg,#f7cb20 58deg,#fbc31c 60deg,#f9b11d 62deg,#f69a1f 64deg,#f26927 66deg,#ee432d 68deg,#ed362f 70deg,#ed362f 72deg,#ed362f 74deg,#ed362f 76deg,#ed362f 78deg,#ed362f 80deg,#ec332f 82deg,#ec3030 84deg,#ec3030 86deg,#ec3031 88deg,#eb3031 90deg,#ec3031 92deg,#ec3030 94deg,#ec3030 96deg,#ec332f 98deg,#ed362f 100deg,#ed362f 102deg,#ed362f 104deg,#ed362f 106deg,#ed362f 108deg,#ed362f 110deg,#ee432d 112deg,#f26927 114deg,#f69a1f 116deg,#f9b11d 118deg,#fbc31c 120deg,#f7cb20 122deg,#f4d223 124deg,#f1d825 126deg,#efde28 128deg,#e5e22c 130deg,#c2d735 132deg,#90c840 134deg,#5cba48 136deg,#41b54b 138deg,#35b04c 140deg,#2fab4c 142deg,#2ba44b 144deg,#279e4b 146deg,#25a164 148deg,#22a687 150deg,#22a6a4 152deg,#2a9bd5 154deg,#346cb8 156deg,#3b469f 158deg,#3a3893 160deg,#623a98 162deg,#833c9d 164deg,#8a3b9d 166deg,#883a9c 168deg,#86399b 170deg,#0000 170deg)"></div>
<div class="r" style="left:-48.11px;top:119.99px;width:503.21px;height:503.21px;background:conic-gradient(#0000 10deg,#85389a 10deg,#86399b 12deg,#893a9c 14deg,#8c3c9e 16deg,#6f3b9a 18deg,#463995 20deg,#3b439d 22deg,#3566b5 24deg,#2b95d2 26deg,#22a6a9 28deg,#22a68d 30deg,#24a26c 32deg,#279d4e 34deg,#2aa34b 36deg,#2ea94c 38deg,#34af4c 40deg,#3fb54b 42deg,#5aba48 44deg,#89c741 46deg,#bbd537 48deg,#dee02e 50deg,#ede229 52deg,#f0db26 54deg,#f2d624 56deg,#f5cf21 58deg,#f9c71e 60deg,#fab51d 62deg,#f79e1f 64deg,#f27225 66deg,#ef4b2c 68deg,#ed3c2e 70deg,#ed3c2e 72deg,#ed3b2e 74deg,#ed3b2e 76deg,#ed3a2e 78deg,#ed3a2e 80deg,#ed372f 82deg,#ec3330 84deg,#ec3030 86deg,#ec3030 88deg,#ec3030 90deg,#ec3030 92deg,#ec3030 94deg,#ec3330 96deg,#ed372f 98deg,#ed3a2e 100deg,#ed3a2e 102deg,#ed3b2e 104deg,#ed3b2e 106deg,#ed3c2e 108deg,#ed3c2e 110deg,#ef4b2c 112deg,#f27225 114deg,#f79e1f 116deg,#fab51d 118deg,#f9c71e 120deg,#f5cf21 122deg,#f2d624 124deg,#f0db26 126deg,#ede229 128deg,#dee02e 130deg,#bbd537 132deg,#89c741 134deg,#5aba48 136deg,#3fb54b 138deg,#34af4c 140deg,#2ea94c 142deg,#2aa34b 144deg,#279d4e 146deg,#24a26c 148deg,#22a68d 150deg,#22a6a9 152deg,#2b95d2 154deg,#3566b5 156deg,#3b439d 158deg,#463995 160deg,#6f3b9a 162deg,#8c3c9e 164deg,#893a9c 166deg,#86399b 168deg,#85389a 170deg,#0000 170deg)"></div>
<div class="r" style="left:-46.66px;top:121.44px;width:500.32px;height:500.32px;background:conic-gradient(#0000 10deg,#7b3690 10deg,#85389a 12deg,#87399b 14deg,#8a3b9d 16deg,#7b3b9c 18deg,#523996 20deg,#3a409a 22deg,#3760b1 24deg,#2d90cf 26deg,#23a5af 28deg,#22a691 30deg,#24a373 32deg,#269e55 34deg,#29a14b 36deg,#2da84c 38deg,#33af4c 40deg,#3eb44b 42deg,#57b948 44deg,#82c442 46deg,#b3d339 48deg,#d5dd30 50deg,#e8e32b 52deg,#eedf28 54deg,#f1d926 56deg,#f4d323 58deg,#f7ca1f 60deg,#faba1d 62deg,#f7a21e 64deg,#f37b24 66deg,#ef542a 68deg,#ee442d 70deg,#ee432d 72deg,#ee412d 74deg,#ee402d 76deg,#ee3f2d 78deg,#ed3e2e 80deg,#ed3b2e 82deg,#ed362f 84deg,#ec3330 86deg,#ec3030 88deg,#ec3030 90deg,#ec3030 92deg,#ec3330 94deg,#ed362f 96deg,#ed3b2e 98deg,#ed3e2e 100deg,#ee3f2d 102deg,#ee402d 104deg,#ee412d 106deg,#ee432d 108deg,#ee442d 110deg,#ef542a 112deg,#f37b24 114deg,#f7a21e 116deg,#faba1d 118deg,#f7ca1f 120deg,#f4d323 122deg,#f1d926 124deg,#eedf28 126deg,#e8e32b 128deg,#d5dd30 130deg,#b3d339 132deg,#82c442 134deg,#57b948 136deg,#3eb44b 138deg,#33af4c 140deg,#2da84c 142deg,#29a14b 144deg,#269e55 146deg,#24a373 148deg,#22a691 150deg,#23a5af 152deg,#2d90cf 154deg,#3760b1 156deg,#3a409a 158deg,#523996 160deg,#7b3b9c 162deg,#8a3b9d 164deg,#87399b 166deg,#85389a 168deg,#7b3690 170deg,#0000 170deg)"></div>
<div class="r" style="left:-45.21px;top:122.89px;width:497.43px;height:497.43px;background:conic-gradient(#0000 10deg,#6c327e 10deg,#7c3691 12deg,#86399b 14deg,#893a9c 16deg,#873c9d 18deg,#5e3a98 20deg,#3a3e98 22deg,#385aad 24deg,#2e8bcc 26deg,#24a3b5 28deg,#22a695 30deg,#23a47b 32deg,#269f5c 34deg,#29a04b 36deg,#2da74c 38deg,#32ae4c 40deg,#3db34b 42deg,#54b849 44deg,#7ac243 46deg,#a9d03b 48deg,#cbda32 50deg,#dfe02d 52deg,#ece32a 54deg,#efdd27 56deg,#f2d725 58deg,#f6ce21 60deg,#fbbe1c 62deg,#f8a61e 64deg,#f48622 66deg,#f15f28 68deg,#ef4e2b 70deg,#ef4a2c 72deg,#ee482c 74deg,#ee472c 76deg,#ee452d 78deg,#ee432d 80deg,#ed3f2d 82deg,#ed3a2e 84deg,#ed362f 86deg,#ec342f 88deg,#ec332f 90deg,#ec342f 92deg,#ed362f 94deg,#ed3a2e 96deg,#ed3f2d 98deg,#ee432d 100deg,#ee452d 102deg,#ee472c 104deg,#ee482c 106deg,#ef4a2c 108deg,#ef4e2b 110deg,#f15f28 112deg,#f48622 114deg,#f8a61e 116deg,#fbbe1c 118deg,#f6ce21 120deg,#f2d725 122deg,#efdd27 124deg,#ece32a 126deg,#dfe02d 128deg,#cbda32 130deg,#a9d03b 132deg,#7ac243 134deg,#54b849 136deg,#3db34b 138deg,#32ae4c 140deg,#2da74c 142deg,#29a04b 144deg,#269f5c 146deg,#23a47b 148deg,#22a695 150deg,#24a3b5 152deg,#2e8bcc 154deg,#385aad 156deg,#3a3e98 158deg,#5e3a98 160deg,#873c9d 162deg,#893a9c 164deg,#86399b 166deg,#7c3691 168deg,#6c327e 170deg,#0000 170deg)"></div>
<div class="r" style="left:-43.77px;top:124.33px;width:494.53px;height:494.53px;background:conic-gradient(#0000 10deg,#5d2f6c 10deg,#6e3380 12deg,#84389a 14deg,#873a9c 16deg,#8b3c9e 18deg,#683a99 20deg,#3a3b96 22deg,#3955aa 24deg,#2f86c8 26deg,#25a2bc 28deg,#22a69a 30deg,#23a583 32deg,#25a063 34deg,#289e4b 36deg,#2ca64c 38deg,#31ae4c 40deg,#3cb34b 42deg,#50b849 44deg,#72c044 46deg,#9fcd3d 48deg,#c1d735 50deg,#d6dd30 52deg,#e5e22c 54deg,#ede129 56deg,#f0da26 58deg,#f4d122 60deg,#fbc21c 62deg,#f8aa1e 64deg,#f59120 66deg,#f26a26 68deg,#f05829 70deg,#ef532a 72deg,#ef502b 74deg,#ef4e2b 76deg,#ef4b2b 78deg,#ee482c 80deg,#ee442d 82deg,#ed3f2e 84deg,#ed3a2e 86deg,#ed382f 88deg,#ed372f 90deg,#ed382f 92deg,#ed3a2e 94deg,#ed3f2e 96deg,#ee442d 98deg,#ee482c 100deg,#ef4b2b 102deg,#ef4e2b 104deg,#ef502b 106deg,#ef532a 108deg,#f05829 110deg,#f26a26 112deg,#f59120 114deg,#f8aa1e 116deg,#fbc21c 118deg,#f4d122 120deg,#f0da26 122deg,#ede129 124deg,#e5e22c 126deg,#d6dd30 128deg,#c1d735 130deg,#9fcd3d 132deg,#72c044 134deg,#50b849 136deg,#3cb34b 138deg,#31ae4c 140deg,#2ca64c 142deg,#289e4b 144deg,#25a063 146deg,#23a583 148deg,#22a69a 150deg,#25a2bc 152deg,#2f86c8 154deg,#3955aa 156deg,#3a3b96 158deg,#683a99 160deg,#8b3c9e 162deg,#873a9c 164deg,#84389a 166deg,#6e3380 168deg,#5d2f6c 170deg,#0000 170deg)"></div>
<div class="r" style="left:-42.32px;top:125.78px;width:491.64px;height:491.64px;background:conic-gradient(#0000 10deg,#4f2b5b 10deg,#613070 12deg,#79358d 14deg,#86399b 16deg,#8a3b9d 18deg,#703b9a 20deg,#3a3a94 22deg,#3a50a7 24deg,#3082c6 26deg,#27a0c2 28deg,#22a69e 30deg,#22a68b 32deg,#25a169 34deg,#279d4b 36deg,#2ba54b 38deg,#30ad4c 40deg,#3bb24b 42deg,#4db749 44deg,#6abd46 46deg,#95ca3f 48deg,#b6d438 50deg,#ccda32 52deg,#dcdf2e 54deg,#eae32b 56deg,#efde27 58deg,#f3d423 60deg,#fac51d 62deg,#f9af1d 64deg,#f6991f 66deg,#f37724 68deg,#f16328 70deg,#f05d29 72deg,#f05929 74deg,#f0552a 76deg,#ef522a 78deg,#ef4e2b 80deg,#ee492c 82deg,#ee432d 84deg,#ed3f2e 86deg,#ed3c2e 88deg,#ed3b2e 90deg,#ed3c2e 92deg,#ed3f2e 94deg,#ee432d 96deg,#ee492c 98deg,#ef4e2b 100deg,#ef522a 102deg,#f0552a 104deg,#f05929 106deg,#f05d29 108deg,#f16328 110deg,#f37724 112deg,#f6991f 114deg,#f9af1d 116deg,#fac51d 118deg,#f3d423 120deg,#efde27 122deg,#eae32b 124deg,#dcdf2e 126deg,#ccda32 128deg,#b6d438 130deg,#95ca3f 132deg,#6abd46 134deg,#4db749 136deg,#3bb24b 138deg,#30ad4c 140deg,#2ba54b 142deg,#279d4b 144deg,#25a169 146deg,#22a68b 148deg,#22a69e 150deg,#27a0c2 152deg,#3082c6 154deg,#3a50a7 156deg,#3a3a94 158deg,#703b9a 160deg,#8a3b9d 162deg,#86399b 164deg,#79358d 166deg,#613070 168deg,#4f2b5b 170deg,#0000 170deg)"></div>
<div class="r" style="left:-40.87px;top:127.23px;width:488.75px;height:488.75px;background:conic-gradient(#0000 10deg,#46294f 10deg,#552d62 12deg,#6e3380 14deg,#85399b 16deg,#893b9d 18deg,#763b9b 20deg,#3a3893 22deg,#3b4ca4 24deg,#317dc3 26deg,#289fc9 28deg,#22a6a3 30deg,#22a68e 32deg,#24a270 34deg,#279e50 36deg,#2ba44b 38deg,#30ac4c 40deg,#3ab24b 42deg,#4ab74a 44deg,#62bb47 46deg,#8bc740 48deg,#acd13a 50deg,#c3d835 52deg,#d4dd30 54deg,#e3e12c 56deg,#eee028 58deg,#f2d624 60deg,#f9c81e 62deg,#f9b31d 64deg,#f79e1e 66deg,#f48322 68deg,#f26f26 70deg,#f16727 72deg,#f16128 74deg,#f05d29 76deg,#f05929 78deg,#ef542a 80deg,#ef4e2b 82deg,#ee482c 84deg,#ee432d 86deg,#ee412d 88deg,#ee402d 90deg,#ee412d 92deg,#ee432d 94deg,#ee482c 96deg,#ef4e2b 98deg,#ef542a 100deg,#f05929 102deg,#f05d29 104deg,#f16128 106deg,#f16727 108deg,#f26f26 110deg,#f48322 112deg,#f79e1e 114deg,#f9b31d 116deg,#f9c81e 118deg,#f2d624 120deg,#eee028 122deg,#e3e12c 124deg,#d4dd30 126deg,#c3d835 128deg,#acd13a 130deg,#8bc740 132deg,#62bb47 134deg,#4ab74a 136deg,#3ab24b 138deg,#30ac4c 140deg,#2ba44b 142deg,#279e50 144deg,#24a270 146deg,#22a68e 148deg,#22a6a3 150deg,#289fc9 152deg,#317dc3 154deg,#3b4ca4 156deg,#3a3893 158deg,#763b9b 160deg,#893b9d 162deg,#85399b 164deg,#6e3380 166deg,#552d62 168deg,#46294f 170deg,#0000 170deg)"></div>
<div class="r" style="left:-39.43px;top:128.67px;width:485.85px;height:485.85px;background:conic-gradient(#0000 10deg,#3f2946 10deg,#4a2a56 12deg,#663176 14deg,#84389a 16deg,#893a9c 18deg,#793b9b 20deg,#3d3893 22deg,#3b4aa3 24deg,#3279c0 26deg,#299ecf 28deg,#22a6a7 30deg,#22a692 32deg,#24a376 34deg,#269e55 36deg,#2aa34b 38deg,#2fac4c 40deg,#39b14b 42deg,#48b64a 44deg,#5eba47 46deg,#82c542 48deg,#a3ce3d 50deg,#bbd537 52deg,#cddb32 54deg,#dee02e 56deg,#ede229 58deg,#f1d825 60deg,#f8ca1f 62deg,#fab71d 64deg,#f7a31e 66deg,#f59020 68deg,#f37a24 70deg,#f27125 72deg,#f26b26 74deg,#f16527 76deg,#f16028 78deg,#f05a29 80deg,#ef542a 82deg,#ef4d2b 84deg,#ee482c 86deg,#ee452c 88deg,#ee442d 90deg,#ee452c 92deg,#ee482c 94deg,#ef4d2b 96deg,#ef542a 98deg,#f05a29 100deg,#f16028 102deg,#f16527 104deg,#f26b26 106deg,#f27125 108deg,#f37a24 110deg,#f59020 112deg,#f7a31e 114deg,#fab71d 116deg,#f8ca1f 118deg,#f1d825 120deg,#ede229 122deg,#dee02e 124deg,#cddb32 126deg,#bbd537 128deg,#a3ce3d 130deg,#82c542 132deg,#5eba47 134deg,#48b64a 136deg,#39b14b 138deg,#2fac4c 140deg,#2aa34b 142deg,#269e55 144deg,#24a376 146deg,#22a692 148deg,#22a6a7 150deg,#299ecf 152deg,#3279c0 154deg,#3b4aa3 156deg,#3d3893 158deg,#793b9b 160deg,#893a9c 162deg,#84389a 164deg,#663176 166deg,#4a2a56 168deg,#3f2946 170deg,#0000 170deg)"></div>
<div class="r" style="left:-37.98px;top:130.12px;width:482.96px;height:482.96px;background:conic-gradient(#0000 10deg,#39283e 10deg,#45294f 12deg,#5f2f6e 14deg,#843899 16deg,#893a9c 18deg,#7a3b9c 20deg,#3e3894 22deg,#3b49a2 24deg,#3275be 26deg,#2a9cd4 28deg,#23a5ac 30deg,#22a696 32deg,#23a47d 34deg,#269f5a 36deg,#2aa24b 38deg,#2fab4c 40deg,#38b14c 42deg,#45b64a 44deg,#5bba48 46deg,#7bc243 48deg,#9acc3e 50deg,#b3d339 52deg,#c7d933 54deg,#dadf2f 56deg,#ece42a 58deg,#f1d926 60deg,#f7cc20 62deg,#fabb1d 64deg,#f8a81e 66deg,#f6991f 68deg,#f48622 70deg,#f37b24 72deg,#f37425 74deg,#f26e26 76deg,#f16827 78deg,#f16128 80deg,#f05a29 82deg,#ef532a 84deg,#ef4e2b 86deg,#ef4b2c 88deg,#ee4a2c 90deg,#ef4b2c 92deg,#ef4e2b 94deg,#ef532a 96deg,#f05a29 98deg,#f16128 100deg,#f16827 102deg,#f26e26 104deg,#f37425 106deg,#f37b24 108deg,#f48622 110deg,#f6991f 112deg,#f8a81e 114deg,#fabb1d 116deg,#f7cc20 118deg,#f1d926 120deg,#ece42a 122deg,#dadf2f 124deg,#c7d933 126deg,#b3d339 128deg,#9acc3e 130deg,#7bc243 132deg,#5bba48 134deg,#45b64a 136deg,#38b14c 138deg,#2fab4c 140deg,#2aa24b 142deg,#269f5a 144deg,#23a47d 146deg,#22a696 148deg,#23a5ac 150deg,#2a9cd4 152deg,#3275be 154deg,#3b49a2 156deg,#3e3894 158deg,#7a3b9c 160deg,#893a9c 162deg,#843899 164deg,#5f2f6e 166deg,#45294f 168deg,#39283e 170deg,#0000 170deg)"></div>
<div class="r" style="left:-36.53px;top:131.57px;width:480.07px;height:480.07px;background:conic-gradient(#0000 10deg,#342736 10deg,#412949 12deg,#582d66 14deg,#803795 16deg,#883a9c 18deg,#7a3b9c 20deg,#3f3894 22deg,#3b48a1 24deg,#3372bc 26deg,#2b99d4 28deg,#24a4b2 30deg,#22a69a 32deg,#23a583 34deg,#25a05f 36deg,#29a14b 38deg,#2eaa4c 40deg,#37b14c 42deg,#43b54b 44deg,#57b948 46deg,#73c044 48deg,#93c93f 50deg,#acd13a 52deg,#c2d735 54deg,#d6dd30 56deg,#ebe42a 58deg,#f0da26 60deg,#f6cd21 62deg,#fbbe1c 64deg,#f9ad1d 66deg,#f79f1e 68deg,#f69320 70deg,#f48722 72deg,#f47f23 74deg,#f37824 76deg,#f27125 78deg,#f26927 80deg,#f16128 82deg,#f05a29 84deg,#f0542a 86deg,#ef512b 88deg,#ef502b 90deg,#ef512b 92deg,#f0542a 94deg,#f05a29 96deg,#f16128 98deg,#f26927 100deg,#f27125 102deg,#f37824 104deg,#f47f23 106deg,#f48722 108deg,#f69320 110deg,#f79f1e 112deg,#f9ad1d 114deg,#fbbe1c 116deg,#f6cd21 118deg,#f0da26 120deg,#ebe42a 122deg,#d6dd30 124deg,#c2d735 126deg,#acd13a 128deg,#93c93f 130deg,#73c044 132deg,#57b948 134deg,#43b54b 136deg,#37b14c 138deg,#2eaa4c 140deg,#29a14b 142deg,#25a05f 144deg,#23a583 146deg,#22a69a 148deg,#24a4b2 150deg,#2b99d4 152deg,#3372bc 154deg,#3b48a1 156deg,#3f3894 158deg,#7a3b9c 160deg,#883a9c 162deg,#803795 164deg,#582d66 166deg,#412949 168deg,#342736 170deg,#0000 170deg)"></div>
<div class="r" style="left:-35.09px;top:133.01px;width:477.17px;height:477.17px;background:conic-gradient(#0000 10deg,#2f262f 10deg,#3d2843 12deg,#532c5f 14deg,#7c3690 16deg,#883a9c 18deg,#7a3b9c 20deg,#3f3894 22deg,#3b47a1 24deg,#346eb9 26deg,#2c95d1 28deg,#25a3b8 30deg,#22a69d 32deg,#22a689 34deg,#25a063 36deg,#29a04b 38deg,#2eaa4c 40deg,#36b04c 42deg,#40b54b 44deg,#54b949 46deg,#6bbe45 48deg,#8bc740 50deg,#a5cf3c 52deg,#bdd636 54deg,#d3dc30 56deg,#e9e32b 58deg,#f0db26 60deg,#f5cf21 62deg,#fbc21c 64deg,#f9b21d 66deg,#f8a41e 68deg,#f79b1f 70deg,#f6941f 72deg,#f58b21 74deg,#f48322 76deg,#f37b24 78deg,#f27225 80deg,#f26a27 82deg,#f16228 84deg,#f05c29 86deg,#f05829 88deg,#f0572a 90deg,#f05829 92deg,#f05c29 94deg,#f16228 96deg,#f26a27 98deg,#f27225 100deg,#f37b24 102deg,#f48322 104deg,#f58b21 106deg,#f6941f 108deg,#f79b1f 110deg,#f8a41e 112deg,#f9b21d 114deg,#fbc21c 116deg,#f5cf21 118deg,#f0db26 120deg,#e9e32b 122deg,#d3dc30 124deg,#bdd636 126deg,#a5cf3c 128deg,#8bc740 130deg,#6bbe45 132deg,#54b949 134deg,#40b54b 136deg,#36b04c 138deg,#2eaa4c 140deg,#29a04b 142deg,#25a063 144deg,#22a689 146deg,#22a69d 148deg,#25a3b8 150deg,#2c95d1 152deg,#346eb9 154deg,#3b47a1 156deg,#3f3894 158deg,#7a3b9c 160deg,#883a9c 162deg,#7c3690 164deg,#532c5f 166deg,#3d2843 168deg,#2f262f 170deg,#0000 170deg)"></div>
<div class="r" style="left:-33.64px;top:134.46px;width:474.28px;height:474.28px;background:conic-gradient(#0000 10deg,#2b262a 10deg,#39283e 12deg,#4e2b5a 14deg,#79358d 16deg,#883a9c 18deg,#7a3b9c 20deg,#403894 22deg,#3b46a0 24deg,#356bb7 26deg,#2c90cf 28deg,#26a1be 30deg,#22a6a1 32deg,#22a68c 34deg,#25a167 36deg,#289f4b 38deg,#2ea94c 40deg,#36b04c 42deg,#3fb54b 44deg,#51b849 46deg,#64bc47 48deg,#83c542 50deg,#9fcd3d 52deg,#b8d437 54deg,#d0dc31 56deg,#e7e22b 58deg,#f0dc27 60deg,#f5d022 62deg,#fac41d 64deg,#fab71d 66deg,#f8ab1e 68deg,#f7a21e 70deg,#f79c1f 72deg,#f6971f 74deg,#f58f20 76deg,#f48522 78deg,#f37c23 80deg,#f27325 82deg,#f26a26 84deg,#f16427 86deg,#f16028 88deg,#f15f28 90deg,#f16028 92deg,#f16427 94deg,#f26a26 96deg,#f27325 98deg,#f37c23 100deg,#f48522 102deg,#f58f20 104deg,#f6971f 106deg,#f79c1f 108deg,#f7a21e 110deg,#f8ab1e 112deg,#fab71d 114deg,#fac41d 116deg,#f5d022 118deg,#f0dc27 120deg,#e7e22b 122deg,#d0dc31 124deg,#b8d437 126deg,#9fcd3d 128deg,#83c542 130deg,#64bc47 132deg,#51b849 134deg,#3fb54b 136deg,#36b04c 138deg,#2ea94c 140deg,#289f4b 142deg,#25a167 144deg,#22a68c 146deg,#22a6a1 148deg,#26a1be 150deg,#2c90cf 152deg,#356bb7 154deg,#3b46a0 156deg,#403894 158deg,#7a3b9c 160deg,#883a9c 162deg,#79358d 164deg,#4e2b5a 166deg,#39283e 168deg,#2b262a 170deg,#0000 170deg)"></div>
<div class="r" style="left:-32.19px;top:135.91px;width:471.39px;height:471.39px;background:conic-gradient(#0000 10deg,#2b262a 10deg,#362739 12deg,#4a2a55 14deg,#77358a 16deg,#883a9c 18deg,#7a3b9c 20deg,#403894 22deg,#3b469f 24deg,#3568b6 26deg,#2d8ccc 28deg,#27a0c3 30deg,#22a6a5 32deg,#22a68f 34deg,#24a26c 36deg,#289f4b 38deg,#2da84c 40deg,#35af4c 42deg,#3eb44b 44deg,#4eb749 46deg,#5fbb47 48deg,#7cc343 50deg,#99cb3e 52deg,#b4d338 54deg,#cddb32 56deg,#e6e22c 58deg,#efdc27 60deg,#f4d222 62deg,#f9c71e 64deg,#fabc1c 66deg,#f9b11d 68deg,#f8a91e 70deg,#f7a21e 72deg,#f79d1f 74deg,#f6991f 76deg,#f59120 78deg,#f48622 80deg,#f37c23 82deg,#f37325 84deg,#f26d26 86deg,#f16927 88deg,#f16727 90deg,#f16927 92deg,#f26d26 94deg,#f37325 96deg,#f37c23 98deg,#f48622 100deg,#f59120 102deg,#f6991f 104deg,#f79d1f 106deg,#f7a21e 108deg,#f8a91e 110deg,#f9b11d 112deg,#fabc1c 114deg,#f9c71e 116deg,#f4d222 118deg,#efdc27 120deg,#e6e22c 122deg,#cddb32 124deg,#b4d338 126deg,#99cb3e 128deg,#7cc343 130deg,#5fbb47 132deg,#4eb749 134deg,#3eb44b 136deg,#35af4c 138deg,#2da84c 140deg,#289f4b 142deg,#24a26c 144deg,#22a68f 146deg,#22a6a5 148deg,#27a0c3 150deg,#2d8ccc 152deg,#3568b6 154deg,#3b469f 156deg,#403894 158deg,#7a3b9c 160deg,#883a9c 162deg,#77358a 164deg,#4a2a55 166deg,#362739 168deg,#2b262a 170deg,#0000 170deg)"></div>
<div class="r" style="left:-30.75px;top:137.35px;width:468.49px;height:468.49px;background:conic-gradient(#0000 10deg,#2b262a 10deg,#332735 12deg,#482a53 14deg,#763589 16deg,#883a9c 18deg,#7a3b9c 20deg,#403894 22deg,#3b469f 24deg,#3665b4 26deg,#2e88ca 28deg,#289fc9 30deg,#22a6a8 32deg,#22a692 34deg,#24a270 36deg,#289e4b 38deg,#2da84c 40deg,#34af4c 42deg,#3db34b 44deg,#4bb74a 46deg,#5cba48 48deg,#75c144 50deg,#93c93f 52deg,#b0d239 54deg,#ccda32 56deg,#e5e22c 58deg,#efdc27 60deg,#f4d323 62deg,#f8ca1f 64deg,#fbc11c 66deg,#fab81d 68deg,#f9b01d 70deg,#f8a91e 72deg,#f7a41e 74deg,#f79e1e 76deg,#f6991f 78deg,#f59120 80deg,#f48622 82deg,#f37d23 84deg,#f37624 86deg,#f27225 88deg,#f27025 90deg,#f27225 92deg,#f37624 94deg,#f37d23 96deg,#f48622 98deg,#f59120 100deg,#f6991f 102deg,#f79e1e 104deg,#f7a41e 106deg,#f8a91e 108deg,#f9b01d 110deg,#fab81d 112deg,#fbc11c 114deg,#f8ca1f 116deg,#f4d323 118deg,#efdc27 120deg,#e5e22c 122deg,#ccda32 124deg,#b0d239 126deg,#93c93f 128deg,#75c144 130deg,#5cba48 132deg,#4bb74a 134deg,#3db34b 136deg,#34af4c 138deg,#2da84c 140deg,#289e4b 142deg,#24a270 144deg,#22a692 146deg,#22a6a8 148deg,#289fc9 150deg,#2e88ca 152deg,#3665b4 154deg,#3b469f 156deg,#403894 158deg,#7a3b9c 160deg,#883a9c 162deg,#763589 164deg,#482a53 166deg,#332735 168deg,#2b262a 170deg,#0000 170deg)"></div>
<div class="r" style="left:-29.3px;top:138.8px;width:465.6px;height:465.6px;background:#fff"></div></div>
<svg width="1422" height="799" viewBox="0 0 1422 799" style="position:absolute;left:0;top:0;will-change:transform"><defs>
<clipPath id="ca"><rect x="204" y="0" width="400" height="692.8"/></clipPath>
<clipPath id="cb"><rect x="702.5" y="51" width="658.9" height="641.7"/></clipPath>
<linearGradient id="cbg" x1="0" y1="0" x2="0" y2="1"><stop offset="0" stop-color="#dcc6c9"/><stop offset="0.03" stop-color="#d0686e"/><stop offset="0.05" stop-color="#cb373f"/><stop offset="0.09" stop-color="#d2353e"/><stop offset="0.1" stop-color="#e5323a"/><stop offset="0.15" stop-color="#ec3030"/><stop offset="0.2" stop-color="#f6971f"/><stop offset="0.25" stop-color="#fbc21c"/><stop offset="0.3" stop-color="#ece42a"/><stop offset="0.35" stop-color="#a6cf3c"/><stop offset="0.4" stop-color="#62bb47"/><stop offset="0.45" stop-color="#40b54b"/><stop offset="0.5" stop-color="#30ad4c"/><stop offset="0.55" stop-color="#279d4b"/><stop offset="0.6" stop-color="#22a68a"/><stop offset="0.65" stop-color="#22a6a9"/><stop offset="0.7" stop-color="#2a9cd6"/><stop offset="0.75" stop-color="#3277bf"/><stop offset="0.8" stop-color="#3b4ba4"/><stop offset="0.85" stop-color="#3a3893"/><stop offset="0.9" stop-color="#8c3c9e"/><stop offset="0.94" stop-color="#84389a"/><stop offset="0.97" stop-color="#4a2a55"/><stop offset="1" stop-color="#2b262a"/></linearGradient>
</defs>
<g clip-path="url(#ca)"><g transform="translate(0 371.6) scale(1 0.9945) translate(0 -371.6)" stroke="#333" stroke-width="5.5" fill="none" stroke-linecap="round" stroke-dasharray="0 6.45"><path d="M203.5 157 A214.6 214.6 0 0 1 203.5 586.2"/><path d="M203.5 103 A268.6 268.6 0 0 1 203.5 640.2"/><path d="M203.5 49.5 A322.1 322.1 0 0 1 203.5 693.7"/></g></g>
<rect x="161" y="40" width="71.5" height="18" fill="#fff"/>
<rect x="170" y="93" width="58.5" height="18" fill="#fff"/>
<rect x="188" y="146" width="35.5" height="18" fill="#fff"/>
<text x="163.25" y="54.85" font-size="15.25" textLength="63.04" lengthAdjust="spacingAndGlyphs" fill="#333333">1000 km</text>
<text x="172.55" y="108.35" font-size="15.39" textLength="53.43" lengthAdjust="spacingAndGlyphs" fill="#333333">500 km</text>
<text x="190.34" y="161.85" font-size="15.66" textLength="31" lengthAdjust="spacingAndGlyphs" fill="#333333">0 km</text>
<line x1="204.1" y1="371.5" x2="538.5" y2="371.5" stroke="#333" stroke-width="3" stroke-dasharray="12.8,5.2"/>
<text x="286.11" y="367.4" font-size="24.56" textLength="93.53" lengthAdjust="spacingAndGlyphs" fill="#333333">Equator</text>
<text x="61.75" y="102.08" font-size="52.75" textLength="25.55" lengthAdjust="spacingAndGlyphs" fill="#333333">a</text>
<rect x="136.7" y="221.1" width="34.55" height="305.8" fill="url(#cbg)"/>
<rect x="136.7" y="221.1" width="34.55" height="305.8" fill="none" stroke="#333" stroke-width="2.2"/>
<line x1="125.1" y1="255.1" x2="136.7" y2="255.1" stroke="#333" stroke-width="2.2"/>
<line x1="125.1" y1="323.05" x2="136.7" y2="323.05" stroke="#333" stroke-width="2.2"/>
<line x1="125.1" y1="391" x2="136.7" y2="391" stroke="#333" stroke-width="2.2"/>
<line x1="125.1" y1="458.95" x2="136.7" y2="458.95" stroke="#333" stroke-width="2.2"/>
<line x1="125.1" y1="526.9" x2="136.7" y2="526.9" stroke="#333" stroke-width="2.2"/>
<text x="85.16" y="261.13" font-size="17.51" textLength="27" lengthAdjust="spacingAndGlyphs" fill="#333333">3.0</text>
<text x="85.16" y="329.08" font-size="17.51" textLength="27" lengthAdjust="spacingAndGlyphs" fill="#333333">2.8</text>
<text x="85.16" y="397.03" font-size="17.51" textLength="27" lengthAdjust="spacingAndGlyphs" fill="#333333">2.6</text>
<text x="85.16" y="464.98" font-size="17.51" textLength="27" lengthAdjust="spacingAndGlyphs" fill="#333333">2.4</text>
<text x="85.16" y="532.93" font-size="17.51" textLength="27" lengthAdjust="spacingAndGlyphs" fill="#333333">2.2</text>
<text transform="rotate(-90 63.2 521.25)" x="63.2" y="521.25" font-size="26.02" textLength="292.91" lengthAdjust="spacingAndGlyphs" fill="#333333">Angular Velocity (μrad/s)</text>
<g stroke="#bcbcbc" stroke-width="2.6"><line x1="844.85" y1="51" x2="844.85" y2="692.7"/><line x1="1032.15" y1="51" x2="1032.15" y2="692.7"/><line x1="1219.45" y1="51" x2="1219.45" y2="692.7"/><line x1="702.5" y1="115" x2="1361.4" y2="115"/><line x1="702.5" y1="243.4" x2="1361.4" y2="243.4"/><line x1="702.5" y1="371.75" x2="1361.4" y2="371.75"/><line x1="702.5" y1="500.1" x2="1361.4" y2="500.1"/><line x1="702.5" y1="628.5" x2="1361.4" y2="628.5"/></g>
<g clip-path="url(#cb)"><polyline points="732.47,635.6 734.34,633.58 736.22,631.47 738.09,629.28 739.96,626.99 741.84,624.63 743.71,622.18 745.58,619.64 747.45,617.03 749.33,614.34 751.2,611.57 753.07,608.73 754.95,605.82 756.82,602.83 758.69,599.77 760.57,596.65 762.44,593.46 764.31,590.21 766.18,586.89 768.06,583.52 769.93,580.09 771.8,576.6 773.68,573.06 775.55,569.47 777.42,565.82 779.3,562.14 781.17,558.4 783.04,554.63 784.91,550.81 786.79,546.95 788.66,543.06 790.53,539.13 792.41,535.18 794.28,531.19 796.15,527.17 798.03,523.13 799.9,519.07 801.77,514.99 803.64,510.89 805.52,506.77 807.39,502.64 809.26,498.49 811.14,494.34 813.01,490.17 814.88,486.01 816.76,481.83 818.63,477.66 820.5,473.49 822.37,469.32 824.25,465.16 826.12,461 827.99,456.85 829.87,452.71 831.74,448.58 833.61,444.47 835.49,440.37 837.36,436.29 839.23,432.23 841.1,428.2 842.98,424.18 844.85,420.19 846.72,416.23 848.6,412.29 850.47,408.38 852.34,404.51 854.22,400.66 856.09,396.85 857.96,393.07 859.83,389.33 861.71,385.63 863.58,381.97 865.45,378.34 867.33,374.76 869.2,371.21 871.07,367.71 872.95,364.26 874.82,360.85 876.69,357.48 878.56,354.16 880.44,350.89 882.31,347.66 884.18,344.48 886.06,341.35 887.93,338.28 889.8,335.25 891.68,332.27 893.55,329.34 895.42,326.46 897.29,323.64 899.17,320.86 901.04,318.14 902.91,315.47 904.79,312.85 906.66,310.29 908.53,307.77 910.41,305.31 912.28,302.91 914.15,300.55 916.02,298.25 917.9,295.99 919.77,293.79 921.64,291.64 923.52,289.55 925.39,287.5 927.26,285.51 929.14,283.56 931.01,281.67 932.88,279.82 934.75,278.02 936.63,276.28 938.5,274.58 940.37,272.93 942.25,271.32 944.12,269.77 945.99,268.25 947.87,266.79 949.74,265.37 951.61,263.99 953.48,262.66 955.36,261.37 957.23,260.12 959.1,258.92 960.98,257.75 962.85,256.63 964.72,255.55 966.6,254.5 968.47,253.5 970.34,252.53 972.21,251.6 974.09,250.71 975.96,249.85 977.83,249.03 979.71,248.24 981.58,247.48 983.45,246.76 985.33,246.08 987.2,245.42 989.07,244.8 990.94,244.2 992.82,243.64 994.69,243.11 996.56,242.61 998.44,242.13 1000.31,241.69 1002.18,241.27 1004.06,240.88 1005.93,240.52 1007.8,240.18 1009.67,239.87 1011.55,239.59 1013.42,239.33 1015.29,239.1 1017.17,238.89 1019.04,238.71 1020.91,238.55 1022.79,238.42 1024.66,238.31 1026.53,238.22 1028.4,238.16 1030.28,238.13 1032.15,238.12 1034.02,238.13 1035.9,238.16 1037.77,238.22 1039.64,238.31 1041.52,238.42 1043.39,238.55 1045.26,238.71 1047.13,238.89 1049.01,239.1 1050.88,239.33 1052.75,239.59 1054.63,239.87 1056.5,240.18 1058.37,240.52 1060.25,240.88 1062.12,241.27 1063.99,241.69 1065.86,242.13 1067.74,242.61 1069.61,243.11 1071.48,243.64 1073.36,244.2 1075.23,244.8 1077.1,245.42 1078.98,246.08 1080.85,246.76 1082.72,247.48 1084.59,248.24 1086.47,249.03 1088.34,249.85 1090.21,250.71 1092.09,251.6 1093.96,252.53 1095.83,253.5 1097.71,254.5 1099.58,255.55 1101.45,256.63 1103.32,257.75 1105.2,258.92 1107.07,260.12 1108.94,261.37 1110.82,262.66 1112.69,263.99 1114.56,265.37 1116.44,266.79 1118.31,268.25 1120.18,269.77 1122.05,271.32 1123.93,272.93 1125.8,274.58 1127.67,276.28 1129.55,278.02 1131.42,279.82 1133.29,281.67 1135.17,283.56 1137.04,285.51 1138.91,287.5 1140.78,289.55 1142.66,291.64 1144.53,293.79 1146.4,295.99 1148.28,298.25 1150.15,300.55 1152.02,302.91 1153.89,305.31 1155.77,307.77 1157.64,310.29 1159.51,312.85 1161.39,315.47 1163.26,318.14 1165.13,320.86 1167.01,323.64 1168.88,326.46 1170.75,329.34 1172.62,332.27 1174.5,335.25 1176.37,338.28 1178.24,341.35 1180.12,344.48 1181.99,347.66 1183.86,350.89 1185.74,354.16 1187.61,357.48 1189.48,360.85 1191.36,364.26 1193.23,367.71 1195.1,371.21 1196.97,374.76 1198.85,378.34 1200.72,381.97 1202.59,385.63 1204.47,389.33 1206.34,393.07 1208.21,396.85 1210.09,400.66 1211.96,404.51 1213.83,408.38 1215.7,412.29 1217.58,416.23 1219.45,420.19 1221.32,424.18 1223.2,428.2 1225.07,432.23 1226.94,436.29 1228.82,440.37 1230.69,444.47 1232.56,448.58 1234.43,452.71 1236.31,456.85 1238.18,461 1240.05,465.16 1241.93,469.32 1243.8,473.49 1245.67,477.66 1247.55,481.83 1249.42,486.01 1251.29,490.17 1253.16,494.34 1255.04,498.49 1256.91,502.64 1258.78,506.77 1260.66,510.89 1262.53,514.99 1264.4,519.07 1266.28,523.13 1268.15,527.17 1270.02,531.19 1271.89,535.18 1273.77,539.13 1275.64,543.06 1277.51,546.95 1279.39,550.81 1281.26,554.63 1283.13,558.4 1285.01,562.14 1286.88,565.82 1288.75,569.47 1290.62,573.06 1292.5,576.6 1294.37,580.09 1296.24,583.52 1298.12,586.89 1299.99,590.21 1301.86,593.46 1303.74,596.65 1305.61,599.77 1307.48,602.83 1309.35,605.82 1311.23,608.73 1313.1,611.57 1314.97,614.34 1316.85,617.03 1318.72,619.64 1320.59,622.18 1322.47,624.63 1324.34,626.99 1326.21,629.28 1328.08,631.47 1329.96,633.58 1331.83,635.6" stroke="#7aa9d5" stroke-width="3.45" fill="none" stroke-linecap="round" stroke-linejoin="round"/><polyline points="732.47,612.6 734.34,610.6 736.22,608.5 738.09,606.32 739.96,604.06 741.84,601.71 743.71,599.28 745.58,596.76 747.45,594.17 749.33,591.5 751.2,588.75 753.07,585.93 754.95,583.04 756.82,580.07 758.69,577.04 760.57,573.94 762.44,570.77 764.31,567.54 766.18,564.24 768.06,560.89 769.93,557.48 771.8,554.01 773.68,550.49 775.55,546.92 777.42,543.3 779.3,539.63 781.17,535.91 783.04,532.16 784.91,528.36 786.79,524.52 788.66,520.64 790.53,516.73 792.41,512.79 794.28,508.82 796.15,504.82 798.03,500.8 799.9,496.75 801.77,492.67 803.64,488.58 805.52,484.48 807.39,480.35 809.26,476.22 811.14,472.07 813.01,467.92 814.88,463.75 816.76,459.59 818.63,455.42 820.5,451.25 822.37,447.08 824.25,442.91 826.12,438.75 827.99,434.6 829.87,430.46 831.74,426.33 833.61,422.21 835.49,418.1 837.36,414.01 839.23,409.94 841.1,405.89 842.98,401.86 844.85,397.86 846.72,393.88 848.6,389.92 850.47,386 852.34,382.1 854.22,378.23 856.09,374.4 857.96,370.6 859.83,366.83 861.71,363.1 863.58,359.4 865.45,355.75 867.33,352.13 869.2,348.55 871.07,345.02 872.95,341.53 874.82,338.08 876.69,334.67 878.56,331.31 880.44,328 882.31,324.73 884.18,321.5 886.06,318.33 887.93,315.2 889.8,312.13 891.68,309.1 893.55,306.12 895.42,303.19 897.29,300.31 899.17,297.49 901.04,294.71 902.91,291.99 904.79,289.31 906.66,286.69 908.53,284.12 910.41,281.6 912.28,279.13 914.15,276.72 916.02,274.35 917.9,272.04 919.77,269.78 921.64,267.57 923.52,265.41 925.39,263.3 927.26,261.24 929.14,259.23 931.01,257.28 932.88,255.37 934.75,253.51 936.63,251.7 938.5,249.93 940.37,248.22 942.25,246.55 944.12,244.93 945.99,243.36 947.87,241.83 949.74,240.35 951.61,238.91 953.48,237.51 955.36,236.16 957.23,234.86 959.1,233.59 960.98,232.37 962.85,231.19 964.72,230.05 966.6,228.95 968.47,227.89 970.34,226.87 972.21,225.88 974.09,224.94 975.96,224.03 977.83,223.15 979.71,222.32 981.58,221.52 983.45,220.75 985.33,220.02 987.2,219.32 989.07,218.65 990.94,218.02 992.82,217.42 994.69,216.85 996.56,216.31 998.44,215.8 1000.31,215.32 1002.18,214.88 1004.06,214.46 1005.93,214.07 1007.8,213.7 1009.67,213.37 1011.55,213.07 1013.42,212.79 1015.29,212.54 1017.17,212.31 1019.04,212.12 1020.91,211.95 1022.79,211.8 1024.66,211.69 1026.53,211.59 1028.4,211.53 1030.28,211.49 1032.15,211.48 1034.02,211.49 1035.9,211.53 1037.77,211.59 1039.64,211.69 1041.52,211.8 1043.39,211.95 1045.26,212.12 1047.13,212.31 1049.01,212.54 1050.88,212.79 1052.75,213.07 1054.63,213.37 1056.5,213.7 1058.37,214.07 1060.25,214.46 1062.12,214.88 1063.99,215.32 1065.86,215.8 1067.74,216.31 1069.61,216.85 1071.48,217.42 1073.36,218.02 1075.23,218.65 1077.1,219.32 1078.98,220.02 1080.85,220.75 1082.72,221.52 1084.59,222.32 1086.47,223.15 1088.34,224.03 1090.21,224.94 1092.09,225.88 1093.96,226.87 1095.83,227.89 1097.71,228.95 1099.58,230.05 1101.45,231.19 1103.32,232.37 1105.2,233.59 1107.07,234.86 1108.94,236.16 1110.82,237.51 1112.69,238.91 1114.56,240.35 1116.44,241.83 1118.31,243.36 1120.18,244.93 1122.05,246.55 1123.93,248.22 1125.8,249.93 1127.67,251.7 1129.55,253.51 1131.42,255.37 1133.29,257.28 1135.17,259.23 1137.04,261.24 1138.91,263.3 1140.78,265.41 1142.66,267.57 1144.53,269.78 1146.4,272.04 1148.28,274.35 1150.15,276.72 1152.02,279.13 1153.89,281.6 1155.77,284.12 1157.64,286.69 1159.51,289.31 1161.39,291.99 1163.26,294.71 1165.13,297.49 1167.01,300.31 1168.88,303.19 1170.75,306.12 1172.62,309.1 1174.5,312.13 1176.37,315.2 1178.24,318.33 1180.12,321.5 1181.99,324.73 1183.86,328 1185.74,331.31 1187.61,334.67 1189.48,338.08 1191.36,341.53 1193.23,345.02 1195.1,348.55 1196.97,352.13 1198.85,355.75 1200.72,359.4 1202.59,363.1 1204.47,366.83 1206.34,370.6 1208.21,374.4 1210.09,378.23 1211.96,382.1 1213.83,386 1215.7,389.92 1217.58,393.88 1219.45,397.86 1221.32,401.86 1223.2,405.89 1225.07,409.94 1226.94,414.01 1228.82,418.1 1230.69,422.21 1232.56,426.33 1234.43,430.46 1236.31,434.6 1238.18,438.75 1240.05,442.91 1241.93,447.08 1243.8,451.25 1245.67,455.42 1247.55,459.59 1249.42,463.75 1251.29,467.92 1253.16,472.07 1255.04,476.22 1256.91,480.35 1258.78,484.48 1260.66,488.58 1262.53,492.67 1264.4,496.75 1266.28,500.8 1268.15,504.82 1270.02,508.82 1271.89,512.79 1273.77,516.73 1275.64,520.64 1277.51,524.52 1279.39,528.36 1281.26,532.16 1283.13,535.91 1285.01,539.63 1286.88,543.3 1288.75,546.92 1290.62,550.49 1292.5,554.01 1294.37,557.48 1296.24,560.89 1298.12,564.24 1299.99,567.54 1301.86,570.77 1303.74,573.94 1305.61,577.04 1307.48,580.07 1309.35,583.04 1311.23,585.93 1313.1,588.75 1314.97,591.5 1316.85,594.17 1318.72,596.76 1320.59,599.28 1322.47,601.71 1324.34,604.06 1326.21,606.32 1328.08,608.5 1329.96,610.6 1331.83,612.6" stroke="#7aa9d5" stroke-width="3.45" fill="none" stroke-linecap="butt" stroke-linejoin="round" stroke-dasharray="12.77,5.52"/><polyline points="732.47,630.16 734.34,627.65 736.22,625.02 738.09,622.28 739.96,619.44 741.84,616.49 743.71,613.44 745.58,610.28 747.45,607.03 749.33,603.68 751.2,600.24 753.07,596.7 754.95,593.08 756.82,589.36 758.69,585.56 760.57,581.68 762.44,577.72 764.31,573.67 766.18,569.56 768.06,565.37 769.93,561.1 771.8,556.78 773.68,552.38 775.55,547.92 777.42,543.41 779.3,538.83 781.17,534.21 783.04,529.53 784.91,524.8 786.79,520.02 788.66,515.21 790.53,510.35 792.41,505.45 794.28,500.52 796.15,495.56 798.03,490.57 799.9,485.55 801.77,480.51 803.64,475.45 805.52,470.37 807.39,465.27 809.26,460.17 811.14,455.05 813.01,449.92 814.88,444.8 816.76,439.66 818.63,434.54 820.5,429.41 822.37,424.29 824.25,419.18 826.12,414.08 827.99,408.99 829.87,403.92 831.74,398.87 833.61,393.84 835.49,388.83 837.36,383.84 839.23,378.89 841.1,373.96 842.98,369.06 844.85,364.2 846.72,359.37 848.6,354.58 850.47,349.83 852.34,345.12 854.22,340.46 856.09,335.84 857.96,331.26 859.83,326.73 861.71,322.25 863.58,317.82 865.45,313.45 867.33,309.12 869.2,304.86 871.07,300.64 872.95,296.49 874.82,292.39 876.69,288.35 878.56,284.37 880.44,280.45 882.31,276.59 884.18,272.79 886.06,269.06 887.93,265.39 889.8,261.79 891.68,258.24 893.55,254.77 895.42,251.36 897.29,248.01 899.17,244.73 901.04,241.52 902.91,238.37 904.79,235.29 906.66,232.27 908.53,229.32 910.41,226.44 912.28,223.62 914.15,220.87 916.02,218.18 917.9,215.56 919.77,213.01 921.64,210.51 923.52,208.09 925.39,205.72 927.26,203.42 929.14,201.18 931.01,199 932.88,196.89 934.75,194.83 936.63,192.83 938.5,190.9 940.37,189.02 942.25,187.2 944.12,185.44 945.99,183.73 947.87,182.08 949.74,180.48 951.61,178.93 953.48,177.44 955.36,176 957.23,174.61 959.1,173.27 960.98,171.98 962.85,170.74 964.72,169.54 966.6,168.39 968.47,167.29 970.34,166.23 972.21,165.21 974.09,164.23 975.96,163.3 977.83,162.41 979.71,161.55 981.58,160.74 983.45,159.96 985.33,159.23 987.2,158.52 989.07,157.86 990.94,157.22 992.82,156.62 994.69,156.06 996.56,155.52 998.44,155.02 1000.31,154.55 1002.18,154.11 1004.06,153.7 1005.93,153.32 1007.8,152.97 1009.67,152.65 1011.55,152.35 1013.42,152.08 1015.29,151.84 1017.17,151.62 1019.04,151.43 1020.91,151.27 1022.79,151.13 1024.66,151.02 1026.53,150.93 1028.4,150.87 1030.28,150.83 1032.15,150.82 1034.02,150.83 1035.9,150.87 1037.77,150.93 1039.64,151.02 1041.52,151.13 1043.39,151.27 1045.26,151.43 1047.13,151.62 1049.01,151.84 1050.88,152.08 1052.75,152.35 1054.63,152.65 1056.5,152.97 1058.37,153.32 1060.25,153.7 1062.12,154.11 1063.99,154.55 1065.86,155.02 1067.74,155.52 1069.61,156.06 1071.48,156.62 1073.36,157.22 1075.23,157.86 1077.1,158.52 1078.98,159.23 1080.85,159.96 1082.72,160.74 1084.59,161.55 1086.47,162.41 1088.34,163.3 1090.21,164.23 1092.09,165.21 1093.96,166.23 1095.83,167.29 1097.71,168.39 1099.58,169.54 1101.45,170.74 1103.32,171.98 1105.2,173.27 1107.07,174.61 1108.94,176 1110.82,177.44 1112.69,178.93 1114.56,180.48 1116.44,182.08 1118.31,183.73 1120.18,185.44 1122.05,187.2 1123.93,189.02 1125.8,190.9 1127.67,192.83 1129.55,194.83 1131.42,196.89 1133.29,199 1135.17,201.18 1137.04,203.42 1138.91,205.72 1140.78,208.09 1142.66,210.51 1144.53,213.01 1146.4,215.56 1148.28,218.18 1150.15,220.87 1152.02,223.62 1153.89,226.44 1155.77,229.32 1157.64,232.27 1159.51,235.29 1161.39,238.37 1163.26,241.52 1165.13,244.73 1167.01,248.01 1168.88,251.36 1170.75,254.77 1172.62,258.24 1174.5,261.79 1176.37,265.39 1178.24,269.06 1180.12,272.79 1181.99,276.59 1183.86,280.45 1185.74,284.37 1187.61,288.35 1189.48,292.39 1191.36,296.49 1193.23,300.64 1195.1,304.86 1196.97,309.12 1198.85,313.45 1200.72,317.82 1202.59,322.25 1204.47,326.73 1206.34,331.26 1208.21,335.84 1210.09,340.46 1211.96,345.12 1213.83,349.83 1215.7,354.58 1217.58,359.37 1219.45,364.2 1221.32,369.06 1223.2,373.96 1225.07,378.89 1226.94,383.84 1228.82,388.83 1230.69,393.84 1232.56,398.87 1234.43,403.92 1236.31,408.99 1238.18,414.08 1240.05,419.18 1241.93,424.29 1243.8,429.41 1245.67,434.54 1247.55,439.66 1249.42,444.8 1251.29,449.92 1253.16,455.05 1255.04,460.17 1256.91,465.27 1258.78,470.37 1260.66,475.45 1262.53,480.51 1264.4,485.55 1266.28,490.57 1268.15,495.56 1270.02,500.52 1271.89,505.45 1273.77,510.35 1275.64,515.21 1277.51,520.02 1279.39,524.8 1281.26,529.53 1283.13,534.21 1285.01,538.83 1286.88,543.41 1288.75,547.92 1290.62,552.38 1292.5,556.78 1294.37,561.1 1296.24,565.37 1298.12,569.56 1299.99,573.67 1301.86,577.72 1303.74,581.68 1305.61,585.56 1307.48,589.36 1309.35,593.08 1311.23,596.7 1313.1,600.24 1314.97,603.68 1316.85,607.03 1318.72,610.28 1320.59,613.44 1322.47,616.49 1324.34,619.44 1326.21,622.28 1328.08,625.02 1329.96,627.65 1331.83,630.16" stroke="#f8b36b" stroke-width="3.45" fill="none" stroke-linecap="round" stroke-linejoin="round"/><polyline points="732.47,629.65 734.34,627.13 736.22,624.5 738.09,621.77 739.96,618.92 741.84,615.97 743.71,612.92 745.58,609.77 747.45,606.52 749.33,603.17 751.2,599.73 753.07,596.19 754.95,592.56 756.82,588.85 758.69,585.05 760.57,581.17 762.44,577.2 764.31,573.16 766.18,569.04 768.06,564.85 769.93,560.59 771.8,556.26 773.68,551.87 775.55,547.41 777.42,542.89 779.3,538.32 781.17,533.69 783.04,529.01 784.91,524.28 786.79,519.51 788.66,514.69 790.53,509.83 792.41,504.94 794.28,500.01 796.15,495.05 798.03,490.05 799.9,485.04 801.77,480 803.64,474.93 805.52,469.85 807.39,464.76 809.26,459.65 811.14,454.53 813.01,449.41 814.88,444.28 816.76,439.15 818.63,434.02 820.5,428.9 822.37,423.78 824.25,418.66 826.12,413.56 827.99,408.48 829.87,403.41 831.74,398.35 833.61,393.32 835.49,388.31 837.36,383.33 839.23,378.37 841.1,373.45 842.98,368.55 844.85,363.69 846.72,358.86 848.6,354.07 850.47,349.32 852.34,344.61 854.22,339.94 856.09,335.32 857.96,330.75 859.83,326.22 861.71,321.74 863.58,317.31 865.45,312.93 867.33,308.61 869.2,304.34 871.07,300.13 872.95,295.97 874.82,291.87 876.69,287.83 878.56,283.85 880.44,279.93 882.31,276.08 884.18,272.28 886.06,268.55 887.93,264.88 889.8,261.27 891.68,257.73 893.55,254.25 895.42,250.84 897.29,247.5 899.17,244.22 901.04,241 902.91,237.86 904.79,234.77 906.66,231.76 908.53,228.81 910.41,225.93 912.28,223.11 914.15,220.36 916.02,217.67 917.9,215.05 919.77,212.49 921.64,210 923.52,207.57 925.39,205.21 927.26,202.91 929.14,200.67 931.01,198.49 932.88,196.37 934.75,194.32 936.63,192.32 938.5,190.38 940.37,188.51 942.25,186.69 944.12,184.92 945.99,183.21 947.87,181.56 949.74,179.96 951.61,178.42 953.48,176.93 955.36,175.49 957.23,174.1 959.1,172.76 960.98,171.47 962.85,170.22 964.72,169.03 966.6,167.88 968.47,166.77 970.34,165.71 972.21,164.69 974.09,163.72 975.96,162.79 977.83,161.89 979.71,161.04 981.58,160.23 983.45,159.45 985.33,158.71 987.2,158.01 989.07,157.34 990.94,156.71 992.82,156.11 994.69,155.54 996.56,155.01 998.44,154.51 1000.31,154.04 1002.18,153.6 1004.06,153.19 1005.93,152.81 1007.8,152.46 1009.67,152.13 1011.55,151.84 1013.42,151.57 1015.29,151.32 1017.17,151.11 1019.04,150.92 1020.91,150.75 1022.79,150.62 1024.66,150.5 1026.53,150.42 1028.4,150.35 1030.28,150.32 1032.15,150.3 1034.02,150.32 1035.9,150.35 1037.77,150.42 1039.64,150.5 1041.52,150.62 1043.39,150.75 1045.26,150.92 1047.13,151.11 1049.01,151.32 1050.88,151.57 1052.75,151.84 1054.63,152.13 1056.5,152.46 1058.37,152.81 1060.25,153.19 1062.12,153.6 1063.99,154.04 1065.86,154.51 1067.74,155.01 1069.61,155.54 1071.48,156.11 1073.36,156.71 1075.23,157.34 1077.1,158.01 1078.98,158.71 1080.85,159.45 1082.72,160.23 1084.59,161.04 1086.47,161.89 1088.34,162.79 1090.21,163.72 1092.09,164.69 1093.96,165.71 1095.83,166.77 1097.71,167.88 1099.58,169.03 1101.45,170.22 1103.32,171.47 1105.2,172.76 1107.07,174.1 1108.94,175.49 1110.82,176.93 1112.69,178.42 1114.56,179.96 1116.44,181.56 1118.31,183.21 1120.18,184.92 1122.05,186.69 1123.93,188.51 1125.8,190.38 1127.67,192.32 1129.55,194.32 1131.42,196.37 1133.29,198.49 1135.17,200.67 1137.04,202.91 1138.91,205.21 1140.78,207.57 1142.66,210 1144.53,212.49 1146.4,215.05 1148.28,217.67 1150.15,220.36 1152.02,223.11 1153.89,225.93 1155.77,228.81 1157.64,231.76 1159.51,234.77 1161.39,237.86 1163.26,241 1165.13,244.22 1167.01,247.5 1168.88,250.84 1170.75,254.25 1172.62,257.73 1174.5,261.27 1176.37,264.88 1178.24,268.55 1180.12,272.28 1181.99,276.08 1183.86,279.93 1185.74,283.85 1187.61,287.83 1189.48,291.87 1191.36,295.97 1193.23,300.13 1195.1,304.34 1196.97,308.61 1198.85,312.93 1200.72,317.31 1202.59,321.74 1204.47,326.22 1206.34,330.75 1208.21,335.32 1210.09,339.94 1211.96,344.61 1213.83,349.32 1215.7,354.07 1217.58,358.86 1219.45,363.69 1221.32,368.55 1223.2,373.45 1225.07,378.37 1226.94,383.33 1228.82,388.31 1230.69,393.32 1232.56,398.35 1234.43,403.41 1236.31,408.48 1238.18,413.56 1240.05,418.66 1241.93,423.78 1243.8,428.9 1245.67,434.02 1247.55,439.15 1249.42,444.28 1251.29,449.41 1253.16,454.53 1255.04,459.65 1256.91,464.76 1258.78,469.85 1260.66,474.93 1262.53,480 1264.4,485.04 1266.28,490.05 1268.15,495.05 1270.02,500.01 1271.89,504.94 1273.77,509.83 1275.64,514.69 1277.51,519.51 1279.39,524.28 1281.26,529.01 1283.13,533.69 1285.01,538.32 1286.88,542.89 1288.75,547.41 1290.62,551.87 1292.5,556.26 1294.37,560.59 1296.24,564.85 1298.12,569.04 1299.99,573.16 1301.86,577.2 1303.74,581.17 1305.61,585.05 1307.48,588.85 1309.35,592.56 1311.23,596.19 1313.1,599.73 1314.97,603.17 1316.85,606.52 1318.72,609.77 1320.59,612.92 1322.47,615.97 1324.34,618.92 1326.21,621.77 1328.08,624.5 1329.96,627.13 1331.83,629.65" stroke="#f8b36b" stroke-width="3.45" fill="none" stroke-linecap="butt" stroke-linejoin="round" stroke-dasharray="12.77,5.52"/><polyline points="732.47,629.01 734.34,626.49 736.22,623.86 738.09,621.13 739.96,618.28 741.84,615.33 743.71,612.28 745.58,609.13 747.45,605.88 749.33,602.53 751.2,599.08 753.07,595.55 754.95,591.92 756.82,588.21 758.69,584.41 760.57,580.52 762.44,576.56 764.31,572.52 766.18,568.4 768.06,564.21 769.93,559.95 771.8,555.62 773.68,551.23 775.55,546.77 777.42,542.25 779.3,537.68 781.17,533.05 783.04,528.37 784.91,523.64 786.79,518.87 788.66,514.05 790.53,509.19 792.41,504.3 794.28,499.37 796.15,494.4 798.03,489.41 799.9,484.4 801.77,479.35 803.64,474.29 805.52,469.21 807.39,464.12 809.26,459.01 811.14,453.89 813.01,448.77 814.88,443.64 816.76,438.51 818.63,433.38 820.5,428.25 822.37,423.13 824.25,418.02 826.12,412.92 827.99,407.84 829.87,402.77 831.74,397.71 833.61,392.68 835.49,387.67 837.36,382.69 839.23,377.73 841.1,372.8 842.98,367.91 844.85,363.05 846.72,358.22 848.6,353.43 850.47,348.68 852.34,343.97 854.22,339.3 856.09,334.68 857.96,330.11 859.83,325.58 861.71,321.1 863.58,316.67 865.45,312.29 867.33,307.97 869.2,303.7 871.07,299.49 872.95,295.33 874.82,291.23 876.69,287.19 878.56,283.21 880.44,279.29 882.31,275.43 884.18,271.64 886.06,267.91 887.93,264.24 889.8,260.63 891.68,257.09 893.55,253.61 895.42,250.2 897.29,246.86 899.17,243.58 901.04,240.36 902.91,237.21 904.79,234.13 906.66,231.12 908.53,228.17 910.41,225.28 912.28,222.47 914.15,219.72 916.02,217.03 917.9,214.41 919.77,211.85 921.64,209.36 923.52,206.93 925.39,204.57 927.26,202.26 929.14,200.02 931.01,197.85 932.88,195.73 934.75,193.68 936.63,191.68 938.5,189.74 940.37,187.86 942.25,186.04 944.12,184.28 945.99,182.57 947.87,180.92 949.74,179.32 951.61,177.78 953.48,176.28 955.36,174.84 957.23,173.45 959.1,172.11 960.98,170.82 962.85,169.58 964.72,168.38 966.6,167.23 968.47,166.13 970.34,165.07 972.21,164.05 974.09,163.08 975.96,162.14 977.83,161.25 979.71,160.4 981.58,159.59 983.45,158.81 985.33,158.07 987.2,157.37 989.07,156.7 990.94,156.07 992.82,155.47 994.69,154.9 996.56,154.37 998.44,153.87 1000.31,153.4 1002.18,152.96 1004.06,152.55 1005.93,152.17 1007.8,151.81 1009.67,151.49 1011.55,151.19 1013.42,150.92 1015.29,150.68 1017.17,150.47 1019.04,150.28 1020.91,150.11 1022.79,149.97 1024.66,149.86 1026.53,149.77 1028.4,149.71 1030.28,149.68 1032.15,149.66 1034.02,149.68 1035.9,149.71 1037.77,149.77 1039.64,149.86 1041.52,149.97 1043.39,150.11 1045.26,150.28 1047.13,150.47 1049.01,150.68 1050.88,150.92 1052.75,151.19 1054.63,151.49 1056.5,151.81 1058.37,152.17 1060.25,152.55 1062.12,152.96 1063.99,153.4 1065.86,153.87 1067.74,154.37 1069.61,154.9 1071.48,155.47 1073.36,156.07 1075.23,156.7 1077.1,157.37 1078.98,158.07 1080.85,158.81 1082.72,159.59 1084.59,160.4 1086.47,161.25 1088.34,162.14 1090.21,163.08 1092.09,164.05 1093.96,165.07 1095.83,166.13 1097.71,167.23 1099.58,168.38 1101.45,169.58 1103.32,170.82 1105.2,172.11 1107.07,173.45 1108.94,174.84 1110.82,176.28 1112.69,177.78 1114.56,179.32 1116.44,180.92 1118.31,182.57 1120.18,184.28 1122.05,186.04 1123.93,187.86 1125.8,189.74 1127.67,191.68 1129.55,193.68 1131.42,195.73 1133.29,197.85 1135.17,200.02 1137.04,202.26 1138.91,204.57 1140.78,206.93 1142.66,209.36 1144.53,211.85 1146.4,214.41 1148.28,217.03 1150.15,219.72 1152.02,222.47 1153.89,225.28 1155.77,228.17 1157.64,231.12 1159.51,234.13 1161.39,237.21 1163.26,240.36 1165.13,243.58 1167.01,246.86 1168.88,250.2 1170.75,253.61 1172.62,257.09 1174.5,260.63 1176.37,264.24 1178.24,267.91 1180.12,271.64 1181.99,275.43 1183.86,279.29 1185.74,283.21 1187.61,287.19 1189.48,291.23 1191.36,295.33 1193.23,299.49 1195.1,303.7 1196.97,307.97 1198.85,312.29 1200.72,316.67 1202.59,321.1 1204.47,325.58 1206.34,330.11 1208.21,334.68 1210.09,339.3 1211.96,343.97 1213.83,348.68 1215.7,353.43 1217.58,358.22 1219.45,363.05 1221.32,367.91 1223.2,372.8 1225.07,377.73 1226.94,382.69 1228.82,387.67 1230.69,392.68 1232.56,397.71 1234.43,402.77 1236.31,407.84 1238.18,412.92 1240.05,418.02 1241.93,423.13 1243.8,428.25 1245.67,433.38 1247.55,438.51 1249.42,443.64 1251.29,448.77 1253.16,453.89 1255.04,459.01 1256.91,464.12 1258.78,469.21 1260.66,474.29 1262.53,479.35 1264.4,484.4 1266.28,489.41 1268.15,494.4 1270.02,499.37 1271.89,504.3 1273.77,509.19 1275.64,514.05 1277.51,518.87 1279.39,523.64 1281.26,528.37 1283.13,533.05 1285.01,537.68 1286.88,542.25 1288.75,546.77 1290.62,551.23 1292.5,555.62 1294.37,559.95 1296.24,564.21 1298.12,568.4 1299.99,572.52 1301.86,576.56 1303.74,580.52 1305.61,584.41 1307.48,588.21 1309.35,591.92 1311.23,595.55 1313.1,599.08 1314.97,602.53 1316.85,605.88 1318.72,609.13 1320.59,612.28 1322.47,615.33 1324.34,618.28 1326.21,621.13 1328.08,623.86 1329.96,626.49 1331.83,629.01" stroke="#f8b36b" stroke-width="3.45" fill="none" stroke-linecap="butt" stroke-linejoin="round" stroke-dasharray="22.08,5.52,3.45,5.52"/><polyline points="732.47,627.73 734.34,625.21 736.22,622.58 738.09,619.84 739.96,617 741.84,614.05 743.71,611 745.58,607.84 747.45,604.59 749.33,601.24 751.2,597.8 753.07,594.26 754.95,590.64 756.82,586.92 758.69,583.12 760.57,579.24 762.44,575.28 764.31,571.23 766.18,567.12 768.06,562.93 769.93,558.67 771.8,554.34 773.68,549.94 775.55,545.49 777.42,540.97 779.3,536.39 781.17,531.77 783.04,527.09 784.91,522.36 786.79,517.58 788.66,512.77 790.53,507.91 792.41,503.01 794.28,498.08 796.15,493.12 798.03,488.13 799.9,483.11 801.77,478.07 803.64,473.01 805.52,467.93 807.39,462.83 809.26,457.73 811.14,452.61 813.01,447.48 814.88,442.36 816.76,437.23 818.63,432.1 820.5,426.97 822.37,421.85 824.25,416.74 826.12,411.64 827.99,406.55 829.87,401.48 831.74,396.43 833.61,391.4 835.49,386.39 837.36,381.4 839.23,376.45 841.1,371.52 842.98,366.62 844.85,361.76 846.72,356.93 848.6,352.15 850.47,347.4 852.34,342.69 854.22,338.02 856.09,333.4 857.96,328.82 859.83,324.29 861.71,319.81 863.58,315.39 865.45,311.01 867.33,306.68 869.2,302.42 871.07,298.2 872.95,294.05 874.82,289.95 876.69,285.91 878.56,281.93 880.44,278.01 882.31,274.15 884.18,270.35 886.06,266.62 887.93,262.95 889.8,259.35 891.68,255.81 893.55,252.33 895.42,248.92 897.29,245.57 899.17,242.29 901.04,239.08 902.91,235.93 904.79,232.85 906.66,229.83 908.53,226.88 910.41,224 912.28,221.18 914.15,218.43 916.02,215.74 917.9,213.12 919.77,210.57 921.64,208.07 923.52,205.65 925.39,203.28 927.26,200.98 929.14,198.74 931.01,196.56 932.88,194.45 934.75,192.39 936.63,190.4 938.5,188.46 940.37,186.58 942.25,184.76 944.12,183 945.99,181.29 947.87,179.64 949.74,178.04 951.61,176.49 953.48,175 955.36,173.56 957.23,172.17 959.1,170.83 960.98,169.54 962.85,168.3 964.72,167.1 966.6,165.95 968.47,164.85 970.34,163.79 972.21,162.77 974.09,161.79 975.96,160.86 977.83,159.97 979.71,159.12 981.58,158.3 983.45,157.53 985.33,156.79 987.2,156.08 989.07,155.42 990.94,154.78 992.82,154.18 994.69,153.62 996.56,153.09 998.44,152.58 1000.31,152.11 1002.18,151.67 1004.06,151.26 1005.93,150.88 1007.8,150.53 1009.67,150.21 1011.55,149.91 1013.42,149.64 1015.29,149.4 1017.17,149.18 1019.04,148.99 1020.91,148.83 1022.79,148.69 1024.66,148.58 1026.53,148.49 1028.4,148.43 1030.28,148.39 1032.15,148.38 1034.02,148.39 1035.9,148.43 1037.77,148.49 1039.64,148.58 1041.52,148.69 1043.39,148.83 1045.26,148.99 1047.13,149.18 1049.01,149.4 1050.88,149.64 1052.75,149.91 1054.63,150.21 1056.5,150.53 1058.37,150.88 1060.25,151.26 1062.12,151.67 1063.99,152.11 1065.86,152.58 1067.74,153.09 1069.61,153.62 1071.48,154.18 1073.36,154.78 1075.23,155.42 1077.1,156.08 1078.98,156.79 1080.85,157.53 1082.72,158.3 1084.59,159.12 1086.47,159.97 1088.34,160.86 1090.21,161.79 1092.09,162.77 1093.96,163.79 1095.83,164.85 1097.71,165.95 1099.58,167.1 1101.45,168.3 1103.32,169.54 1105.2,170.83 1107.07,172.17 1108.94,173.56 1110.82,175 1112.69,176.49 1114.56,178.04 1116.44,179.64 1118.31,181.29 1120.18,183 1122.05,184.76 1123.93,186.58 1125.8,188.46 1127.67,190.4 1129.55,192.39 1131.42,194.45 1133.29,196.56 1135.17,198.74 1137.04,200.98 1138.91,203.28 1140.78,205.65 1142.66,208.07 1144.53,210.57 1146.4,213.12 1148.28,215.74 1150.15,218.43 1152.02,221.18 1153.89,224 1155.77,226.88 1157.64,229.83 1159.51,232.85 1161.39,235.93 1163.26,239.08 1165.13,242.29 1167.01,245.57 1168.88,248.92 1170.75,252.33 1172.62,255.81 1174.5,259.35 1176.37,262.95 1178.24,266.62 1180.12,270.35 1181.99,274.15 1183.86,278.01 1185.74,281.93 1187.61,285.91 1189.48,289.95 1191.36,294.05 1193.23,298.2 1195.1,302.42 1196.97,306.68 1198.85,311.01 1200.72,315.39 1202.59,319.81 1204.47,324.29 1206.34,328.82 1208.21,333.4 1210.09,338.02 1211.96,342.69 1213.83,347.4 1215.7,352.15 1217.58,356.93 1219.45,361.76 1221.32,366.62 1223.2,371.52 1225.07,376.45 1226.94,381.4 1228.82,386.39 1230.69,391.4 1232.56,396.43 1234.43,401.48 1236.31,406.55 1238.18,411.64 1240.05,416.74 1241.93,421.85 1243.8,426.97 1245.67,432.1 1247.55,437.23 1249.42,442.36 1251.29,447.48 1253.16,452.61 1255.04,457.73 1256.91,462.83 1258.78,467.93 1260.66,473.01 1262.53,478.07 1264.4,483.11 1266.28,488.13 1268.15,493.12 1270.02,498.08 1271.89,503.01 1273.77,507.91 1275.64,512.77 1277.51,517.58 1279.39,522.36 1281.26,527.09 1283.13,531.77 1285.01,536.39 1286.88,540.97 1288.75,545.49 1290.62,549.94 1292.5,554.34 1294.37,558.67 1296.24,562.93 1298.12,567.12 1299.99,571.23 1301.86,575.28 1303.74,579.24 1305.61,583.12 1307.48,586.92 1309.35,590.64 1311.23,594.26 1313.1,597.8 1314.97,601.24 1316.85,604.59 1318.72,607.84 1320.59,611 1322.47,614.05 1324.34,617 1326.21,619.84 1328.08,622.58 1329.96,625.21 1331.83,627.73" stroke="#f8b36b" stroke-width="3.45" fill="none" stroke-linecap="butt" stroke-linejoin="round" stroke-dasharray="3.45,5.69"/><polyline points="732.47,631.76 734.34,629.13 736.22,626.37 738.09,623.5 739.96,620.53 741.84,617.44 743.71,614.24 745.58,610.94 747.45,607.54 749.33,604.03 751.2,600.43 753.07,596.73 754.95,592.93 756.82,589.05 758.69,585.08 760.57,581.02 762.44,576.87 764.31,572.65 766.18,568.35 768.06,563.97 769.93,559.52 771.8,555 773.68,550.42 775.55,545.77 777.42,541.05 779.3,536.28 781.17,531.46 783.04,526.58 784.91,521.66 786.79,516.68 788.66,511.67 790.53,506.61 792.41,501.52 794.28,496.39 796.15,491.23 798.03,486.04 799.9,480.83 801.77,475.6 803.64,470.34 805.52,465.07 807.39,459.79 809.26,454.49 811.14,449.19 813.01,443.89 814.88,438.58 816.76,433.27 818.63,427.96 820.5,422.67 822.37,417.38 824.25,412.1 826.12,406.84 827.99,401.59 829.87,396.37 831.74,391.16 833.61,385.98 835.49,380.83 837.36,375.71 839.23,370.61 841.1,365.56 842.98,360.53 844.85,355.55 846.72,350.6 848.6,345.7 850.47,340.84 852.34,336.03 854.22,331.26 856.09,326.55 857.96,321.88 859.83,317.27 861.71,312.71 863.58,308.21 865.45,303.77 867.33,299.38 869.2,295.05 871.07,290.79 872.95,286.58 874.82,282.44 876.69,278.36 878.56,274.35 880.44,270.4 882.31,266.52 884.18,262.71 886.06,258.96 887.93,255.28 889.8,251.68 891.68,248.14 893.55,244.67 895.42,241.27 897.29,237.94 899.17,234.68 901.04,231.49 902.91,228.37 904.79,225.32 906.66,222.34 908.53,219.44 910.41,216.6 912.28,213.83 914.15,211.13 916.02,208.5 917.9,205.94 919.77,203.45 921.64,201.02 923.52,198.66 925.39,196.37 927.26,194.14 929.14,191.98 931.01,189.88 932.88,187.85 934.75,185.88 936.63,183.97 938.5,182.12 940.37,180.33 942.25,178.6 944.12,176.93 945.99,175.32 947.87,173.76 949.74,172.26 951.61,170.81 953.48,169.42 955.36,168.07 957.23,166.78 959.1,165.54 960.98,164.35 962.85,163.2 964.72,162.1 966.6,161.05 968.47,160.04 970.34,159.07 972.21,158.15 974.09,157.27 975.96,156.43 977.83,155.63 979.71,154.86 981.58,154.13 983.45,153.44 985.33,152.79 987.2,152.16 989.07,151.58 990.94,151.02 992.82,150.49 994.69,150 996.56,149.53 998.44,149.1 1000.31,148.69 1002.18,148.31 1004.06,147.95 1005.93,147.63 1007.8,147.32 1009.67,147.04 1011.55,146.79 1013.42,146.56 1015.29,146.36 1017.17,146.17 1019.04,146.01 1020.91,145.87 1022.79,145.75 1024.66,145.66 1026.53,145.59 1028.4,145.53 1030.28,145.5 1032.15,145.49 1034.02,145.5 1035.9,145.53 1037.77,145.59 1039.64,145.66 1041.52,145.75 1043.39,145.87 1045.26,146.01 1047.13,146.17 1049.01,146.36 1050.88,146.56 1052.75,146.79 1054.63,147.04 1056.5,147.32 1058.37,147.63 1060.25,147.95 1062.12,148.31 1063.99,148.69 1065.86,149.1 1067.74,149.53 1069.61,150 1071.48,150.49 1073.36,151.02 1075.23,151.58 1077.1,152.16 1078.98,152.79 1080.85,153.44 1082.72,154.13 1084.59,154.86 1086.47,155.63 1088.34,156.43 1090.21,157.27 1092.09,158.15 1093.96,159.07 1095.83,160.04 1097.71,161.05 1099.58,162.1 1101.45,163.2 1103.32,164.35 1105.2,165.54 1107.07,166.78 1108.94,168.07 1110.82,169.42 1112.69,170.81 1114.56,172.26 1116.44,173.76 1118.31,175.32 1120.18,176.93 1122.05,178.6 1123.93,180.33 1125.8,182.12 1127.67,183.97 1129.55,185.88 1131.42,187.85 1133.29,189.88 1135.17,191.98 1137.04,194.14 1138.91,196.37 1140.78,198.66 1142.66,201.02 1144.53,203.45 1146.4,205.94 1148.28,208.5 1150.15,211.13 1152.02,213.83 1153.89,216.6 1155.77,219.44 1157.64,222.34 1159.51,225.32 1161.39,228.37 1163.26,231.49 1165.13,234.68 1167.01,237.94 1168.88,241.27 1170.75,244.67 1172.62,248.14 1174.5,251.68 1176.37,255.28 1178.24,258.96 1180.12,262.71 1181.99,266.52 1183.86,270.4 1185.74,274.35 1187.61,278.36 1189.48,282.44 1191.36,286.58 1193.23,290.79 1195.1,295.05 1196.97,299.38 1198.85,303.77 1200.72,308.21 1202.59,312.71 1204.47,317.27 1206.34,321.88 1208.21,326.55 1210.09,331.26 1211.96,336.03 1213.83,340.84 1215.7,345.7 1217.58,350.6 1219.45,355.55 1221.32,360.53 1223.2,365.56 1225.07,370.61 1226.94,375.71 1228.82,380.83 1230.69,385.98 1232.56,391.16 1234.43,396.37 1236.31,401.59 1238.18,406.84 1240.05,412.1 1241.93,417.38 1243.8,422.67 1245.67,427.96 1247.55,433.27 1249.42,438.58 1251.29,443.89 1253.16,449.19 1255.04,454.49 1256.91,459.79 1258.78,465.07 1260.66,470.34 1262.53,475.6 1264.4,480.83 1266.28,486.04 1268.15,491.23 1270.02,496.39 1271.89,501.52 1273.77,506.61 1275.64,511.67 1277.51,516.68 1279.39,521.66 1281.26,526.58 1283.13,531.46 1285.01,536.28 1286.88,541.05 1288.75,545.77 1290.62,550.42 1292.5,555 1294.37,559.52 1296.24,563.97 1298.12,568.35 1299.99,572.65 1301.86,576.87 1303.74,581.02 1305.61,585.08 1307.48,589.05 1309.35,592.93 1311.23,596.73 1313.1,600.43 1314.97,604.03 1316.85,607.54 1318.72,610.94 1320.59,614.24 1322.47,617.44 1324.34,620.53 1326.21,623.5 1328.08,626.37 1329.96,629.13 1331.83,631.76" stroke="#85cdc3" stroke-width="3.45" fill="none" stroke-linecap="round" stroke-linejoin="round"/><polyline points="732.47,629.77 734.34,627.14 736.22,624.38 738.09,621.51 739.96,618.54 741.84,615.45 743.71,612.25 745.58,608.95 747.45,605.55 749.33,602.04 751.2,598.44 753.07,594.74 754.95,590.94 756.82,587.06 758.69,583.09 760.57,579.03 762.44,574.88 764.31,570.66 766.18,566.36 768.06,561.98 769.93,557.53 771.8,553.01 773.68,548.43 775.55,543.78 777.42,539.06 779.3,534.29 781.17,529.47 783.04,524.59 784.91,519.67 786.79,514.69 788.66,509.68 790.53,504.62 792.41,499.53 794.28,494.4 796.15,489.24 798.03,484.05 799.9,478.84 801.77,473.61 803.64,468.35 805.52,463.08 807.39,457.8 809.26,452.5 811.14,447.2 813.01,441.9 814.88,436.59 816.76,431.28 818.63,425.97 820.5,420.68 822.37,415.39 824.25,410.11 826.12,404.85 827.99,399.6 829.87,394.38 831.74,389.17 833.61,383.99 835.49,378.84 837.36,373.72 839.23,368.62 841.1,363.57 842.98,358.54 844.85,353.56 846.72,348.61 848.6,343.71 850.47,338.85 852.34,334.04 854.22,329.27 856.09,324.56 857.96,319.89 859.83,315.28 861.71,310.72 863.58,306.22 865.45,301.78 867.33,297.39 869.2,293.06 871.07,288.8 872.95,284.59 874.82,280.45 876.69,276.37 878.56,272.36 880.44,268.41 882.31,264.53 884.18,260.72 886.06,256.97 887.93,253.29 889.8,249.69 891.68,246.15 893.55,242.68 895.42,239.28 897.29,235.95 899.17,232.69 901.04,229.5 902.91,226.38 904.79,223.33 906.66,220.35 908.53,217.45 910.41,214.61 912.28,211.84 914.15,209.14 916.02,206.51 917.9,203.95 919.77,201.46 921.64,199.03 923.52,196.67 925.39,194.38 927.26,192.15 929.14,189.99 931.01,187.89 932.88,185.86 934.75,183.89 936.63,181.98 938.5,180.13 940.37,178.34 942.25,176.61 944.12,174.94 945.99,173.33 947.87,171.77 949.74,170.27 951.61,168.82 953.48,167.43 955.36,166.08 957.23,164.79 959.1,163.55 960.98,162.36 962.85,161.21 964.72,160.11 966.6,159.06 968.47,158.05 970.34,157.09 972.21,156.16 974.09,155.28 975.96,154.44 977.83,153.64 979.71,152.87 981.58,152.14 983.45,151.45 985.33,150.8 987.2,150.17 989.07,149.59 990.94,149.03 992.82,148.5 994.69,148.01 996.56,147.54 998.44,147.11 1000.31,146.7 1002.18,146.32 1004.06,145.96 1005.93,145.64 1007.8,145.33 1009.67,145.06 1011.55,144.8 1013.42,144.57 1015.29,144.37 1017.17,144.18 1019.04,144.02 1020.91,143.88 1022.79,143.76 1024.66,143.67 1026.53,143.6 1028.4,143.54 1030.28,143.51 1032.15,143.5 1034.02,143.51 1035.9,143.54 1037.77,143.6 1039.64,143.67 1041.52,143.76 1043.39,143.88 1045.26,144.02 1047.13,144.18 1049.01,144.37 1050.88,144.57 1052.75,144.8 1054.63,145.06 1056.5,145.33 1058.37,145.64 1060.25,145.96 1062.12,146.32 1063.99,146.7 1065.86,147.11 1067.74,147.54 1069.61,148.01 1071.48,148.5 1073.36,149.03 1075.23,149.59 1077.1,150.17 1078.98,150.8 1080.85,151.45 1082.72,152.14 1084.59,152.87 1086.47,153.64 1088.34,154.44 1090.21,155.28 1092.09,156.16 1093.96,157.09 1095.83,158.05 1097.71,159.06 1099.58,160.11 1101.45,161.21 1103.32,162.36 1105.2,163.55 1107.07,164.79 1108.94,166.08 1110.82,167.43 1112.69,168.82 1114.56,170.27 1116.44,171.77 1118.31,173.33 1120.18,174.94 1122.05,176.61 1123.93,178.34 1125.8,180.13 1127.67,181.98 1129.55,183.89 1131.42,185.86 1133.29,187.89 1135.17,189.99 1137.04,192.15 1138.91,194.38 1140.78,196.67 1142.66,199.03 1144.53,201.46 1146.4,203.95 1148.28,206.51 1150.15,209.14 1152.02,211.84 1153.89,214.61 1155.77,217.45 1157.64,220.35 1159.51,223.33 1161.39,226.38 1163.26,229.5 1165.13,232.69 1167.01,235.95 1168.88,239.28 1170.75,242.68 1172.62,246.15 1174.5,249.69 1176.37,253.29 1178.24,256.97 1180.12,260.72 1181.99,264.53 1183.86,268.41 1185.74,272.36 1187.61,276.37 1189.48,280.45 1191.36,284.59 1193.23,288.8 1195.1,293.06 1196.97,297.39 1198.85,301.78 1200.72,306.22 1202.59,310.72 1204.47,315.28 1206.34,319.89 1208.21,324.56 1210.09,329.27 1211.96,334.04 1213.83,338.85 1215.7,343.71 1217.58,348.61 1219.45,353.56 1221.32,358.54 1223.2,363.57 1225.07,368.62 1226.94,373.72 1228.82,378.84 1230.69,383.99 1232.56,389.17 1234.43,394.38 1236.31,399.6 1238.18,404.85 1240.05,410.11 1241.93,415.39 1243.8,420.68 1245.67,425.97 1247.55,431.28 1249.42,436.59 1251.29,441.9 1253.16,447.2 1255.04,452.5 1256.91,457.8 1258.78,463.08 1260.66,468.35 1262.53,473.61 1264.4,478.84 1266.28,484.05 1268.15,489.24 1270.02,494.4 1271.89,499.53 1273.77,504.62 1275.64,509.68 1277.51,514.69 1279.39,519.67 1281.26,524.59 1283.13,529.47 1285.01,534.29 1286.88,539.06 1288.75,543.78 1290.62,548.43 1292.5,553.01 1294.37,557.53 1296.24,561.98 1298.12,566.36 1299.99,570.66 1301.86,574.88 1303.74,579.03 1305.61,583.09 1307.48,587.06 1309.35,590.94 1311.23,594.74 1313.1,598.44 1314.97,602.04 1316.85,605.55 1318.72,608.95 1320.59,612.25 1322.47,615.45 1324.34,618.54 1326.21,621.51 1328.08,624.38 1329.96,627.14 1331.83,629.77" stroke="#85cdc3" stroke-width="3.45" fill="none" stroke-linecap="butt" stroke-linejoin="round" stroke-dasharray="12.77,5.52"/><polyline points="732.47,627.27 734.34,624.63 736.22,621.88 738.09,619.01 739.96,616.03 741.84,612.94 743.71,609.75 745.58,606.45 747.45,603.04 749.33,599.54 751.2,595.93 753.07,592.23 754.95,588.44 756.82,584.56 758.69,580.58 760.57,576.52 762.44,572.38 764.31,568.16 766.18,563.85 768.06,559.48 769.93,555.03 771.8,550.51 773.68,545.92 775.55,541.27 777.42,536.56 779.3,531.79 781.17,526.97 783.04,522.09 784.91,517.16 786.79,512.19 788.66,507.17 790.53,502.12 792.41,497.03 794.28,491.9 796.15,486.74 798.03,481.55 799.9,476.34 801.77,471.1 803.64,465.85 805.52,460.58 807.39,455.3 809.26,450 811.14,444.7 813.01,439.39 814.88,434.08 816.76,428.78 818.63,423.47 820.5,418.17 822.37,412.88 824.25,407.61 826.12,402.34 827.99,397.1 829.87,391.87 831.74,386.67 833.61,381.49 835.49,376.34 837.36,371.21 839.23,366.12 841.1,361.06 842.98,356.04 844.85,351.06 846.72,346.11 848.6,341.21 850.47,336.35 852.34,331.54 854.22,326.77 856.09,322.06 857.96,317.39 859.83,312.78 861.71,308.22 863.58,303.72 865.45,299.27 867.33,294.89 869.2,290.56 871.07,286.29 872.95,282.09 874.82,277.95 876.69,273.87 878.56,269.86 880.44,265.91 882.31,262.03 884.18,258.21 886.06,254.47 887.93,250.79 889.8,247.18 891.68,243.64 893.55,240.17 895.42,236.77 897.29,233.44 899.17,230.18 901.04,227 902.91,223.88 904.79,220.83 906.66,217.85 908.53,214.94 910.41,212.1 912.28,209.34 914.15,206.64 916.02,204.01 917.9,201.45 919.77,198.95 921.64,196.53 923.52,194.17 925.39,191.88 927.26,189.65 929.14,187.49 931.01,185.39 932.88,183.36 934.75,181.38 936.63,179.47 938.5,177.63 940.37,175.84 942.25,174.11 944.12,172.44 945.99,170.82 947.87,169.27 949.74,167.77 951.61,166.32 953.48,164.92 955.36,163.58 957.23,162.29 959.1,161.05 960.98,159.85 962.85,158.71 964.72,157.61 966.6,156.56 968.47,155.55 970.34,154.58 972.21,153.66 974.09,152.78 975.96,151.94 977.83,151.13 979.71,150.37 981.58,149.64 983.45,148.95 985.33,148.29 987.2,147.67 989.07,147.08 990.94,146.52 992.82,146 994.69,145.5 996.56,145.04 998.44,144.6 1000.31,144.2 1002.18,143.81 1004.06,143.46 1005.93,143.13 1007.8,142.83 1009.67,142.55 1011.55,142.3 1013.42,142.07 1015.29,141.86 1017.17,141.68 1019.04,141.52 1020.91,141.38 1022.79,141.26 1024.66,141.17 1026.53,141.09 1028.4,141.04 1030.28,141.01 1032.15,141 1034.02,141.01 1035.9,141.04 1037.77,141.09 1039.64,141.17 1041.52,141.26 1043.39,141.38 1045.26,141.52 1047.13,141.68 1049.01,141.86 1050.88,142.07 1052.75,142.3 1054.63,142.55 1056.5,142.83 1058.37,143.13 1060.25,143.46 1062.12,143.81 1063.99,144.2 1065.86,144.6 1067.74,145.04 1069.61,145.5 1071.48,146 1073.36,146.52 1075.23,147.08 1077.1,147.67 1078.98,148.29 1080.85,148.95 1082.72,149.64 1084.59,150.37 1086.47,151.13 1088.34,151.94 1090.21,152.78 1092.09,153.66 1093.96,154.58 1095.83,155.55 1097.71,156.56 1099.58,157.61 1101.45,158.71 1103.32,159.85 1105.2,161.05 1107.07,162.29 1108.94,163.58 1110.82,164.92 1112.69,166.32 1114.56,167.77 1116.44,169.27 1118.31,170.82 1120.18,172.44 1122.05,174.11 1123.93,175.84 1125.8,177.63 1127.67,179.47 1129.55,181.38 1131.42,183.36 1133.29,185.39 1135.17,187.49 1137.04,189.65 1138.91,191.88 1140.78,194.17 1142.66,196.53 1144.53,198.95 1146.4,201.45 1148.28,204.01 1150.15,206.64 1152.02,209.34 1153.89,212.1 1155.77,214.94 1157.64,217.85 1159.51,220.83 1161.39,223.88 1163.26,227 1165.13,230.18 1167.01,233.44 1168.88,236.77 1170.75,240.17 1172.62,243.64 1174.5,247.18 1176.37,250.79 1178.24,254.47 1180.12,258.21 1181.99,262.03 1183.86,265.91 1185.74,269.86 1187.61,273.87 1189.48,277.95 1191.36,282.09 1193.23,286.29 1195.1,290.56 1196.97,294.89 1198.85,299.27 1200.72,303.72 1202.59,308.22 1204.47,312.78 1206.34,317.39 1208.21,322.06 1210.09,326.77 1211.96,331.54 1213.83,336.35 1215.7,341.21 1217.58,346.11 1219.45,351.06 1221.32,356.04 1223.2,361.06 1225.07,366.12 1226.94,371.21 1228.82,376.34 1230.69,381.49 1232.56,386.67 1234.43,391.87 1236.31,397.1 1238.18,402.34 1240.05,407.61 1241.93,412.88 1243.8,418.17 1245.67,423.47 1247.55,428.78 1249.42,434.08 1251.29,439.39 1253.16,444.7 1255.04,450 1256.91,455.3 1258.78,460.58 1260.66,465.85 1262.53,471.1 1264.4,476.34 1266.28,481.55 1268.15,486.74 1270.02,491.9 1271.89,497.03 1273.77,502.12 1275.64,507.17 1277.51,512.19 1279.39,517.16 1281.26,522.09 1283.13,526.97 1285.01,531.79 1286.88,536.56 1288.75,541.27 1290.62,545.92 1292.5,550.51 1294.37,555.03 1296.24,559.48 1298.12,563.85 1299.99,568.16 1301.86,572.38 1303.74,576.52 1305.61,580.58 1307.48,584.56 1309.35,588.44 1311.23,592.23 1313.1,595.93 1314.97,599.54 1316.85,603.04 1318.72,606.45 1320.59,609.75 1322.47,612.94 1324.34,616.03 1326.21,619.01 1328.08,621.88 1329.96,624.63 1331.83,627.27" stroke="#85cdc3" stroke-width="3.45" fill="none" stroke-linecap="butt" stroke-linejoin="round" stroke-dasharray="22.08,5.52,3.45,5.52"/><polyline points="732.47,622.59 734.34,619.95 736.22,617.19 738.09,614.33 739.96,611.35 741.84,608.26 743.71,605.06 745.58,601.76 747.45,598.36 749.33,594.85 751.2,591.25 753.07,587.55 754.95,583.75 756.82,579.87 758.69,575.9 760.57,571.84 762.44,567.69 764.31,563.47 766.18,559.17 768.06,554.79 769.93,550.34 771.8,545.82 773.68,541.24 775.55,536.59 777.42,531.87 779.3,527.1 781.17,522.28 783.04,517.4 784.91,512.48 786.79,507.5 788.66,502.49 790.53,497.43 792.41,492.34 794.28,487.21 796.15,482.05 798.03,476.87 799.9,471.65 801.77,466.42 803.64,461.16 805.52,455.89 807.39,450.61 809.26,445.31 811.14,440.01 813.01,434.71 814.88,429.4 816.76,424.09 818.63,418.78 820.5,413.49 822.37,408.2 824.25,402.92 826.12,397.66 827.99,392.41 829.87,387.19 831.74,381.98 833.61,376.8 835.49,371.65 837.36,366.53 839.23,361.43 841.1,356.38 842.98,351.35 844.85,346.37 846.72,341.42 848.6,336.52 850.47,331.66 852.34,326.85 854.22,322.09 856.09,317.37 857.96,312.71 859.83,308.09 861.71,303.54 863.58,299.03 865.45,294.59 867.33,290.2 869.2,285.87 871.07,281.61 872.95,277.4 874.82,273.26 876.69,269.18 878.56,265.17 880.44,261.22 882.31,257.34 884.18,253.53 886.06,249.78 887.93,246.11 889.8,242.5 891.68,238.96 893.55,235.49 895.42,232.09 897.29,228.76 899.17,225.5 901.04,222.31 902.91,219.19 904.79,216.14 906.66,213.16 908.53,210.26 910.41,207.42 912.28,204.65 914.15,201.95 916.02,199.32 917.9,196.76 919.77,194.27 921.64,191.84 923.52,189.48 925.39,187.19 927.26,184.96 929.14,182.8 931.01,180.7 932.88,178.67 934.75,176.7 936.63,174.79 938.5,172.94 940.37,171.15 942.25,169.42 944.12,167.75 945.99,166.14 947.87,164.58 949.74,163.08 951.61,161.63 953.48,160.24 955.36,158.89 957.23,157.6 959.1,156.36 960.98,155.17 962.85,154.02 964.72,152.92 966.6,151.87 968.47,150.86 970.34,149.9 972.21,148.97 974.09,148.09 975.96,147.25 977.83,146.45 979.71,145.68 981.58,144.95 983.45,144.26 985.33,143.61 987.2,142.98 989.07,142.4 990.94,141.84 992.82,141.31 994.69,140.82 996.56,140.35 998.44,139.92 1000.31,139.51 1002.18,139.13 1004.06,138.77 1005.93,138.45 1007.8,138.14 1009.67,137.87 1011.55,137.61 1013.42,137.38 1015.29,137.18 1017.17,136.99 1019.04,136.83 1020.91,136.69 1022.79,136.58 1024.66,136.48 1026.53,136.41 1028.4,136.35 1030.28,136.32 1032.15,136.31 1034.02,136.32 1035.9,136.35 1037.77,136.41 1039.64,136.48 1041.52,136.58 1043.39,136.69 1045.26,136.83 1047.13,136.99 1049.01,137.18 1050.88,137.38 1052.75,137.61 1054.63,137.87 1056.5,138.14 1058.37,138.45 1060.25,138.77 1062.12,139.13 1063.99,139.51 1065.86,139.92 1067.74,140.35 1069.61,140.82 1071.48,141.31 1073.36,141.84 1075.23,142.4 1077.1,142.98 1078.98,143.61 1080.85,144.26 1082.72,144.95 1084.59,145.68 1086.47,146.45 1088.34,147.25 1090.21,148.09 1092.09,148.97 1093.96,149.9 1095.83,150.86 1097.71,151.87 1099.58,152.92 1101.45,154.02 1103.32,155.17 1105.2,156.36 1107.07,157.6 1108.94,158.89 1110.82,160.24 1112.69,161.63 1114.56,163.08 1116.44,164.58 1118.31,166.14 1120.18,167.75 1122.05,169.42 1123.93,171.15 1125.8,172.94 1127.67,174.79 1129.55,176.7 1131.42,178.67 1133.29,180.7 1135.17,182.8 1137.04,184.96 1138.91,187.19 1140.78,189.48 1142.66,191.84 1144.53,194.27 1146.4,196.76 1148.28,199.32 1150.15,201.95 1152.02,204.65 1153.89,207.42 1155.77,210.26 1157.64,213.16 1159.51,216.14 1161.39,219.19 1163.26,222.31 1165.13,225.5 1167.01,228.76 1168.88,232.09 1170.75,235.49 1172.62,238.96 1174.5,242.5 1176.37,246.11 1178.24,249.78 1180.12,253.53 1181.99,257.34 1183.86,261.22 1185.74,265.17 1187.61,269.18 1189.48,273.26 1191.36,277.4 1193.23,281.61 1195.1,285.87 1196.97,290.2 1198.85,294.59 1200.72,299.03 1202.59,303.54 1204.47,308.09 1206.34,312.71 1208.21,317.37 1210.09,322.09 1211.96,326.85 1213.83,331.66 1215.7,336.52 1217.58,341.42 1219.45,346.37 1221.32,351.35 1223.2,356.38 1225.07,361.43 1226.94,366.53 1228.82,371.65 1230.69,376.8 1232.56,381.98 1234.43,387.19 1236.31,392.41 1238.18,397.66 1240.05,402.92 1241.93,408.2 1243.8,413.49 1245.67,418.78 1247.55,424.09 1249.42,429.4 1251.29,434.71 1253.16,440.01 1255.04,445.31 1256.91,450.61 1258.78,455.89 1260.66,461.16 1262.53,466.42 1264.4,471.65 1266.28,476.87 1268.15,482.05 1270.02,487.21 1271.89,492.34 1273.77,497.43 1275.64,502.49 1277.51,507.5 1279.39,512.48 1281.26,517.4 1283.13,522.28 1285.01,527.1 1286.88,531.87 1288.75,536.59 1290.62,541.24 1292.5,545.82 1294.37,550.34 1296.24,554.79 1298.12,559.17 1299.99,563.47 1301.86,567.69 1303.74,571.84 1305.61,575.9 1307.48,579.87 1309.35,583.75 1311.23,587.55 1313.1,591.25 1314.97,594.85 1316.85,598.36 1318.72,601.76 1320.59,605.06 1322.47,608.26 1324.34,611.35 1326.21,614.33 1328.08,617.19 1329.96,619.95 1331.83,622.59" stroke="#85cdc3" stroke-width="3.45" fill="none" stroke-linecap="butt" stroke-linejoin="round" stroke-dasharray="3.45,5.69"/><polyline points="732.47,621.08 734.34,618.31 736.22,615.43 738.09,612.42 739.96,609.3 741.84,606.06 743.71,602.71 745.58,599.25 747.45,595.68 749.33,592.01 751.2,588.23 753.07,584.35 754.95,580.38 756.82,576.31 758.69,572.15 760.57,567.9 762.44,563.57 764.31,559.15 766.18,554.65 768.06,550.07 769.93,545.42 771.8,540.69 773.68,535.9 775.55,531.04 777.42,526.12 779.3,521.14 781.17,516.1 783.04,511.01 784.91,505.87 786.79,500.68 788.66,495.45 790.53,490.18 792.41,484.87 794.28,479.53 796.15,474.15 798.03,468.75 799.9,463.33 801.77,457.88 803.64,452.42 805.52,446.94 807.39,441.45 809.26,435.95 811.14,430.44 813.01,424.93 814.88,419.43 816.76,413.92 818.63,408.42 820.5,402.94 822.37,397.46 824.25,392 826.12,386.56 827.99,381.13 829.87,375.73 831.74,370.36 833.61,365.01 835.49,359.7 837.36,354.42 839.23,349.17 841.1,343.96 842.98,338.8 844.85,333.67 846.72,328.59 848.6,323.56 850.47,318.57 852.34,313.64 854.22,308.76 856.09,303.93 857.96,299.16 859.83,294.45 861.71,289.79 863.58,285.2 865.45,280.67 867.33,276.2 869.2,271.8 871.07,267.46 872.95,263.2 874.82,258.99 876.69,254.86 878.56,250.8 880.44,246.81 882.31,242.89 884.18,239.05 886.06,235.27 887.93,231.57 889.8,227.95 891.68,224.4 893.55,220.92 895.42,217.52 897.29,214.19 899.17,210.94 901.04,207.76 902.91,204.66 904.79,201.63 906.66,198.68 908.53,195.8 910.41,192.99 912.28,190.26 914.15,187.6 916.02,185.02 917.9,182.51 919.77,180.06 921.64,177.69 923.52,175.39 925.39,173.16 927.26,171 929.14,168.91 931.01,166.88 932.88,164.92 934.75,163.02 936.63,161.19 938.5,159.42 940.37,157.72 942.25,156.07 944.12,154.48 945.99,152.96 947.87,151.49 949.74,150.07 951.61,148.71 953.48,147.41 955.36,146.16 957.23,144.96 959.1,143.81 960.98,142.7 962.85,141.65 964.72,140.64 966.6,139.68 968.47,138.76 970.34,137.89 972.21,137.05 974.09,136.26 975.96,135.5 977.83,134.79 979.71,134.11 981.58,133.46 983.45,132.85 985.33,132.27 987.2,131.73 989.07,131.21 990.94,130.73 992.82,130.27 994.69,129.85 996.56,129.45 998.44,129.07 1000.31,128.72 1002.18,128.4 1004.06,128.1 1005.93,127.82 1007.8,127.57 1009.67,127.33 1011.55,127.12 1013.42,126.93 1015.29,126.76 1017.17,126.6 1019.04,126.47 1020.91,126.36 1022.79,126.26 1024.66,126.18 1026.53,126.12 1028.4,126.08 1030.28,126.05 1032.15,126.04 1034.02,126.05 1035.9,126.08 1037.77,126.12 1039.64,126.18 1041.52,126.26 1043.39,126.36 1045.26,126.47 1047.13,126.6 1049.01,126.76 1050.88,126.93 1052.75,127.12 1054.63,127.33 1056.5,127.57 1058.37,127.82 1060.25,128.1 1062.12,128.4 1063.99,128.72 1065.86,129.07 1067.74,129.45 1069.61,129.85 1071.48,130.27 1073.36,130.73 1075.23,131.21 1077.1,131.73 1078.98,132.27 1080.85,132.85 1082.72,133.46 1084.59,134.11 1086.47,134.79 1088.34,135.5 1090.21,136.26 1092.09,137.05 1093.96,137.89 1095.83,138.76 1097.71,139.68 1099.58,140.64 1101.45,141.65 1103.32,142.7 1105.2,143.81 1107.07,144.96 1108.94,146.16 1110.82,147.41 1112.69,148.71 1114.56,150.07 1116.44,151.49 1118.31,152.96 1120.18,154.48 1122.05,156.07 1123.93,157.72 1125.8,159.42 1127.67,161.19 1129.55,163.02 1131.42,164.92 1133.29,166.88 1135.17,168.91 1137.04,171 1138.91,173.16 1140.78,175.39 1142.66,177.69 1144.53,180.06 1146.4,182.51 1148.28,185.02 1150.15,187.6 1152.02,190.26 1153.89,192.99 1155.77,195.8 1157.64,198.68 1159.51,201.63 1161.39,204.66 1163.26,207.76 1165.13,210.94 1167.01,214.19 1168.88,217.52 1170.75,220.92 1172.62,224.4 1174.5,227.95 1176.37,231.57 1178.24,235.27 1180.12,239.05 1181.99,242.89 1183.86,246.81 1185.74,250.8 1187.61,254.86 1189.48,258.99 1191.36,263.2 1193.23,267.46 1195.1,271.8 1196.97,276.2 1198.85,280.67 1200.72,285.2 1202.59,289.79 1204.47,294.45 1206.34,299.16 1208.21,303.93 1210.09,308.76 1211.96,313.64 1213.83,318.57 1215.7,323.56 1217.58,328.59 1219.45,333.67 1221.32,338.8 1223.2,343.96 1225.07,349.17 1226.94,354.42 1228.82,359.7 1230.69,365.01 1232.56,370.36 1234.43,375.73 1236.31,381.13 1238.18,386.56 1240.05,392 1241.93,397.46 1243.8,402.94 1245.67,408.42 1247.55,413.92 1249.42,419.43 1251.29,424.93 1253.16,430.44 1255.04,435.95 1256.91,441.45 1258.78,446.94 1260.66,452.42 1262.53,457.88 1264.4,463.33 1266.28,468.75 1268.15,474.15 1270.02,479.53 1271.89,484.87 1273.77,490.18 1275.64,495.45 1277.51,500.68 1279.39,505.87 1281.26,511.01 1283.13,516.1 1285.01,521.14 1286.88,526.12 1288.75,531.04 1290.62,535.9 1292.5,540.69 1294.37,545.42 1296.24,550.07 1298.12,554.65 1299.99,559.15 1301.86,563.57 1303.74,567.9 1305.61,572.15 1307.48,576.31 1309.35,580.38 1311.23,584.35 1313.1,588.23 1314.97,592.01 1316.85,595.68 1318.72,599.25 1320.59,602.71 1322.47,606.06 1324.34,609.3 1326.21,612.42 1328.08,615.43 1329.96,618.31 1331.83,621.08" stroke="#ee7a6b" stroke-width="3.45" fill="none" stroke-linecap="round" stroke-linejoin="round"/><polyline points="732.47,578.53 734.34,575.92 736.22,573.2 738.09,570.37 739.96,567.42 741.84,564.37 743.71,561.22 745.58,557.96 747.45,554.6 749.33,551.14 751.2,547.58 753.07,543.93 754.95,540.19 756.82,536.35 758.69,532.43 760.57,528.43 762.44,524.34 764.31,520.18 766.18,515.94 768.06,511.63 769.93,507.24 771.8,502.79 773.68,498.27 775.55,493.69 777.42,489.05 779.3,484.36 781.17,479.61 783.04,474.82 784.91,469.97 786.79,465.08 788.66,460.15 790.53,455.18 792.41,450.18 794.28,445.14 796.15,440.08 798.03,434.99 799.9,429.87 801.77,424.74 803.64,419.59 805.52,414.42 807.39,409.25 809.26,404.06 811.14,398.87 813.01,393.68 814.88,388.48 816.76,383.29 818.63,378.11 820.5,372.93 822.37,367.77 824.25,362.62 826.12,357.49 827.99,352.37 829.87,347.28 831.74,342.21 833.61,337.16 835.49,332.15 837.36,327.17 839.23,322.22 841.1,317.3 842.98,312.43 844.85,307.59 846.72,302.8 848.6,298.05 850.47,293.34 852.34,288.69 854.22,284.08 856.09,279.52 857.96,275.02 859.83,270.57 861.71,266.17 863.58,261.83 865.45,257.56 867.33,253.34 869.2,249.18 871.07,245.08 872.95,241.05 874.82,237.08 876.69,233.18 878.56,229.34 880.44,225.57 882.31,221.86 884.18,218.23 886.06,214.66 887.93,211.16 889.8,207.73 891.68,204.38 893.55,201.09 895.42,197.87 897.29,194.72 899.17,191.64 901.04,188.64 902.91,185.7 904.79,182.83 906.66,180.04 908.53,177.31 910.41,174.65 912.28,172.07 914.15,169.55 916.02,167.1 917.9,164.72 919.77,162.4 921.64,160.16 923.52,157.98 925.39,155.86 927.26,153.81 929.14,151.82 931.01,149.9 932.88,148.04 934.75,146.24 936.63,144.5 938.5,142.82 940.37,141.2 942.25,139.63 944.12,138.12 945.99,136.67 947.87,135.27 949.74,133.93 951.61,132.63 953.48,131.39 955.36,130.2 957.23,129.06 959.1,127.96 960.98,126.91 962.85,125.9 964.72,124.94 966.6,124.03 968.47,123.15 970.34,122.31 972.21,121.52 974.09,120.76 975.96,120.04 977.83,119.35 979.71,118.7 981.58,118.08 983.45,117.5 985.33,116.94 987.2,116.42 989.07,115.93 990.94,115.46 992.82,115.03 994.69,114.62 996.56,114.23 998.44,113.87 1000.31,113.54 1002.18,113.23 1004.06,112.94 1005.93,112.67 1007.8,112.43 1009.67,112.2 1011.55,112 1013.42,111.81 1015.29,111.65 1017.17,111.5 1019.04,111.37 1020.91,111.26 1022.79,111.17 1024.66,111.09 1026.53,111.03 1028.4,110.99 1030.28,110.96 1032.15,110.96 1034.02,110.96 1035.9,110.99 1037.77,111.03 1039.64,111.09 1041.52,111.17 1043.39,111.26 1045.26,111.37 1047.13,111.5 1049.01,111.65 1050.88,111.81 1052.75,112 1054.63,112.2 1056.5,112.43 1058.37,112.67 1060.25,112.94 1062.12,113.23 1063.99,113.54 1065.86,113.87 1067.74,114.23 1069.61,114.62 1071.48,115.03 1073.36,115.46 1075.23,115.93 1077.1,116.42 1078.98,116.94 1080.85,117.5 1082.72,118.08 1084.59,118.7 1086.47,119.35 1088.34,120.04 1090.21,120.76 1092.09,121.52 1093.96,122.31 1095.83,123.15 1097.71,124.03 1099.58,124.94 1101.45,125.9 1103.32,126.91 1105.2,127.96 1107.07,129.06 1108.94,130.2 1110.82,131.39 1112.69,132.63 1114.56,133.93 1116.44,135.27 1118.31,136.67 1120.18,138.12 1122.05,139.63 1123.93,141.2 1125.8,142.82 1127.67,144.5 1129.55,146.24 1131.42,148.04 1133.29,149.9 1135.17,151.82 1137.04,153.81 1138.91,155.86 1140.78,157.98 1142.66,160.16 1144.53,162.4 1146.4,164.72 1148.28,167.1 1150.15,169.55 1152.02,172.07 1153.89,174.65 1155.77,177.31 1157.64,180.04 1159.51,182.83 1161.39,185.7 1163.26,188.64 1165.13,191.64 1167.01,194.72 1168.88,197.87 1170.75,201.09 1172.62,204.38 1174.5,207.73 1176.37,211.16 1178.24,214.66 1180.12,218.23 1181.99,221.86 1183.86,225.57 1185.74,229.34 1187.61,233.18 1189.48,237.08 1191.36,241.05 1193.23,245.08 1195.1,249.18 1196.97,253.34 1198.85,257.56 1200.72,261.83 1202.59,266.17 1204.47,270.57 1206.34,275.02 1208.21,279.52 1210.09,284.08 1211.96,288.69 1213.83,293.34 1215.7,298.05 1217.58,302.8 1219.45,307.59 1221.32,312.43 1223.2,317.3 1225.07,322.22 1226.94,327.17 1228.82,332.15 1230.69,337.16 1232.56,342.21 1234.43,347.28 1236.31,352.37 1238.18,357.49 1240.05,362.62 1241.93,367.77 1243.8,372.93 1245.67,378.11 1247.55,383.29 1249.42,388.48 1251.29,393.68 1253.16,398.87 1255.04,404.06 1256.91,409.25 1258.78,414.42 1260.66,419.59 1262.53,424.74 1264.4,429.87 1266.28,434.99 1268.15,440.08 1270.02,445.14 1271.89,450.18 1273.77,455.18 1275.64,460.15 1277.51,465.08 1279.39,469.97 1281.26,474.82 1283.13,479.61 1285.01,484.36 1286.88,489.05 1288.75,493.69 1290.62,498.27 1292.5,502.79 1294.37,507.24 1296.24,511.63 1298.12,515.94 1299.99,520.18 1301.86,524.34 1303.74,528.43 1305.61,532.43 1307.48,536.35 1309.35,540.19 1311.23,543.93 1313.1,547.58 1314.97,551.14 1316.85,554.6 1318.72,557.96 1320.59,561.22 1322.47,564.37 1324.34,567.42 1326.21,570.37 1328.08,573.2 1329.96,575.92 1331.83,578.53" stroke="#ee7a6b" stroke-width="3.45" fill="none" stroke-linecap="butt" stroke-linejoin="round" stroke-dasharray="12.77,5.52"/><polyline points="732.47,538.64 734.34,536.16 736.22,533.57 738.09,530.87 739.96,528.07 741.84,525.17 743.71,522.17 745.58,519.06 747.45,515.87 749.33,512.58 751.2,509.19 753.07,505.72 754.95,502.16 756.82,498.52 758.69,494.79 760.57,490.99 762.44,487.1 764.31,483.14 766.18,479.12 768.06,475.02 769.93,470.85 771.8,466.62 773.68,462.33 775.55,457.98 777.42,453.58 779.3,449.12 781.17,444.62 783.04,440.06 784.91,435.46 786.79,430.83 788.66,426.15 790.53,421.44 792.41,416.69 794.28,411.92 796.15,407.12 798.03,402.29 799.9,397.44 801.77,392.58 803.64,387.7 805.52,382.81 807.39,377.91 809.26,373 811.14,368.09 813.01,363.17 814.88,358.26 816.76,353.35 818.63,348.45 820.5,343.56 822.37,338.68 824.25,333.81 826.12,328.96 827.99,324.13 829.87,319.33 831.74,314.54 833.61,309.79 835.49,305.06 837.36,300.36 839.23,295.7 841.1,291.07 842.98,286.48 844.85,281.92 846.72,277.41 848.6,272.94 850.47,268.52 852.34,264.14 854.22,259.82 856.09,255.54 857.96,251.31 859.83,247.14 861.71,243.02 863.58,238.95 865.45,234.94 867.33,230.99 869.2,227.1 871.07,223.27 872.95,219.5 874.82,215.79 876.69,212.15 878.56,208.57 880.44,205.05 882.31,201.6 884.18,198.22 886.06,194.9 887.93,191.64 889.8,188.46 891.68,185.34 893.55,182.29 895.42,179.3 897.29,176.39 899.17,173.54 901.04,170.76 902.91,168.05 904.79,165.4 906.66,162.82 908.53,160.31 910.41,157.87 912.28,155.49 914.15,153.18 916.02,150.93 917.9,148.75 919.77,146.63 921.64,144.58 923.52,142.58 925.39,140.65 927.26,138.79 929.14,136.98 931.01,135.23 932.88,133.55 934.75,131.92 936.63,130.34 938.5,128.83 940.37,127.36 942.25,125.96 944.12,124.6 945.99,123.3 947.87,122.05 949.74,120.85 951.61,119.69 953.48,118.59 955.36,117.53 957.23,116.51 959.1,115.55 960.98,114.62 962.85,113.73 964.72,112.89 966.6,112.08 968.47,111.32 970.34,110.59 972.21,109.89 974.09,109.24 975.96,108.61 977.83,108.02 979.71,107.46 981.58,106.93 983.45,106.43 985.33,105.95 987.2,105.51 989.07,105.09 990.94,104.69 992.82,104.33 994.69,103.98 996.56,103.66 998.44,103.36 1000.31,103.08 1002.18,102.82 1004.06,102.58 1005.93,102.35 1007.8,102.15 1009.67,101.96 1011.55,101.8 1013.42,101.64 1015.29,101.51 1017.17,101.39 1019.04,101.28 1020.91,101.19 1022.79,101.11 1024.66,101.05 1026.53,101 1028.4,100.97 1030.28,100.95 1032.15,100.94 1034.02,100.95 1035.9,100.97 1037.77,101 1039.64,101.05 1041.52,101.11 1043.39,101.19 1045.26,101.28 1047.13,101.39 1049.01,101.51 1050.88,101.64 1052.75,101.8 1054.63,101.96 1056.5,102.15 1058.37,102.35 1060.25,102.58 1062.12,102.82 1063.99,103.08 1065.86,103.36 1067.74,103.66 1069.61,103.98 1071.48,104.33 1073.36,104.69 1075.23,105.09 1077.1,105.51 1078.98,105.95 1080.85,106.43 1082.72,106.93 1084.59,107.46 1086.47,108.02 1088.34,108.61 1090.21,109.24 1092.09,109.89 1093.96,110.59 1095.83,111.32 1097.71,112.08 1099.58,112.89 1101.45,113.73 1103.32,114.62 1105.2,115.55 1107.07,116.51 1108.94,117.53 1110.82,118.59 1112.69,119.69 1114.56,120.85 1116.44,122.05 1118.31,123.3 1120.18,124.6 1122.05,125.96 1123.93,127.36 1125.8,128.83 1127.67,130.34 1129.55,131.92 1131.42,133.55 1133.29,135.23 1135.17,136.98 1137.04,138.79 1138.91,140.65 1140.78,142.58 1142.66,144.58 1144.53,146.63 1146.4,148.75 1148.28,150.93 1150.15,153.18 1152.02,155.49 1153.89,157.87 1155.77,160.31 1157.64,162.82 1159.51,165.4 1161.39,168.05 1163.26,170.76 1165.13,173.54 1167.01,176.39 1168.88,179.3 1170.75,182.29 1172.62,185.34 1174.5,188.46 1176.37,191.64 1178.24,194.9 1180.12,198.22 1181.99,201.6 1183.86,205.05 1185.74,208.57 1187.61,212.15 1189.48,215.79 1191.36,219.5 1193.23,223.27 1195.1,227.1 1196.97,230.99 1198.85,234.94 1200.72,238.95 1202.59,243.02 1204.47,247.14 1206.34,251.31 1208.21,255.54 1210.09,259.82 1211.96,264.14 1213.83,268.52 1215.7,272.94 1217.58,277.41 1219.45,281.92 1221.32,286.48 1223.2,291.07 1225.07,295.7 1226.94,300.36 1228.82,305.06 1230.69,309.79 1232.56,314.54 1234.43,319.33 1236.31,324.13 1238.18,328.96 1240.05,333.81 1241.93,338.68 1243.8,343.56 1245.67,348.45 1247.55,353.35 1249.42,358.26 1251.29,363.17 1253.16,368.09 1255.04,373 1256.91,377.91 1258.78,382.81 1260.66,387.7 1262.53,392.58 1264.4,397.44 1266.28,402.29 1268.15,407.12 1270.02,411.92 1271.89,416.69 1273.77,421.44 1275.64,426.15 1277.51,430.83 1279.39,435.46 1281.26,440.06 1283.13,444.62 1285.01,449.12 1286.88,453.58 1288.75,457.98 1290.62,462.33 1292.5,466.62 1294.37,470.85 1296.24,475.02 1298.12,479.12 1299.99,483.14 1301.86,487.1 1303.74,490.99 1305.61,494.79 1307.48,498.52 1309.35,502.16 1311.23,505.72 1313.1,509.19 1314.97,512.58 1316.85,515.87 1318.72,519.06 1320.59,522.17 1322.47,525.17 1324.34,528.07 1326.21,530.87 1328.08,533.57 1329.96,536.16 1331.83,538.64" stroke="#ee7a6b" stroke-width="3.45" fill="none" stroke-linecap="butt" stroke-linejoin="round" stroke-dasharray="22.08,5.52,3.45,5.52"/><polyline points="732.47,458.04 734.34,456.18 736.22,454.22 738.09,452.19 739.96,450.08 741.84,447.89 743.71,445.62 745.58,443.28 747.45,440.86 749.33,438.37 751.2,435.81 753.07,433.17 754.95,430.47 756.82,427.71 758.69,424.87 760.57,421.98 762.44,419.02 764.31,416.01 766.18,412.93 768.06,409.8 769.93,406.61 771.8,403.38 773.68,400.09 775.55,396.75 777.42,393.37 779.3,389.94 781.17,386.47 783.04,382.96 784.91,379.41 786.79,375.82 788.66,372.2 790.53,368.54 792.41,364.86 794.28,361.14 796.15,357.4 798.03,353.63 799.9,349.84 801.77,346.03 803.64,342.2 805.52,338.35 807.39,334.49 809.26,330.62 811.14,326.73 813.01,322.84 814.88,318.94 816.76,315.03 818.63,311.12 820.5,307.21 822.37,303.3 824.25,299.39 826.12,295.49 827.99,291.59 829.87,287.7 831.74,283.82 833.61,279.95 835.49,276.09 837.36,272.25 839.23,268.42 841.1,264.61 842.98,260.82 844.85,257.05 846.72,253.31 848.6,249.58 850.47,245.88 852.34,242.21 854.22,238.57 856.09,234.95 857.96,231.36 859.83,227.81 861.71,224.29 863.58,220.8 865.45,217.35 867.33,213.93 869.2,210.55 871.07,207.21 872.95,203.9 874.82,200.64 876.69,197.41 878.56,194.23 880.44,191.09 882.31,187.99 884.18,184.93 886.06,181.92 887.93,178.95 889.8,176.03 891.68,173.15 893.55,170.32 895.42,167.54 897.29,164.8 899.17,162.11 901.04,159.46 902.91,156.86 904.79,154.31 906.66,151.81 908.53,149.36 910.41,146.95 912.28,144.59 914.15,142.28 916.02,140.02 917.9,137.8 919.77,135.63 921.64,133.51 923.52,131.44 925.39,129.42 927.26,127.44 929.14,125.51 931.01,123.62 932.88,121.79 934.75,119.99 936.63,118.25 938.5,116.55 940.37,114.89 942.25,113.28 944.12,111.71 945.99,110.19 947.87,108.71 949.74,107.27 951.61,105.88 953.48,104.52 955.36,103.21 957.23,101.94 959.1,100.71 960.98,99.52 962.85,98.37 964.72,97.26 966.6,96.18 968.47,95.15 970.34,94.15 972.21,93.19 974.09,92.26 975.96,91.37 977.83,90.51 979.71,89.69 981.58,88.91 983.45,88.15 985.33,87.43 987.2,86.74 989.07,86.09 990.94,85.46 992.82,84.87 994.69,84.31 996.56,83.78 998.44,83.27 1000.31,82.8 1002.18,82.36 1004.06,81.94 1005.93,81.56 1007.8,81.2 1009.67,80.87 1011.55,80.57 1013.42,80.29 1015.29,80.04 1017.17,79.82 1019.04,79.62 1020.91,79.46 1022.79,79.31 1024.66,79.2 1026.53,79.11 1028.4,79.04 1030.28,79 1032.15,78.99 1034.02,79 1035.9,79.04 1037.77,79.11 1039.64,79.2 1041.52,79.31 1043.39,79.46 1045.26,79.62 1047.13,79.82 1049.01,80.04 1050.88,80.29 1052.75,80.57 1054.63,80.87 1056.5,81.2 1058.37,81.56 1060.25,81.94 1062.12,82.36 1063.99,82.8 1065.86,83.27 1067.74,83.78 1069.61,84.31 1071.48,84.87 1073.36,85.46 1075.23,86.09 1077.1,86.74 1078.98,87.43 1080.85,88.15 1082.72,88.91 1084.59,89.69 1086.47,90.51 1088.34,91.37 1090.21,92.26 1092.09,93.19 1093.96,94.15 1095.83,95.15 1097.71,96.18 1099.58,97.26 1101.45,98.37 1103.32,99.52 1105.2,100.71 1107.07,101.94 1108.94,103.21 1110.82,104.52 1112.69,105.88 1114.56,107.27 1116.44,108.71 1118.31,110.19 1120.18,111.71 1122.05,113.28 1123.93,114.89 1125.8,116.55 1127.67,118.25 1129.55,119.99 1131.42,121.79 1133.29,123.62 1135.17,125.51 1137.04,127.44 1138.91,129.42 1140.78,131.44 1142.66,133.51 1144.53,135.63 1146.4,137.8 1148.28,140.02 1150.15,142.28 1152.02,144.59 1153.89,146.95 1155.77,149.36 1157.64,151.81 1159.51,154.31 1161.39,156.86 1163.26,159.46 1165.13,162.11 1167.01,164.8 1168.88,167.54 1170.75,170.32 1172.62,173.15 1174.5,176.03 1176.37,178.95 1178.24,181.92 1180.12,184.93 1181.99,187.99 1183.86,191.09 1185.74,194.23 1187.61,197.41 1189.48,200.64 1191.36,203.9 1193.23,207.21 1195.1,210.55 1196.97,213.93 1198.85,217.35 1200.72,220.8 1202.59,224.29 1204.47,227.81 1206.34,231.36 1208.21,234.95 1210.09,238.57 1211.96,242.21 1213.83,245.88 1215.7,249.58 1217.58,253.31 1219.45,257.05 1221.32,260.82 1223.2,264.61 1225.07,268.42 1226.94,272.25 1228.82,276.09 1230.69,279.95 1232.56,283.82 1234.43,287.7 1236.31,291.59 1238.18,295.49 1240.05,299.39 1241.93,303.3 1243.8,307.21 1245.67,311.12 1247.55,315.03 1249.42,318.94 1251.29,322.84 1253.16,326.73 1255.04,330.62 1256.91,334.49 1258.78,338.35 1260.66,342.2 1262.53,346.03 1264.4,349.84 1266.28,353.63 1268.15,357.4 1270.02,361.14 1271.89,364.86 1273.77,368.54 1275.64,372.2 1277.51,375.82 1279.39,379.41 1281.26,382.96 1283.13,386.47 1285.01,389.94 1286.88,393.37 1288.75,396.75 1290.62,400.09 1292.5,403.38 1294.37,406.61 1296.24,409.8 1298.12,412.93 1299.99,416.01 1301.86,419.02 1303.74,421.98 1305.61,424.87 1307.48,427.71 1309.35,430.47 1311.23,433.17 1313.1,435.81 1314.97,438.37 1316.85,440.86 1318.72,443.28 1320.59,445.62 1322.47,447.89 1324.34,450.08 1326.21,452.19 1328.08,454.22 1329.96,456.18 1331.83,458.04" stroke="#ee7a6b" stroke-width="3.45" fill="none" stroke-linecap="butt" stroke-linejoin="round" stroke-dasharray="3.45,5.69"/><polyline points="732.47,369.51 734.34,368.18 736.22,366.79 738.09,365.35 739.96,363.84 741.84,362.28 743.71,360.67 745.58,359 747.45,357.27 749.33,355.49 751.2,353.66 753.07,351.77 754.95,349.84 756.82,347.85 758.69,345.82 760.57,343.74 762.44,341.62 764.31,339.44 766.18,337.23 768.06,334.97 769.93,332.67 771.8,330.33 773.68,327.95 775.55,325.53 777.42,323.08 779.3,320.59 781.17,318.06 783.04,315.51 784.91,312.92 786.79,310.3 788.66,307.65 790.53,304.97 792.41,302.26 794.28,299.53 796.15,296.78 798.03,294 799.9,291.2 801.77,288.38 803.64,285.55 805.52,282.69 807.39,279.82 809.26,276.93 811.14,274.03 813.01,271.12 814.88,268.2 816.76,265.26 818.63,262.32 820.5,259.37 822.37,256.41 824.25,253.45 826.12,250.49 827.99,247.52 829.87,244.56 831.74,241.59 833.61,238.62 835.49,235.66 837.36,232.7 839.23,229.74 841.1,226.79 842.98,223.85 844.85,220.92 846.72,217.99 848.6,215.08 850.47,212.17 852.34,209.28 854.22,206.4 856.09,203.54 857.96,200.69 859.83,197.85 861.71,195.04 863.58,192.24 865.45,189.46 867.33,186.7 869.2,183.96 871.07,181.24 872.95,178.54 874.82,175.86 876.69,173.21 878.56,170.59 880.44,167.98 882.31,165.41 884.18,162.86 886.06,160.33 887.93,157.83 889.8,155.36 891.68,152.92 893.55,150.51 895.42,148.13 897.29,145.77 899.17,143.45 901.04,141.16 902.91,138.9 904.79,136.67 906.66,134.47 908.53,132.3 910.41,130.17 912.28,128.06 914.15,125.99 916.02,123.96 917.9,121.96 919.77,119.99 921.64,118.05 923.52,116.15 925.39,114.28 927.26,112.45 929.14,110.65 931.01,108.88 932.88,107.15 934.75,105.46 936.63,103.8 938.5,102.17 940.37,100.58 942.25,99.02 944.12,97.49 945.99,96.01 947.87,94.55 949.74,93.13 951.61,91.75 953.48,90.39 955.36,89.08 957.23,87.79 959.1,86.54 960.98,85.33 962.85,84.15 964.72,83 966.6,81.89 968.47,80.81 970.34,79.76 972.21,78.75 974.09,77.76 975.96,76.82 977.83,75.9 979.71,75.02 981.58,74.17 983.45,73.35 985.33,72.57 987.2,71.82 989.07,71.09 990.94,70.41 992.82,69.75 994.69,69.12 996.56,68.53 998.44,67.96 1000.31,67.43 1002.18,66.93 1004.06,66.46 1005.93,66.02 1007.8,65.61 1009.67,65.24 1011.55,64.89 1013.42,64.57 1015.29,64.29 1017.17,64.03 1019.04,63.81 1020.91,63.61 1022.79,63.45 1024.66,63.31 1026.53,63.21 1028.4,63.13 1030.28,63.09 1032.15,63.07 1034.02,63.09 1035.9,63.13 1037.77,63.21 1039.64,63.31 1041.52,63.45 1043.39,63.61 1045.26,63.81 1047.13,64.03 1049.01,64.29 1050.88,64.57 1052.75,64.89 1054.63,65.24 1056.5,65.61 1058.37,66.02 1060.25,66.46 1062.12,66.93 1063.99,67.43 1065.86,67.96 1067.74,68.53 1069.61,69.12 1071.48,69.75 1073.36,70.41 1075.23,71.09 1077.1,71.82 1078.98,72.57 1080.85,73.35 1082.72,74.17 1084.59,75.02 1086.47,75.9 1088.34,76.82 1090.21,77.76 1092.09,78.75 1093.96,79.76 1095.83,80.81 1097.71,81.89 1099.58,83 1101.45,84.15 1103.32,85.33 1105.2,86.54 1107.07,87.79 1108.94,89.08 1110.82,90.39 1112.69,91.75 1114.56,93.13 1116.44,94.55 1118.31,96.01 1120.18,97.49 1122.05,99.02 1123.93,100.58 1125.8,102.17 1127.67,103.8 1129.55,105.46 1131.42,107.15 1133.29,108.88 1135.17,110.65 1137.04,112.45 1138.91,114.28 1140.78,116.15 1142.66,118.05 1144.53,119.99 1146.4,121.96 1148.28,123.96 1150.15,125.99 1152.02,128.06 1153.89,130.17 1155.77,132.3 1157.64,134.47 1159.51,136.67 1161.39,138.9 1163.26,141.16 1165.13,143.45 1167.01,145.77 1168.88,148.13 1170.75,150.51 1172.62,152.92 1174.5,155.36 1176.37,157.83 1178.24,160.33 1180.12,162.86 1181.99,165.41 1183.86,167.98 1185.74,170.59 1187.61,173.21 1189.48,175.86 1191.36,178.54 1193.23,181.24 1195.1,183.96 1196.97,186.7 1198.85,189.46 1200.72,192.24 1202.59,195.04 1204.47,197.85 1206.34,200.69 1208.21,203.54 1210.09,206.4 1211.96,209.28 1213.83,212.17 1215.7,215.08 1217.58,217.99 1219.45,220.92 1221.32,223.85 1223.2,226.79 1225.07,229.74 1226.94,232.7 1228.82,235.66 1230.69,238.62 1232.56,241.59 1234.43,244.56 1236.31,247.52 1238.18,250.49 1240.05,253.45 1241.93,256.41 1243.8,259.37 1245.67,262.32 1247.55,265.26 1249.42,268.2 1251.29,271.12 1253.16,274.03 1255.04,276.93 1256.91,279.82 1258.78,282.69 1260.66,285.55 1262.53,288.38 1264.4,291.2 1266.28,294 1268.15,296.78 1270.02,299.53 1271.89,302.26 1273.77,304.97 1275.64,307.65 1277.51,310.3 1279.39,312.92 1281.26,315.51 1283.13,318.06 1285.01,320.59 1286.88,323.08 1288.75,325.53 1290.62,327.95 1292.5,330.33 1294.37,332.67 1296.24,334.97 1298.12,337.23 1299.99,339.44 1301.86,341.62 1303.74,343.74 1305.61,345.82 1307.48,347.85 1309.35,349.84 1311.23,351.77 1313.1,353.66 1314.97,355.49 1316.85,357.27 1318.72,359 1320.59,360.67 1322.47,362.28 1324.34,363.84 1326.21,365.35 1328.08,366.79 1329.96,368.18 1331.83,369.51" stroke="#8a88c0" stroke-width="3.45" fill="none" stroke-linecap="round" stroke-linejoin="round"/></g>
<rect x="809" y="541.2" width="446" height="143.4" rx="4" fill="#fff" fill-opacity="0.8" stroke="#d8d8d8" stroke-width="3"/>
<line x1="815.3" y1="558.5" x2="846.1" y2="558.5" stroke="#7aa9d5" stroke-width="3.45" fill="none" stroke-linecap="round" stroke-linejoin="round"/>
<text x="858.34" y="563.7" font-size="15.84" textLength="24.21" lengthAdjust="spacingAndGlyphs" fill="#333333">Si I</text>
<line x1="815.3" y1="580.8" x2="846.1" y2="580.8" stroke="#7aa9d5" stroke-width="3.45" fill="none" stroke-linecap="butt" stroke-linejoin="round" stroke-dasharray="12.77,5.52"/>
<text x="857.79" y="585.9" font-size="15.84" textLength="27.48" lengthAdjust="spacingAndGlyphs" fill="#333333">Fe I</text>
<line x1="815.3" y1="608.3" x2="846.1" y2="608.3" stroke="#f8b36b" stroke-width="3.45" fill="none" stroke-linecap="round" stroke-linejoin="round"/>
<text x="858.22" y="611.4" font-size="15.84" textLength="80.02" lengthAdjust="spacingAndGlyphs" fill="#333333">Hα ± 1.5 Å</text>
<line x1="815.3" y1="636.1" x2="846.1" y2="636.1" stroke="#f8b36b" stroke-width="3.45" fill="none" stroke-linecap="butt" stroke-linejoin="round" stroke-dasharray="12.77,5.52"/>
<text x="858.22" y="639.5" font-size="15.84" textLength="80.02" lengthAdjust="spacingAndGlyphs" fill="#333333">Hα ± 1.4 Å</text>
<line x1="815.3" y1="663.3" x2="846.1" y2="663.3" stroke="#f8b36b" stroke-width="3.45" fill="none" stroke-linecap="butt" stroke-linejoin="round" stroke-dasharray="22.08,5.52,3.45,5.52"/>
<text x="858.22" y="667.5" font-size="15.84" textLength="80.02" lengthAdjust="spacingAndGlyphs" fill="#333333">Hα ± 1.3 Å</text>
<line x1="970" y1="558" x2="1000.8" y2="558" stroke="#f8b36b" stroke-width="3.45" fill="none" stroke-linecap="butt" stroke-linejoin="round" stroke-dasharray="3.45,5.69"/>
<text x="1013.32" y="561.4" font-size="15.84" textLength="80.02" lengthAdjust="spacingAndGlyphs" fill="#333333">Hα ± 1.2 Å</text>
<line x1="970" y1="586.1" x2="1000.8" y2="586.1" stroke="#85cdc3" stroke-width="3.45" fill="none" stroke-linecap="round" stroke-linejoin="round"/>
<text x="1013.32" y="588.7" font-size="15.84" textLength="80.02" lengthAdjust="spacingAndGlyphs" fill="#333333">Hα ± 1.1 Å</text>
<line x1="970" y1="614.5" x2="1000.8" y2="614.5" stroke="#85cdc3" stroke-width="3.45" fill="none" stroke-linecap="butt" stroke-linejoin="round" stroke-dasharray="12.77,5.52"/>
<text x="1013.32" y="617.1" font-size="15.84" textLength="80.02" lengthAdjust="spacingAndGlyphs" fill="#333333">Hα ± 1.0 Å</text>
<line x1="970" y1="641.6" x2="1000.8" y2="641.6" stroke="#85cdc3" stroke-width="3.45" fill="none" stroke-linecap="butt" stroke-linejoin="round" stroke-dasharray="22.08,5.52,3.45,5.52"/>
<text x="1013.32" y="644.8" font-size="15.84" textLength="80.02" lengthAdjust="spacingAndGlyphs" fill="#333333">Hα ± 0.9 Å</text>
<line x1="970" y1="670" x2="1000.8" y2="670" stroke="#85cdc3" stroke-width="3.45" fill="none" stroke-linecap="butt" stroke-linejoin="round" stroke-dasharray="3.45,5.69"/>
<text x="1013.32" y="671.8" font-size="15.84" textLength="80.02" lengthAdjust="spacingAndGlyphs" fill="#333333">Hα ± 0.8 Å</text>
<line x1="1124.8" y1="558.2" x2="1155.6" y2="558.2" stroke="#ee7a6b" stroke-width="3.45" fill="none" stroke-linecap="round" stroke-linejoin="round"/>
<text x="1167.52" y="561" font-size="15.84" textLength="80.02" lengthAdjust="spacingAndGlyphs" fill="#333333">Hα ± 0.7 Å</text>
<line x1="1124.8" y1="586" x2="1155.6" y2="586" stroke="#ee7a6b" stroke-width="3.45" fill="none" stroke-linecap="butt" stroke-linejoin="round" stroke-dasharray="12.77,5.52"/>
<text x="1167.52" y="588.8" font-size="15.84" textLength="80.02" lengthAdjust="spacingAndGlyphs" fill="#333333">Hα ± 0.6 Å</text>
<line x1="1124.8" y1="614.2" x2="1155.6" y2="614.2" stroke="#ee7a6b" stroke-width="3.45" fill="none" stroke-linecap="butt" stroke-linejoin="round" stroke-dasharray="22.08,5.52,3.45,5.52"/>
<text x="1167.52" y="616.6" font-size="15.84" textLength="80.02" lengthAdjust="spacingAndGlyphs" fill="#333333">Hα ± 0.5 Å</text>
<line x1="1124.8" y1="641.8" x2="1155.6" y2="641.8" stroke="#ee7a6b" stroke-width="3.45" fill="none" stroke-linecap="butt" stroke-linejoin="round" stroke-dasharray="3.45,5.69"/>
<text x="1167.52" y="644.2" font-size="15.84" textLength="80.02" lengthAdjust="spacingAndGlyphs" fill="#333333">Hα ± 0.4 Å</text>
<line x1="1124.8" y1="669.6" x2="1155.6" y2="669.6" stroke="#8a88c0" stroke-width="3.45" fill="none" stroke-linecap="round" stroke-linejoin="round"/>
<text x="1167.52" y="671.9" font-size="15.84" textLength="80.02" lengthAdjust="spacingAndGlyphs" fill="#333333">Hα ± 0.3 Å</text>
<rect x="702.5" y="51" width="658.9" height="641.7" fill="none" stroke="#333" stroke-width="3"/>
<g stroke="#333" stroke-width="3"><line x1="690.7" y1="115" x2="702.5" y2="115"/><line x1="690.7" y1="243.4" x2="702.5" y2="243.4"/><line x1="690.7" y1="371.75" x2="702.5" y2="371.75"/><line x1="690.7" y1="500.1" x2="702.5" y2="500.1"/><line x1="690.7" y1="628.5" x2="702.5" y2="628.5"/><line x1="844.85" y1="692.7" x2="844.85" y2="704.4"/><line x1="1032.15" y1="692.7" x2="1032.15" y2="704.4"/><line x1="1219.45" y1="692.7" x2="1219.45" y2="704.4"/></g>
<text x="637.87" y="124.64" font-size="27.99" textLength="41.29" lengthAdjust="spacingAndGlyphs" fill="#333333">3.0</text>
<text x="637.87" y="253.04" font-size="27.99" textLength="41.29" lengthAdjust="spacingAndGlyphs" fill="#333333">2.8</text>
<text x="637.87" y="381.39" font-size="27.99" textLength="41.29" lengthAdjust="spacingAndGlyphs" fill="#333333">2.6</text>
<text x="637.87" y="509.74" font-size="27.99" textLength="41.29" lengthAdjust="spacingAndGlyphs" fill="#333333">2.4</text>
<text x="637.87" y="638.14" font-size="27.99" textLength="41.29" lengthAdjust="spacingAndGlyphs" fill="#333333">2.2</text>
<text x="818.44" y="736.03" font-size="27.4" textLength="53.8" lengthAdjust="spacingAndGlyphs" fill="#333333">−50</text>
<text x="1024.28" y="736.03" font-size="27.4" textLength="15.94" lengthAdjust="spacingAndGlyphs" fill="#333333">0</text>
<text x="1203.21" y="736.03" font-size="27.4" textLength="33.05" lengthAdjust="spacingAndGlyphs" fill="#333333">50</text>
<text x="903.02" y="776.8" font-size="31.1" textLength="257.88" lengthAdjust="spacingAndGlyphs" fill="#333333">Latitude (degree)</text>
<text transform="rotate(-90 617.75 563.17)" x="617.75" y="563.17" font-size="31.25" textLength="383.06" lengthAdjust="spacingAndGlyphs" fill="#333333">Angular velocity (μrad / s)</text>
<text x="714.49" y="102.49" font-size="52.56" textLength="30.3" lengthAdjust="spacingAndGlyphs" fill="#333333">b</text></svg>
</body></html>
